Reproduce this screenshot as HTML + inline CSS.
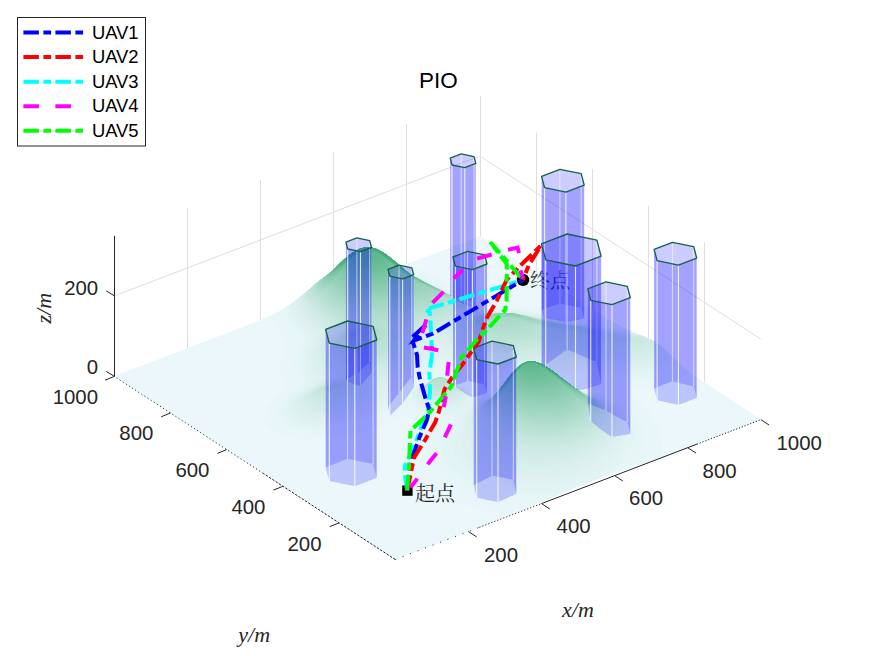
<!DOCTYPE html><html><head><meta charset="utf-8"><title>PIO</title><style>html,body{margin:0;padding:0;background:#fff}svg{display:block}text{font-family:"Liberation Sans",sans-serif}.tk{font-size:20.4px;fill:#262626}.lb{font-family:"Liberation Serif",serif;font-style:italic;font-size:22px;fill:#262626}.lg{font-size:18.4px;fill:#000}.gr{stroke:#dedede;stroke-width:1;fill:none}.ax{stroke:#262626;stroke-width:1;fill:none}.pf{fill:#0000ff;fill-opacity:0.2}.pe{stroke:#fff;stroke-opacity:.85;stroke-width:1.1;fill:none}.pe2{stroke:#fff;stroke-opacity:.6;stroke-width:1;fill:none}.pe3{stroke:#fff;stroke-opacity:.12;stroke-width:1;fill:none}.pt{fill:none;stroke:#176049;stroke-width:1.35;stroke-linejoin:round}.ln{fill:none;stroke-width:4;stroke-linejoin:miter}.cj{font-family:"Liberation Serif","Noto Serif CJK SC",serif;font-size:20px;fill:#262626}</style></head><body>
<svg width="875" height="656" viewBox="0 0 875 656">
<rect width="875" height="656" fill="#fff"/>
<path class="gr" d="M187.5,348.4L187.5,207.8M260.5,320.5L260.5,179.9M333.5,292.5L333.5,151.9M406.5,264.6L406.5,124.0M480.5,236.6L480.5,96.0M704.5,383.1L704.5,242.5M648.5,346.5L648.5,205.9M592.5,309.8L592.5,169.2M536.5,273.2L536.5,132.6M114.3,295.9L480.0,156.1L760.9,339.2"/>
<g id="terrain">
<path d="M396.0,559.6 395.0,559.6 394.0,559.1 388.5,555.4 387.0,554.6 377.0,547.9 375.5,547.1 370.0,543.4 368.5,542.6 357.0,534.9 355.5,534.1 344.0,526.4 342.5,525.6 332.5,518.9 331.0,518.1 324.0,513.4 322.5,512.6 312.5,505.9 311.0,505.1 299.5,497.4 298.0,496.6 286.5,488.9 285.0,488.1 279.5,484.4 278.0,483.6 266.5,475.9 265.0,475.1 253.5,467.4 252.0,466.6 242.0,459.9 240.5,459.1 233.5,454.4 232.0,453.6 222.0,446.9 220.5,446.1 209.0,438.4 207.5,437.6 196.0,429.9 194.5,429.1 189.0,425.4 187.5,424.6 177.5,417.9 176.0,417.1 164.5,409.4 163.0,408.6 151.5,400.9 150.0,400.1 144.5,396.4 143.0,395.6 133.0,388.9 131.5,388.1 120.0,380.4 118.5,379.6 116.0,377.9 115.5,377.6 114.8,377.0 114.5,376.5 114.8,376.0 116.0,375.4 117.0,375.1 118.5,374.4 121.0,373.6 122.5,372.9 125.0,372.1 126.5,371.4 127.5,371.1 129.0,370.4 131.5,369.6 133.0,368.9 134.0,368.6 135.5,367.9 138.0,367.1 139.5,366.4 140.5,366.1 142.0,365.4 144.5,364.6 146.0,363.9 148.5,363.1 150.0,362.4 151.0,362.1 152.5,361.4 155.0,360.6 156.5,359.9 159.0,359.1 160.5,358.4 161.5,358.1 163.0,357.4 165.5,356.6 167.0,355.9 168.0,355.6 169.5,354.9 172.0,354.1 173.5,353.4 174.5,353.1 176.0,352.4 178.5,351.6 180.0,350.9 181.0,350.6 182.5,349.9 185.0,349.1 186.5,348.4 189.0,347.6 190.5,346.9 193.0,346.1 194.5,345.4 195.5,345.1 197.0,344.4 199.5,343.6 201.0,342.9 203.5,342.1 205.0,341.4 206.0,341.1 207.5,340.4 208.5,340.1 210.0,339.4 212.5,338.6 214.0,337.9 215.0,337.6 216.5,336.9 219.0,336.1 220.5,335.4 223.0,334.6 224.5,333.9 227.0,333.1 228.5,332.4 229.5,332.1 231.0,331.4 233.5,330.6 235.0,329.9 236.0,329.6 237.5,328.9 238.5,328.6 240.0,327.9 242.5,327.1 244.0,326.4 246.5,325.6 248.0,324.9 249.0,324.6 250.5,323.9 251.5,323.6 253.0,322.9 254.0,322.6 255.5,321.9 256.5,321.6 258.0,320.9 259.0,320.6 261.5,319.4 262.5,319.1 265.0,317.9 266.0,317.6 270.5,315.4 271.5,315.1 278.5,311.6 279.5,310.9 282.0,309.6 283.0,308.9 285.5,307.6 292.5,302.9 293.0,302.6 294.8,301.0 295.5,300.6 298.8,298.0 299.7,297.5 301.3,296.0 302.5,295.2 304.3,293.5 305.5,292.7 308.0,290.3 309.2,289.5 311.5,287.3 312.7,286.5 315.0,284.3 316.2,283.5 318.3,281.5 319.0,281.1 322.3,278.5 323.2,278.0 324.3,277.0 326.5,275.6 327.8,274.5 329.0,273.7 331.5,271.3 333.0,270.2 340.0,263.3 341.5,262.2 345.5,258.3 346.7,257.5 348.8,255.5 349.5,255.1 350.8,254.0 351.5,253.6 352.8,252.5 353.5,252.1 354.5,251.4 359.5,248.9 360.5,248.6 362.5,247.9 364.0,247.6 364.5,247.4 366.0,247.2 371.0,247.3 372.0,247.6 373.5,247.9 375.5,248.6 376.5,248.9 381.5,251.4 382.5,252.1 384.0,252.9 387.3,255.5 388.2,256.0 389.8,257.5 390.7,258.0 392.3,259.5 393.2,260.0 395.5,262.2 397.0,263.3 399.3,265.5 400.5,265.7 401.5,265.4 403.0,265.1 406.5,263.9 407.5,263.6 408.0,263.4 409.0,263.1 409.5,262.9 410.5,262.6 411.0,262.4 412.0,262.1 413.5,261.4 417.5,260.1 419.0,259.4 423.0,258.1 424.5,257.4 427.0,256.6 428.5,255.9 429.5,255.6 431.0,254.9 433.5,254.1 435.0,253.4 437.5,252.6 439.0,251.9 440.0,251.6 441.5,250.9 444.0,250.1 445.5,249.4 448.0,248.6 449.5,247.9 452.0,247.1 453.5,246.4 454.5,246.1 456.0,245.4 458.5,244.6 460.0,243.9 461.0,243.6 462.5,242.9 465.0,242.1 466.5,241.4 467.5,241.1 469.0,240.4 471.5,239.6 473.0,238.9 474.0,238.6 475.5,237.9 478.0,237.1 479.5,236.4 480.0,236.4 482.0,237.4 493.5,245.1 495.0,245.9 506.5,253.6 508.0,254.4 518.0,261.1 519.5,261.9 525.0,265.6 526.5,266.4 539.5,275.1 541.0,275.9 552.5,283.6 554.0,284.4 561.0,289.1 562.5,289.9 571.0,295.6 572.5,296.4 582.5,303.1 584.0,303.9 589.5,307.6 591.0,308.4 595.0,311.1 596.5,311.9 599.0,313.6 600.5,314.4 601.5,315.1 603.0,315.9 605.5,317.6 607.0,318.4 608.0,319.1 609.5,319.9 610.5,320.6 613.0,321.9 614.0,322.6 615.5,323.4 616.5,324.1 620.0,325.9 621.0,326.6 627.0,329.6 628.0,329.9 631.5,331.6 632.5,331.9 634.0,332.6 635.0,332.9 636.5,333.6 639.0,334.4 640.5,335.1 643.0,335.9 644.5,336.6 645.5,336.9 653.5,340.9 654.5,341.6 656.7,343.0 660.0,345.6 660.7,346.0 663.0,348.2 664.5,349.3 671.0,355.7 672.2,356.5 673.0,357.6 674.0,358.3 679.0,363.2 680.0,363.9 680.5,364.6 681.5,365.3 683.5,367.2 684.7,368.0 686.3,369.5 687.2,370.0 688.8,371.5 689.7,372.0 690.8,373.0 693.2,374.5 694.8,376.0 700.0,379.4 701.0,380.1 701.5,380.4 702.5,381.1 703.0,381.4 704.5,382.6 706.0,383.4 719.0,392.1 720.5,392.9 732.0,400.6 733.5,401.4 742.0,407.1 743.5,407.9 750.5,412.6 752.0,413.4 759.0,418.1 759.5,418.4 760.9,419.5 760.5,420.1 759.5,420.6 758.5,420.9 757.0,421.6 754.5,422.4 753.0,423.1 750.5,423.9 749.0,424.6 748.0,424.9 746.5,425.6 744.0,426.4 742.5,427.1 740.0,427.9 738.5,428.6 736.0,429.4 734.5,430.1 733.5,430.4 732.0,431.1 729.5,431.9 728.0,432.6 727.0,432.9 725.5,433.6 723.0,434.4 721.5,435.1 719.0,435.9 717.5,436.6 716.5,436.9 715.0,437.6 712.5,438.4 711.0,439.1 708.5,439.9 707.0,440.6 704.5,441.4 703.0,442.1 700.5,442.9 699.0,443.6 698.0,443.9 696.5,444.6 692.5,445.9 691.0,446.6 688.5,447.4 687.0,448.1 683.0,449.4 681.5,450.1 677.5,451.4 676.0,452.1 672.0,453.4 670.5,454.1 665.0,455.9 663.5,456.6 662.5,456.9 662.0,457.1 655.0,459.4 653.5,460.1 646.5,462.4 646.0,462.6 645.0,462.9 644.5,463.1 643.5,463.4 643.0,463.6 642.0,463.9 641.5,464.1 640.5,464.4 640.0,464.6 639.0,464.9 638.5,465.1 637.5,465.4 637.0,465.6 636.0,465.9 635.5,466.1 634.5,466.4 634.0,466.6 633.0,466.9 632.5,467.1 631.5,467.4 631.0,467.6 630.0,467.9 629.5,468.1 628.5,468.4 628.0,468.6 627.0,468.9 626.5,469.1 625.5,469.4 625.0,469.6 624.0,469.9 623.5,470.1 622.5,470.4 622.0,470.6 621.0,470.9 620.5,471.1 619.5,471.4 619.0,471.6 618.0,471.9 617.5,472.1 616.5,472.4 616.0,472.6 615.0,472.9 614.5,473.1 613.5,473.4 613.0,473.6 612.0,473.9 610.5,474.6 603.5,476.9 602.0,477.6 595.0,479.9 593.5,480.6 592.5,480.9 591.0,481.6 588.5,482.4 587.0,483.1 584.5,483.9 583.0,484.6 582.0,484.9 580.5,485.6 579.5,485.9 578.0,486.6 575.5,487.4 573.0,488.6 572.0,488.9 570.5,489.6 569.5,489.9 568.0,490.6 567.0,490.9 564.5,492.1 563.5,492.4 562.0,493.1 561.0,493.4 558.5,494.6 557.5,494.9 555.0,496.1 554.0,496.4 551.5,497.6 550.5,497.9 548.0,499.1 547.0,499.4 544.5,500.6 543.5,500.9 541.0,502.1 540.0,502.4 537.5,503.6 536.5,503.9 534.0,505.1 533.0,505.4 530.5,506.6 529.5,506.9 527.0,508.1 526.0,508.4 524.5,509.1 523.5,509.4 521.0,510.6 520.0,510.9 517.5,512.1 516.5,512.4 515.0,513.1 514.0,513.4 511.5,514.6 510.5,514.9 509.0,515.6 508.0,515.9 505.5,517.1 504.5,517.4 503.0,518.1 502.0,518.4 500.5,519.1 499.5,519.4 498.0,520.1 497.0,520.4 495.5,521.1 494.5,521.4 493.0,522.1 492.0,522.4 490.5,523.1 489.5,523.4 488.0,524.1 487.0,524.4 485.5,525.1 484.5,525.4 483.0,526.1 482.0,526.4 480.5,527.1 478.0,527.9 476.5,528.6 475.5,528.9 474.0,529.6 473.0,529.9 471.5,530.6 470.5,530.9 469.0,531.6 466.5,532.4 465.0,533.1 464.0,533.4 462.5,534.1 460.0,534.9 458.5,535.6 457.5,535.9 456.0,536.6 455.0,536.9 453.5,537.6 451.0,538.4 449.5,539.1 447.0,539.9 445.5,540.6 444.5,540.9 443.0,541.6 440.5,542.4 439.0,543.1 438.0,543.4 436.5,544.1 434.0,544.9 432.5,545.6 431.5,545.9 430.0,546.6 427.5,547.4 426.0,548.1 423.5,548.9 422.0,549.6 421.0,549.9 419.5,550.6 417.0,551.4 415.5,552.1 413.0,552.9 411.5,553.6 410.5,553.9 409.0,554.6 406.5,555.4 405.0,556.1 404.0,556.4 402.5,557.1 401.5,557.4 400.0,558.1 397.5,558.9Z" fill="#ebf7fa" fill-rule="evenodd"/>
<path d="M511.5,514.6 510.5,514.6 509.5,514.3 506.0,514.2 504.5,513.8 502.0,513.7 500.5,513.3 497.5,513.2 496.0,512.8 494.5,512.7 493.0,512.3 491.5,512.2 490.0,511.8 488.5,511.7 485.0,510.9 483.0,510.6 465.0,506.1 463.5,505.4 462.0,505.1 456.0,503.1 454.5,502.4 452.0,501.6 449.5,500.4 448.5,500.1 446.0,498.9 445.0,498.6 442.0,496.9 441.0,496.6 439.0,495.4 438.0,495.1 428.0,489.1 419.0,482.2 417.5,480.4 414.8,478.0 414.0,476.8 411.4,474.0 410.1,471.5 408.9,470.5 407.6,467.5 406.9,466.5 404.9,462.5 404.6,461.0 403.9,459.5 404.0,458.5 403.3,456.5 403.2,454.5 402.8,453.0 403.0,452.0 402.8,451.0 402.8,448.0 403.2,446.5 403.3,444.5 403.6,443.5 403.9,441.5 406.4,434.5 407.1,433.5 407.4,432.5 408.6,430.5 408.9,429.5 410.1,428.0 410.4,427.0 412.6,423.5 413.1,422.0 412.6,420.0 411.8,419.5 411.0,418.4 410.0,418.1 409.0,417.4 407.0,416.8 404.5,416.5 401.5,416.9 395.0,419.8 393.0,421.1 388.5,422.9 385.0,424.6 382.5,425.4 380.0,426.6 376.0,427.9 374.5,428.6 373.0,428.9 370.0,430.1 368.5,430.4 365.0,431.6 363.5,431.9 358.0,433.6 344.0,436.7 342.5,436.8 341.0,437.2 339.0,437.3 337.5,437.7 335.5,437.8 334.0,438.2 331.5,438.3 330.0,438.7 326.5,438.8 325.0,439.2 316.0,439.3 313.5,439.7 311.0,439.7 308.5,439.3 301.5,439.2 300.0,438.8 297.5,438.7 296.0,438.3 294.0,438.2 290.5,437.4 288.5,437.1 281.5,435.1 274.0,431.6 270.3,429.0 267.8,426.5 265.9,424.0 264.3,419.0 264.5,414.0 265.1,412.5 265.4,411.0 267.4,407.0 272.9,400.0 276.5,396.7 277.3,395.5 278.6,394.5 281.5,391.2 283.6,387.5 284.2,384.0 283.6,381.5 282.9,380.0 280.9,374.0 279.9,370.0 279.8,364.5 280.1,363.5 280.3,361.5 280.9,359.0 281.6,357.5 282.4,354.5 283.6,352.5 284.4,349.5 285.6,346.5 285.8,345.0 285.6,342.5 285.1,340.5 284.4,339.5 284.1,338.5 281.0,333.8 279.5,332.2 278.1,330.0 277.4,329.5 275.4,326.5 274.6,325.0 273.4,323.5 270.4,317.5 270.0,316.0 270.3,315.5 271.5,315.1 278.5,311.6 279.5,310.9 285.5,307.6 293.2,302.5 294.8,301.0 299.7,297.5 304.3,293.5 305.2,293.0 308.0,290.3 309.2,289.5 318.3,281.5 328.7,274.0 331.5,271.3 333.0,270.2 340.0,263.3 341.5,262.2 345.5,258.3 353.0,252.4 359.5,248.9 362.5,247.9 365.0,247.3 371.0,247.3 376.5,248.9 384.0,252.9 393.2,260.0 399.5,265.6 400.5,265.7 402.0,265.3 403.0,265.3 404.0,265.6 406.0,265.9 411.5,267.6 413.0,267.9 423.5,271.4 428.5,273.6 431.0,274.4 432.0,275.1 433.0,275.4 447.0,282.4 448.0,283.1 449.0,283.4 457.5,287.6 458.5,287.9 459.5,288.6 464.0,290.4 465.0,291.1 468.5,292.4 469.5,293.1 470.5,293.4 473.0,294.6 476.5,295.9 477.5,296.6 487.0,300.1 495.0,302.1 497.5,302.3 499.0,302.7 502.0,302.8 503.5,303.2 507.5,303.3 509.0,303.7 514.0,303.8 515.5,304.2 519.0,304.3 520.5,304.7 523.5,304.8 524.5,305.1 527.0,305.3 528.5,305.7 534.0,306.3 538.0,307.2 540.0,307.4 542.5,308.1 544.5,308.4 547.5,309.1 549.5,309.4 550.0,309.6 552.0,309.9 552.5,310.1 554.5,310.4 560.0,311.7 561.5,311.8 565.5,312.7 567.0,312.8 571.0,313.7 573.0,313.8 574.5,314.2 576.5,314.3 581.0,315.2 586.5,315.8 596.0,317.7 598.5,317.9 599.0,318.1 603.5,318.9 606.0,319.6 610.0,320.4 613.0,321.9 616.5,324.1 620.0,325.9 621.0,326.6 627.0,329.6 628.0,329.9 631.5,331.6 632.5,331.9 636.5,333.6 645.5,336.9 653.5,340.9 660.7,346.0 663.0,348.2 664.5,349.3 679.0,363.2 683.8,367.5 689.6,372.0 689.6,372.5 687.2,374.5 681.5,378.1 680.5,378.4 678.5,379.6 671.0,382.6 669.5,382.9 662.5,385.1 658.5,385.9 656.0,386.6 654.0,386.8 650.0,387.7 648.0,387.8 646.5,388.2 645.0,388.3 643.5,388.7 641.5,388.8 637.5,389.7 635.5,389.9 633.5,390.6 632.0,390.9 630.8,391.5 629.9,392.5 629.9,393.5 631.0,395.2 635.5,399.7 639.2,402.5 643.5,406.3 649.0,411.8 652.4,416.5 653.1,417.0 653.5,418.2 655.1,420.0 657.4,425.0 658.6,427.0 658.9,428.5 660.0,431.0 660.4,433.0 661.6,436.5 661.5,437.5 662.0,439.0 661.8,440.0 662.2,442.5 662.3,447.0 662.6,448.0 661.6,455.0 661.1,457.0 660.7,457.5 655.0,459.4 653.5,460.1 612.0,473.9 610.5,474.6 595.0,479.9 591.0,481.6 584.5,483.9 578.0,486.6 575.5,487.4 573.0,488.6 567.0,490.9 564.5,492.1 561.0,493.4 558.5,494.6 557.5,494.9 555.0,496.1 554.0,496.4 551.5,497.6 550.5,497.9 548.0,499.1 547.0,499.4 544.5,500.6 543.5,500.9 541.0,502.1 540.0,502.4 537.5,503.6 533.0,505.4 530.5,506.6 529.5,506.9 527.0,508.1 523.5,509.4 517.5,512.1 514.0,513.4Z" fill="#e9f6f9" fill-rule="evenodd"/>
<path d="M541.0,502.1 525.0,502.2 523.0,501.8 515.5,501.7 514.0,501.3 510.5,501.2 509.0,500.8 506.5,500.7 505.5,500.4 503.0,500.2 501.5,499.8 499.5,499.7 498.0,499.3 496.0,499.1 493.5,498.4 491.5,498.1 489.0,497.4 487.0,497.1 481.0,495.6 479.0,494.9 477.5,494.6 473.0,493.1 471.5,492.4 470.0,492.1 468.5,491.4 466.0,490.6 453.5,484.6 447.0,480.6 440.0,475.2 437.8,473.0 437.0,471.8 435.9,471.0 432.4,466.5 429.8,462.0 428.4,458.5 427.4,455.5 427.1,453.5 426.8,452.5 426.8,446.0 428.4,438.5 429.4,436.0 430.1,435.0 432.9,430.0 438.1,423.5 439.0,421.5 438.6,420.5 437.5,419.4 435.0,418.4 424.5,414.9 423.0,414.6 422.0,413.9 418.5,412.6 415.5,411.1 414.5,410.4 413.5,410.1 406.5,405.4 403.5,403.9 400.5,403.9 397.0,405.4 396.5,406.1 392.3,409.0 390.7,410.5 387.0,412.9 385.5,414.1 384.0,414.9 382.5,416.1 380.0,417.6 378.0,418.4 377.0,419.1 375.0,419.9 374.0,420.6 364.0,424.6 359.5,426.1 358.0,426.4 354.5,427.6 346.5,429.6 344.5,429.9 341.0,430.7 339.5,430.8 338.0,431.2 336.0,431.3 334.5,431.7 332.0,431.8 330.5,432.2 326.5,432.3 325.0,432.7 308.5,432.7 307.0,432.3 304.0,432.2 302.5,431.8 300.5,431.7 292.0,429.6 288.0,427.9 287.0,427.6 282.3,425.0 279.0,421.7 276.9,418.0 276.3,416.0 276.0,412.5 276.3,410.0 278.4,405.5 281.0,401.8 287.5,395.3 288.5,394.6 289.3,393.5 290.5,392.7 294.7,388.5 297.1,385.0 297.6,381.5 296.6,378.5 295.9,377.5 295.6,376.5 294.4,374.0 293.4,371.0 292.8,368.5 292.7,366.0 292.3,364.0 292.6,363.0 292.4,361.5 293.4,357.0 295.1,353.0 295.9,350.5 297.1,348.0 298.1,345.0 298.2,341.0 297.1,338.5 294.6,334.5 293.9,334.0 292.0,331.3 289.5,328.7 283.9,321.0 282.6,318.0 281.3,316.0 279.9,311.5 280.0,310.8 283.0,308.9 285.5,307.6 293.0,302.6 294.8,301.0 302.2,295.5 318.3,281.5 328.7,274.0 331.5,271.3 333.0,270.2 340.0,263.3 341.5,262.2 345.5,258.3 353.0,252.4 359.5,248.9 362.5,247.9 365.0,247.3 371.0,247.3 376.5,248.9 384.0,252.9 393.2,260.0 395.5,262.2 396.7,263.0 399.0,265.2 400.2,266.0 405.0,270.1 406.0,270.6 409.5,271.4 412.5,272.4 414.0,273.1 418.0,274.4 419.5,275.1 424.5,276.9 429.0,279.1 430.0,279.4 431.0,280.1 433.0,280.9 434.0,281.6 436.0,282.4 438.0,283.6 439.0,283.9 441.0,285.1 442.0,285.4 447.5,288.1 448.5,288.4 452.0,290.1 461.5,293.9 465.0,295.6 469.5,297.4 474.0,299.6 475.0,299.9 476.0,300.6 479.5,301.9 480.5,302.6 483.0,303.6 490.0,305.6 492.0,305.9 493.0,306.2 494.5,306.3 496.0,306.7 499.0,306.8 500.5,307.2 505.5,307.3 507.0,307.7 512.0,307.8 513.5,308.2 517.5,308.3 519.0,308.7 521.5,308.8 523.0,309.2 526.0,309.3 527.5,309.7 532.0,310.3 536.0,311.2 537.5,311.3 541.0,312.1 543.0,312.4 545.5,313.1 550.0,313.9 552.5,314.6 554.5,314.9 558.0,315.7 559.5,315.8 563.0,316.6 565.5,316.8 567.0,317.2 569.0,317.3 573.5,318.2 575.5,318.3 576.5,318.6 579.0,318.8 580.5,319.2 582.5,319.3 589.5,320.7 591.5,320.8 597.5,322.1 599.5,322.4 602.0,323.1 611.5,324.9 612.0,325.1 614.5,325.4 617.0,326.1 620.0,326.4 631.5,331.6 645.5,336.9 653.5,340.9 656.7,343.0 664.5,349.3 671.0,355.7 672.2,356.5 673.0,357.6 674.0,358.3 679.0,363.2 681.5,365.3 682.0,366.0 681.6,367.0 677.0,370.6 672.0,373.6 671.0,373.9 667.5,375.6 664.5,376.4 663.0,377.1 661.5,377.4 659.5,378.1 655.0,379.2 653.5,379.3 649.0,380.2 646.5,380.3 645.0,380.7 641.5,380.8 640.0,381.2 614.0,381.2 612.0,380.8 610.5,381.0 607.0,380.8 605.0,381.2 598.5,381.3 597.0,381.7 595.5,381.8 594.5,382.1 592.5,382.4 591.3,383.0 590.4,384.0 590.5,384.6 594.5,386.7 596.5,387.4 601.0,389.6 602.0,389.9 606.5,392.1 607.5,392.4 615.5,396.4 616.5,397.1 617.5,397.4 622.0,400.4 623.5,401.6 627.2,404.0 629.5,406.2 631.0,407.3 634.1,410.5 635.9,413.0 636.6,413.5 637.4,415.0 638.1,415.5 638.6,416.5 638.9,417.5 640.6,420.5 642.6,426.0 642.5,427.0 643.0,428.5 643.3,432.0 643.6,433.0 643.3,434.5 643.7,436.5 643.3,438.0 643.2,441.5 642.9,442.5 642.7,444.5 642.1,447.0 641.4,449.0 641.1,450.5 639.9,453.0 639.6,454.5 637.9,457.5 637.1,459.5 632.9,466.0 632.6,467.0 612.0,473.9 610.5,474.6 595.0,479.9 591.0,481.6 584.5,483.9 578.0,486.6 575.5,487.4 573.0,488.6 567.0,490.9 564.5,492.1 561.0,493.4ZM482.8,392.5 487.5,391.1 491.5,389.4 494.0,388.6 495.0,387.9 496.0,387.6 499.0,386.1 499.6,385.5 499.6,385.0 498.5,383.9 496.0,382.9 492.0,382.1 487.5,380.9 485.5,380.6 483.0,379.9 478.5,379.1 470.5,377.1 465.0,375.4 463.0,375.1 457.5,373.4 455.5,373.1 452.0,372.3 450.5,372.2 449.0,371.8 445.0,371.8 444.0,372.1 442.0,372.3 439.5,372.9 435.5,374.9 432.5,376.9 430.9,379.0 431.0,379.7 431.5,380.1 432.0,380.1 435.0,378.4 438.0,377.4 442.0,377.4 446.0,378.9 449.2,381.0 451.5,383.1 453.5,383.4 457.5,384.4 464.5,386.9 465.5,387.6 466.5,387.9 471.5,390.4 472.5,391.1 475.0,392.1 477.0,392.7 482.0,392.7Z" fill="#e6f5f6" fill-rule="evenodd"/>
<path d="M538.5,493.5 537.0,493.7 527.0,493.7 525.5,493.3 518.5,493.2 517.0,492.8 512.5,492.7 511.0,492.3 509.0,492.2 507.5,491.8 505.5,491.7 504.0,491.3 502.5,491.2 499.0,490.4 497.0,490.1 492.5,488.9 490.5,488.6 488.5,487.9 487.0,487.6 480.5,485.6 479.0,484.9 474.0,483.1 470.5,481.4 469.5,481.1 463.0,477.6 456.8,473.5 454.0,471.2 448.3,465.5 444.9,460.5 443.4,457.5 442.6,454.5 441.9,452.5 441.7,449.0 441.3,447.5 441.3,444.0 441.8,440.0 442.9,436.5 444.9,432.0 447.9,427.0 454.6,418.0 454.1,416.5 453.5,415.9 451.5,415.3 449.5,415.2 448.0,414.8 443.0,414.7 441.5,414.3 438.5,414.2 437.0,413.8 435.0,413.7 431.5,412.9 429.5,412.6 423.0,410.6 417.0,407.6 414.5,406.1 413.7,405.0 412.8,404.5 411.0,402.7 408.4,398.0 408.2,396.0 407.8,394.5 408.4,392.0 409.5,389.8 411.5,387.9 414.0,386.4 418.0,384.9 422.5,383.8 428.0,383.1 434.0,378.9 438.0,377.4 441.5,377.3 445.0,378.4 449.2,381.0 453.5,384.6 456.5,385.6 458.0,385.9 459.5,386.6 460.5,386.9 466.5,389.9 470.2,392.5 474.5,396.1 476.5,396.7 479.0,396.7 482.5,396.1 487.0,394.6 488.5,393.9 490.0,393.6 491.5,392.9 498.5,390.6 499.5,389.7 503.0,384.8 507.6,379.0 508.4,377.5 508.0,377.3 506.5,377.2 505.0,376.8 498.5,376.7 497.0,376.3 494.5,376.2 493.0,375.8 490.0,375.7 485.5,374.8 484.0,374.7 481.0,373.9 476.5,373.1 470.5,371.6 451.0,365.4 449.0,365.1 448.0,364.8 446.0,364.7 444.5,364.3 439.5,364.9 435.5,366.4 430.5,369.4 426.7,372.5 424.5,373.9 419.2,378.0 414.8,381.0 414.0,382.1 412.5,382.9 406.7,387.5 400.3,392.0 397.5,394.7 396.0,395.8 395.2,397.0 393.4,398.5 389.7,403.0 385.5,407.2 380.5,411.1 373.0,415.6 362.0,420.6 354.5,423.1 349.0,424.4 347.0,425.1 345.0,425.4 339.0,426.7 337.0,426.8 336.0,427.1 333.5,427.3 332.0,427.7 328.5,427.8 326.5,428.2 311.0,428.2 309.5,427.8 307.0,427.7 303.5,426.9 301.5,426.6 296.0,425.1 291.5,423.1 288.3,421.0 285.5,418.2 284.4,416.0 282.8,410.5 283.4,407.0 284.9,404.0 287.3,400.5 293.0,394.9 298.8,390.0 299.7,389.5 302.0,387.2 304.1,384.5 305.6,382.0 305.6,380.0 304.6,377.0 303.9,376.0 303.1,374.0 302.4,373.0 301.6,370.5 300.9,369.0 299.4,361.5 299.7,360.5 299.9,357.5 301.1,354.0 301.4,352.5 302.1,351.5 302.4,350.5 305.1,344.5 305.7,342.0 305.7,340.5 304.6,337.5 303.6,336.0 300.2,331.5 293.0,323.7 289.4,318.0 287.4,314.0 287.1,312.5 285.9,308.5 286.0,307.3 293.0,302.6 294.8,301.0 299.7,297.5 304.3,293.5 305.5,292.7 308.0,290.3 309.2,289.5 318.3,281.5 328.7,274.0 331.5,271.3 333.0,270.2 340.0,263.3 341.5,262.2 345.5,258.3 353.0,252.4 359.5,248.9 362.5,247.9 365.0,247.3 371.0,247.3 376.5,248.9 384.0,252.9 393.2,260.0 402.3,268.0 409.0,273.1 412.0,274.6 416.0,275.9 417.5,276.6 421.0,277.9 437.0,285.6 438.0,285.9 439.0,286.6 443.5,288.4 444.5,289.1 455.5,293.4 459.0,295.1 466.0,297.9 480.5,305.1 483.0,305.9 484.5,306.6 491.0,308.1 493.5,308.3 495.0,308.7 498.5,308.8 500.0,309.2 507.0,309.3 508.5,309.7 513.0,309.8 514.5,310.2 518.5,310.3 520.0,310.7 522.0,310.8 523.0,311.1 525.5,311.3 527.0,311.7 529.0,311.8 533.0,312.7 534.5,312.8 538.0,313.6 540.0,313.9 547.0,315.6 549.0,315.9 557.5,317.7 559.5,317.8 566.5,319.2 568.5,319.3 570.0,319.7 572.5,319.8 574.0,320.2 576.0,320.3 577.5,320.7 579.5,320.8 584.0,321.7 588.5,322.3 597.0,324.1 599.0,324.4 599.5,324.6 601.5,324.9 604.0,325.6 608.5,326.4 614.0,327.7 615.5,327.8 619.0,328.6 621.5,328.8 623.0,329.2 626.5,329.4 636.5,333.6 645.5,336.9 653.5,340.9 660.7,346.0 663.0,348.2 664.5,349.3 671.0,355.7 672.2,356.5 673.0,357.6 674.0,358.3 676.7,361.0 677.1,361.5 677.1,362.0 676.6,363.0 675.5,363.8 674.7,365.0 672.0,367.1 671.0,367.4 669.5,368.6 663.0,371.6 657.0,373.6 652.5,374.7 651.0,374.8 646.5,375.7 644.0,375.8 642.5,376.2 634.0,376.3 632.0,376.5 631.0,376.3 620.0,376.2 618.5,375.8 611.5,375.7 610.0,375.3 593.0,375.3 591.0,375.7 584.5,375.8 583.0,376.2 577.0,376.3 575.5,376.7 565.0,376.8 561.4,377.5 562.5,378.7 565.3,381.0 571.0,385.1 580.5,386.9 584.5,387.9 590.0,389.6 591.5,389.9 594.5,391.1 597.5,391.9 599.0,392.6 601.5,393.4 609.0,396.8 611.0,398.1 614.0,399.4 622.7,405.5 624.4,407.5 625.5,408.3 627.1,410.0 630.1,414.0 632.6,418.5 633.4,421.0 634.1,422.5 634.8,426.5 634.7,431.5 634.3,433.0 634.1,436.5 633.1,441.0 631.3,444.5 630.7,447.0 626.6,454.5 622.5,460.2 620.6,462.5 619.5,463.3 618.7,464.5 617.0,465.9 616.0,467.2 614.8,468.0 614.0,469.1 612.5,469.9 611.7,471.0 604.5,475.9 603.0,477.1 595.0,479.9 587.0,483.1 584.5,483.9 578.0,486.6 575.5,487.4 570.5,489.6 569.0,490.0 568.0,489.8 562.0,491.2 560.5,491.3 559.0,491.7 557.0,491.8 555.5,492.2 553.0,492.3 551.5,492.7 547.5,492.8 546.0,493.2 539.5,493.3Z" fill="#e3f4f4" fill-rule="evenodd"/>
<path d="M538.0,486.6 527.5,486.7 526.5,486.5 525.5,486.6 524.5,486.3 518.5,486.2 517.0,485.8 514.0,485.7 512.5,485.3 510.5,485.2 509.0,484.8 507.5,484.7 506.0,484.3 504.5,484.2 501.0,483.4 499.0,483.1 497.0,482.4 495.0,482.1 491.5,480.9 490.0,480.6 483.0,478.1 474.5,474.2 472.5,472.9 471.5,472.6 468.5,470.6 463.5,466.7 459.3,462.5 455.4,457.0 455.1,456.0 453.9,453.5 452.9,449.5 452.7,447.0 452.3,445.5 452.3,440.0 452.6,439.0 452.8,437.0 453.4,434.5 454.6,432.0 456.4,427.0 458.6,422.5 458.9,421.5 463.6,413.5 465.1,410.5 465.0,409.8 464.0,409.3 460.5,409.3 456.5,410.2 455.0,410.3 453.5,410.7 450.5,410.8 449.0,411.2 439.0,411.2 437.5,410.8 434.0,410.7 427.0,409.1 425.5,408.4 424.0,408.1 423.0,407.4 421.0,406.6 420.0,405.9 419.0,405.6 416.5,403.7 413.9,401.0 413.6,400.0 412.9,399.0 411.4,395.5 411.4,394.0 411.9,392.5 412.9,391.0 415.0,388.8 417.0,387.4 419.0,386.4 423.5,384.9 427.0,384.1 431.0,380.9 435.0,378.4 438.5,377.3 441.5,377.3 446.0,378.9 449.2,381.0 454.0,385.1 460.0,387.4 463.0,388.9 466.7,391.5 468.7,393.5 472.5,399.7 473.5,400.2 476.0,400.1 478.0,399.4 479.5,399.1 485.0,396.9 487.5,396.1 489.0,395.4 496.0,393.1 497.0,392.6 499.5,389.7 503.0,384.8 504.5,383.2 509.5,376.3 511.5,374.2 511.9,373.0 511.5,372.8 501.0,372.7 499.5,372.3 494.5,372.2 493.0,371.8 487.5,371.2 486.0,370.8 484.5,370.7 481.0,369.9 479.0,369.6 475.0,368.6 473.0,367.9 471.5,367.6 464.0,365.1 448.5,358.9 444.0,357.8 438.0,357.9 433.5,359.9 431.7,361.5 429.3,363.0 426.2,366.0 416.0,374.1 414.5,374.9 409.0,378.6 406.5,379.9 405.0,381.1 402.0,382.9 400.5,384.1 399.5,384.4 397.3,386.0 391.5,391.8 387.5,397.7 384.9,400.5 382.6,403.5 381.5,404.3 378.2,407.5 376.0,409.1 374.5,409.9 373.0,411.1 369.5,412.9 367.5,414.2 365.5,414.9 362.0,416.6 353.5,419.6 352.0,419.9 350.0,420.6 344.0,422.1 342.0,422.4 338.5,423.2 337.0,423.3 335.5,423.7 332.5,423.8 331.0,424.2 326.5,424.3 325.0,424.7 317.0,424.7 315.5,424.3 311.5,424.2 310.0,423.8 308.5,423.7 305.0,422.9 303.0,422.6 297.5,420.6 293.3,418.0 290.4,415.0 289.1,411.5 288.4,410.5 287.9,408.0 288.4,405.0 289.4,403.0 291.5,399.8 295.0,396.3 299.2,393.0 301.8,390.5 307.7,386.0 308.9,384.5 310.0,383.7 311.1,382.0 312.1,379.5 311.6,377.5 309.9,374.5 308.4,371.5 308.1,370.5 306.4,367.5 306.1,365.5 305.4,363.5 304.8,360.0 305.4,354.5 306.9,350.5 307.6,349.5 307.9,348.5 310.6,342.5 311.2,339.5 310.6,337.5 308.0,333.3 304.3,329.5 303.6,328.5 301.8,327.0 294.9,318.5 293.6,316.0 292.9,315.0 292.6,314.0 291.4,311.5 291.1,309.5 289.9,305.5 290.0,304.8 302.2,295.5 318.3,281.5 328.7,274.0 331.5,271.3 333.0,270.2 340.0,263.3 341.5,262.2 345.5,258.3 353.0,252.4 359.5,248.9 362.5,247.9 365.0,247.3 371.0,247.3 376.5,248.9 384.0,252.9 393.2,260.0 399.3,265.5 400.2,266.0 407.3,272.0 415.0,277.1 421.0,279.4 422.0,280.1 423.0,280.4 431.5,284.3 433.5,285.6 441.5,288.9 442.5,289.6 445.0,290.4 447.5,291.6 448.5,291.9 452.5,293.6 455.0,294.4 457.5,295.6 462.0,297.4 475.0,303.9 476.0,304.6 477.0,304.9 481.5,307.1 488.5,309.1 490.5,309.3 492.0,309.7 495.5,309.8 497.0,310.2 503.5,310.3 505.0,310.7 511.0,310.8 512.5,311.2 516.5,311.3 518.0,311.7 521.0,311.8 522.5,312.2 527.5,312.9 528.5,313.2 530.5,313.3 556.0,318.7 560.5,319.3 562.0,319.7 564.0,319.8 568.5,320.7 570.5,320.8 572.0,321.2 574.0,321.3 575.5,321.7 577.5,321.8 579.0,322.2 581.0,322.3 585.5,323.2 587.0,323.3 595.5,325.1 597.5,325.4 598.0,325.6 600.0,325.9 604.5,327.1 611.5,328.4 614.5,329.2 616.0,329.3 620.5,330.2 623.0,330.3 624.5,330.7 627.0,330.8 628.5,331.2 631.0,331.4 636.5,333.6 645.5,336.9 653.5,340.9 660.7,346.0 663.0,348.2 664.5,349.3 671.0,355.7 672.5,356.8 673.1,358.0 673.1,358.5 672.0,360.2 668.2,364.0 665.5,365.6 663.5,366.4 661.5,367.6 659.0,368.4 657.5,369.1 646.5,371.7 644.0,371.8 642.5,372.2 636.5,372.3 635.0,372.7 630.0,372.7 627.0,372.3 620.0,372.2 618.5,371.8 612.5,371.7 611.0,371.3 588.0,371.3 586.0,371.7 577.0,371.8 575.5,372.2 556.0,372.3 554.9,372.5 556.0,373.7 558.8,376.0 563.7,379.5 565.3,381.0 573.5,387.1 576.0,388.1 580.5,388.9 590.5,391.4 593.5,392.4 595.0,393.1 599.0,394.4 610.5,399.9 612.0,401.1 615.2,403.0 620.7,407.5 625.0,412.8 626.6,415.5 628.1,419.0 628.6,421.0 629.2,427.0 628.4,430.0 628.2,432.0 627.1,437.0 625.9,439.5 625.1,442.0 623.9,443.5 623.6,444.5 622.4,446.0 622.1,447.0 620.9,448.5 618.6,452.0 617.4,453.0 615.0,456.2 614.0,456.9 610.5,460.6 604.2,466.0 600.5,468.4 599.0,469.6 596.5,470.9 594.0,472.6 591.0,473.9 588.0,475.6 584.5,476.9 582.0,478.1 576.5,479.9 575.0,480.6 563.0,483.6 561.0,483.9 557.5,484.7 556.0,484.8 554.5,485.2 551.5,485.3 550.0,485.7 547.0,485.8 545.5,486.2 539.0,486.3Z" fill="#e1f2f2" fill-rule="evenodd"/>
<path d="M543.5,480.1 522.0,480.2 520.0,479.8 517.0,479.7 515.5,479.3 513.0,479.2 511.5,478.8 506.5,478.1 498.5,476.1 495.0,474.9 492.0,474.1 490.5,473.4 487.0,472.1 480.0,468.6 474.5,465.1 471.7,462.5 470.8,462.0 470.0,460.9 468.5,459.7 465.4,455.5 464.1,452.5 463.4,451.5 463.1,450.0 462.4,448.5 462.2,446.0 461.3,442.5 461.3,434.5 461.7,433.0 461.8,431.0 464.1,421.5 464.4,419.5 466.1,416.0 466.8,414.0 468.9,410.5 471.8,406.5 474.5,403.8 476.5,402.4 479.0,401.1 480.0,400.4 481.0,400.1 486.5,397.4 487.5,397.1 491.5,395.4 495.5,394.1 496.0,393.7 499.5,389.7 509.5,376.3 511.5,374.2 512.3,373.0 515.2,370.0 515.4,369.5 515.0,369.3 499.0,369.2 497.5,368.8 493.5,368.7 489.0,367.8 486.5,367.7 483.5,366.9 479.0,366.1 464.0,361.1 459.5,358.9 457.5,358.1 454.5,356.4 452.5,355.6 451.5,354.9 445.5,351.9 440.5,350.3 437.5,350.4 435.5,350.9 433.5,352.1 432.3,352.5 431.5,353.6 430.5,354.3 427.8,357.0 426.7,358.5 423.8,361.5 423.1,362.5 421.8,363.5 421.0,364.6 413.2,371.0 407.0,374.9 405.5,376.1 404.5,376.4 399.5,379.6 398.5,379.9 397.0,381.1 394.0,382.9 390.0,385.9 386.5,389.8 385.6,391.5 383.9,394.0 382.6,396.5 378.0,402.2 372.5,407.1 369.5,409.1 366.0,410.9 364.0,412.1 363.0,412.4 359.5,414.1 357.0,414.9 355.5,415.6 349.0,417.6 340.0,419.7 338.5,419.8 337.0,420.2 335.0,420.3 333.5,420.7 330.5,420.8 329.0,421.2 317.0,421.2 315.5,420.8 312.0,420.7 308.5,419.9 306.5,419.6 303.5,418.6 298.5,416.1 295.4,413.0 292.4,407.5 292.4,403.5 293.9,400.5 296.0,397.8 300.3,394.0 301.2,393.5 305.3,390.0 312.0,385.2 316.0,381.2 317.6,379.0 317.7,378.0 316.9,376.5 316.6,375.5 315.9,374.5 314.6,372.0 313.4,370.5 312.1,367.5 311.4,366.5 309.3,360.0 309.4,353.5 311.4,348.5 312.7,346.5 313.4,344.5 315.6,340.0 315.6,337.5 314.0,334.3 312.0,332.2 311.2,331.0 302.4,322.0 300.0,319.2 297.9,316.0 296.4,313.5 294.6,308.5 293.9,307.0 293.3,304.5 293.5,302.3 294.8,301.0 299.7,297.5 304.3,293.5 305.2,293.0 308.0,290.3 309.2,289.5 318.3,281.5 328.7,274.0 331.5,271.3 333.0,270.2 340.0,263.3 341.5,262.2 345.5,258.3 353.0,252.4 359.5,248.9 362.5,247.9 365.0,247.3 371.0,247.3 376.5,248.9 384.0,252.9 393.2,260.0 399.3,265.5 400.2,266.0 407.3,272.0 412.5,275.6 417.5,278.6 437.0,288.1 459.0,296.9 470.0,302.4 474.5,305.1 481.0,308.1 485.5,309.6 487.5,309.9 488.5,310.2 490.5,310.3 492.0,310.7 496.5,310.8 498.0,311.2 506.5,311.3 508.0,311.7 513.0,311.8 514.5,312.2 518.0,312.3 519.5,312.7 522.0,312.8 523.5,313.2 525.5,313.3 529.5,314.2 531.0,314.3 534.5,315.1 536.5,315.4 543.5,317.1 545.5,317.4 546.0,317.6 548.0,317.9 556.5,319.7 558.0,319.8 562.5,320.7 564.5,320.8 569.0,321.7 571.5,321.8 573.0,322.2 575.5,322.3 580.0,323.2 582.0,323.3 583.5,323.7 588.0,324.3 591.0,325.1 595.5,325.9 598.0,326.6 600.0,326.9 604.5,328.1 606.5,328.4 609.0,329.1 611.0,329.4 614.5,330.2 616.0,330.3 620.5,331.2 623.0,331.3 624.5,331.7 627.0,331.8 628.5,332.2 632.0,332.3 633.0,332.6 635.0,332.9 636.5,333.6 645.5,336.9 653.5,340.9 660.7,346.0 663.0,348.2 664.5,349.3 668.7,353.5 669.2,354.5 668.6,356.5 666.7,359.0 665.0,360.7 664.0,361.6 661.5,363.1 657.5,365.1 653.0,366.6 645.5,368.2 643.5,368.3 642.0,368.7 636.0,368.8 633.5,369.2 631.5,369.2 630.5,369.0 629.5,369.1 628.5,368.8 620.5,368.7 619.0,368.3 614.0,368.2 612.5,367.8 606.0,367.7 605.0,367.4 603.0,367.5 602.0,367.3 599.5,367.3 595.5,367.7 586.5,367.8 585.0,368.2 575.0,368.4 574.0,368.7 559.5,368.7 556.5,368.3 550.5,368.3 549.4,368.5 550.3,369.5 557.2,374.5 565.3,381.0 576.5,389.1 586.0,391.4 597.0,394.9 607.5,399.9 610.0,401.6 611.7,402.5 618.0,407.9 621.6,412.5 624.1,418.0 624.4,420.0 624.7,421.0 624.7,425.5 624.4,426.5 624.1,428.5 621.6,436.5 618.6,442.0 617.4,443.5 616.0,445.7 612.0,450.2 611.0,450.9 607.5,454.6 602.5,458.4 602.0,459.1 600.0,460.6 598.5,461.4 594.0,464.6 591.5,465.9 590.5,466.6 579.0,472.1 575.0,473.4 573.5,474.1 563.0,477.1 561.0,477.4 555.5,478.6 553.5,478.8 552.0,479.2 549.5,479.3 548.0,479.7 544.5,479.8ZM446.5,408.6 437.0,408.7 435.5,408.3 433.5,408.2 427.0,406.6 421.5,404.1 418.0,401.6 416.9,400.5 415.1,397.5 413.9,396.0 413.5,394.5 413.9,392.0 415.5,389.8 419.0,387.4 421.0,386.4 424.0,385.4 425.5,385.1 426.5,384.6 430.8,381.0 435.0,378.4 438.5,377.3 441.5,377.3 446.0,378.9 449.2,381.0 451.3,383.0 455.5,386.1 460.0,387.8 464.2,390.5 466.6,393.0 467.7,395.5 467.6,397.5 467.0,398.7 465.9,399.5 465.1,401.5 463.5,403.2 461.5,404.6 458.5,406.1 457.0,406.4 455.0,407.1 450.0,408.2 447.5,408.3Z" fill="#def1f0" fill-rule="evenodd"/>
<path d="M541.0,474.5 539.0,474.7 525.5,474.7 523.5,474.3 519.5,474.2 515.0,473.3 512.5,473.1 510.0,472.4 505.5,471.6 501.5,470.6 492.0,467.1 487.0,464.6 481.5,461.1 479.2,459.0 478.0,458.2 477.0,456.8 475.9,456.0 471.9,450.0 470.4,446.0 469.4,442.0 469.2,440.0 468.5,436.5 468.6,435.5 468.3,434.5 468.2,431.0 467.9,430.0 468.1,428.5 467.8,427.5 467.8,420.5 468.2,419.0 468.4,417.0 469.1,415.5 469.9,413.0 471.4,410.5 474.0,406.8 475.2,405.5 476.8,404.0 480.5,401.4 485.0,398.9 486.0,398.6 488.5,397.4 489.5,397.1 492.0,395.9 494.5,395.1 495.0,394.7 499.5,389.7 509.5,376.3 511.5,374.2 512.3,373.0 518.2,367.0 518.4,366.5 517.5,366.3 500.0,366.2 498.5,365.8 495.0,365.7 493.5,365.3 490.5,365.2 478.0,362.6 469.0,359.6 461.5,356.1 460.5,355.4 458.0,354.1 452.0,350.1 447.0,346.4 441.5,343.9 439.0,343.3 437.5,343.3 433.0,344.4 430.8,345.5 428.5,347.4 427.0,349.3 425.4,351.5 423.1,355.5 419.5,360.2 415.0,364.7 408.0,370.1 406.5,370.9 402.5,373.6 401.5,373.9 394.5,378.1 393.5,378.4 391.0,380.1 389.5,380.9 386.8,383.0 382.9,387.0 379.9,392.0 378.6,395.0 375.1,400.0 374.3,400.5 373.5,401.6 370.2,404.5 368.0,405.9 366.5,407.1 358.5,411.1 357.5,411.4 356.5,412.1 345.5,415.6 343.5,415.9 340.0,416.7 338.5,416.8 337.0,417.2 335.5,417.3 334.0,417.7 330.0,417.8 328.5,418.2 319.0,418.2 317.5,417.8 314.5,417.7 309.5,416.6 306.5,415.6 304.0,414.4 303.0,414.1 301.5,413.1 299.5,411.2 297.9,408.5 297.6,407.5 295.9,405.5 295.8,402.5 296.9,400.0 298.3,398.0 303.0,393.4 315.5,384.6 318.5,382.2 322.0,378.7 322.6,377.0 320.6,373.0 319.4,371.5 316.4,367.0 314.9,363.5 314.1,361.0 313.4,360.0 312.8,357.5 312.9,352.5 313.9,349.5 315.1,347.5 315.9,345.5 316.6,344.5 319.1,339.5 319.7,337.5 319.1,335.5 318.0,333.3 315.8,331.0 314.7,329.5 313.0,328.2 308.3,323.5 307.5,322.4 305.8,321.0 300.4,314.0 299.4,312.0 298.1,308.5 296.9,306.0 295.9,303.0 295.8,301.0 296.0,300.3 305.2,293.0 308.0,290.3 309.2,289.5 318.3,281.5 328.7,274.0 331.5,271.3 333.0,270.2 340.0,263.3 341.5,262.2 345.5,258.3 353.0,252.4 359.5,248.9 362.5,247.9 365.0,247.3 371.0,247.3 376.5,248.9 384.0,252.9 393.2,260.0 399.3,265.5 400.2,266.0 407.3,272.0 412.5,275.6 417.5,278.6 442.5,291.1 449.0,293.4 450.5,294.1 454.0,295.4 456.5,296.6 457.5,296.9 461.0,298.6 462.0,298.9 463.0,299.6 467.5,301.9 472.0,304.6 474.5,305.9 475.5,306.6 479.5,308.6 484.0,310.1 486.5,310.7 488.5,310.9 489.5,311.2 494.0,311.3 495.5,311.7 504.5,311.8 506.0,312.2 512.5,312.3 514.0,312.7 517.0,312.8 518.5,313.2 521.5,313.3 523.0,313.7 527.5,314.3 536.0,316.1 538.0,316.4 540.5,317.1 547.0,318.4 549.5,319.1 551.5,319.4 552.5,319.7 554.0,319.8 558.0,320.7 560.0,320.8 561.5,321.2 563.5,321.3 565.0,321.7 567.0,321.8 568.5,322.2 570.5,322.3 572.0,322.7 574.0,322.8 575.5,323.2 577.5,323.3 579.0,323.7 581.0,323.8 582.5,324.2 587.0,324.8 590.0,325.6 594.5,326.4 599.0,327.6 601.0,327.9 607.5,329.6 609.5,329.9 615.5,331.2 617.0,331.3 618.5,331.7 620.5,331.8 622.0,332.2 624.5,332.3 626.0,332.7 629.5,332.8 631.0,333.2 634.0,333.3 635.5,333.7 637.5,333.9 645.5,336.9 653.5,340.9 660.7,346.0 663.0,348.2 664.7,349.5 666.1,351.0 666.1,351.5 665.4,352.5 664.6,354.5 663.5,356.2 660.5,359.1 655.0,362.1 646.5,364.6 644.0,364.8 642.5,365.2 639.5,365.3 638.0,365.7 625.5,365.7 624.0,365.3 619.0,365.2 617.5,364.8 613.0,364.7 611.5,364.3 592.5,364.3 590.5,364.7 584.0,364.8 582.5,365.2 570.5,365.3 568.5,365.5 566.0,365.3 546.5,365.3 544.9,365.5 545.8,366.5 551.2,370.0 557.2,374.5 558.8,376.0 563.7,379.5 565.3,381.0 577.0,389.6 579.5,390.6 587.0,392.4 597.0,395.9 601.5,398.1 603.5,398.9 610.7,403.5 615.7,408.0 618.6,412.0 620.1,415.0 621.1,418.0 621.2,423.5 620.6,426.0 619.4,429.0 619.1,430.5 617.6,434.5 615.1,439.0 611.5,443.7 608.9,446.0 608.0,447.2 603.7,451.0 599.0,454.6 597.5,455.4 593.0,458.6 591.0,459.4 588.5,461.1 581.5,464.6 580.5,464.9 575.5,467.1 570.0,468.9 568.5,469.6 556.0,472.7 554.5,472.8 550.0,473.7 547.5,473.8 546.0,474.2 542.0,474.3ZM448.5,406.1 441.0,406.3 440.0,406.5 439.0,406.3 435.5,406.2 428.0,404.6 423.0,402.6 420.0,400.2 417.9,398.0 417.1,396.5 415.9,395.5 415.3,394.0 415.4,392.0 416.3,390.5 418.5,388.4 422.0,386.4 424.5,385.6 426.5,384.6 430.8,381.0 435.0,378.4 438.0,377.4 439.5,377.2 442.0,377.4 445.0,378.4 449.2,381.0 451.3,383.0 455.5,386.1 462.2,389.5 465.0,392.3 465.7,394.0 465.6,396.0 463.4,398.0 462.5,399.7 460.0,402.1 454.5,404.6Z" fill="#dbf0ee" fill-rule="evenodd"/>
<path d="M543.0,469.1 525.5,469.2 524.0,468.8 520.5,468.7 519.0,468.3 517.0,468.2 515.5,467.8 514.0,467.7 509.0,466.6 502.5,464.6 501.0,463.9 498.5,463.1 495.0,461.4 494.0,461.1 491.5,459.6 486.3,456.0 482.3,452.0 479.9,449.0 478.6,446.5 477.9,445.5 476.4,441.5 476.1,440.0 475.4,438.0 473.9,432.0 473.6,430.0 472.4,427.0 471.3,422.5 471.2,420.0 470.8,418.5 471.2,417.0 471.4,415.0 472.4,412.0 473.4,410.0 476.3,406.0 480.3,402.5 484.5,399.9 488.5,397.9 493.0,396.1 494.5,395.2 499.5,389.7 503.0,384.8 504.5,383.2 509.5,376.3 511.5,374.2 512.3,373.0 519.5,365.8 522.2,364.0 522.5,363.5 521.0,363.3 512.0,363.3 509.0,363.5 505.5,363.3 498.0,363.2 496.5,362.8 493.5,362.7 492.0,362.3 490.0,362.2 488.5,361.8 487.0,361.7 476.5,359.1 467.5,355.6 466.5,354.9 464.5,354.1 463.0,352.9 462.0,352.6 456.3,348.5 454.0,346.3 452.5,345.2 448.7,341.5 447.0,340.4 443.5,338.9 441.5,338.6 440.5,338.3 436.5,338.3 431.5,339.4 427.3,341.5 423.4,345.5 419.1,354.0 415.6,359.0 412.2,362.5 408.7,365.5 403.5,369.1 401.0,370.4 397.5,372.6 394.5,374.1 393.5,374.4 391.0,376.1 388.0,377.4 385.5,379.1 384.5,379.4 381.5,381.8 379.8,383.5 377.9,386.0 375.1,393.0 374.4,394.0 373.1,396.5 371.5,398.7 369.5,400.4 368.7,401.5 366.2,403.5 364.5,404.4 362.0,406.1 356.0,409.1 347.5,412.1 341.0,413.7 339.5,413.8 335.0,414.7 332.0,414.8 330.5,415.2 320.5,415.2 319.0,414.8 316.0,414.7 315.0,414.4 313.0,414.1 308.5,412.6 305.5,411.1 302.5,408.2 301.6,406.0 299.4,404.0 298.8,402.0 299.4,399.5 300.8,397.5 304.8,393.5 307.5,391.4 309.0,390.6 310.5,389.4 320.2,383.0 325.0,379.2 327.5,376.5 325.6,372.5 324.0,370.7 319.9,365.0 319.6,364.0 318.4,362.0 318.1,360.0 316.4,357.5 315.8,355.5 315.8,352.5 316.9,348.5 323.1,337.0 323.1,336.0 322.6,334.5 321.0,331.8 319.0,329.7 318.2,328.5 316.8,327.5 316.0,326.4 313.7,324.5 312.5,323.7 310.0,321.2 303.9,314.0 303.6,313.0 301.4,309.5 300.6,307.0 298.9,304.0 298.6,302.5 297.9,300.5 297.9,299.0 298.8,298.0 305.5,292.7 308.0,290.3 309.2,289.5 318.3,281.5 328.7,274.0 331.5,271.3 333.0,270.2 340.0,263.3 341.5,262.2 345.5,258.3 353.0,252.4 359.5,248.9 362.5,247.9 365.0,247.3 371.0,247.3 376.5,248.9 384.0,252.9 393.2,260.0 399.3,265.5 400.2,266.0 407.3,272.0 412.5,275.6 417.5,278.6 440.0,289.9 441.0,290.6 444.0,292.1 446.5,292.9 458.5,297.8 465.5,301.4 474.5,307.1 479.5,309.6 485.0,311.1 487.0,311.3 488.5,311.7 493.0,311.8 494.5,312.2 506.0,312.3 507.5,312.7 512.5,312.8 514.0,313.2 518.0,313.3 519.5,313.7 521.5,313.8 523.0,314.2 527.5,314.8 533.5,316.1 535.5,316.4 538.0,317.1 544.5,318.4 549.0,319.6 551.0,319.8 555.0,320.7 556.5,320.8 561.0,321.7 563.0,321.8 564.5,322.2 567.0,322.3 568.5,322.7 570.5,322.8 572.0,323.2 574.0,323.3 575.5,323.7 577.5,323.8 579.0,324.2 581.0,324.3 585.0,325.2 586.5,325.3 590.0,326.1 592.0,326.4 596.5,327.6 598.5,327.9 600.5,328.6 602.5,328.9 606.5,330.1 608.5,330.4 617.0,332.2 619.0,332.3 620.5,332.7 623.5,332.8 625.0,333.2 628.0,333.3 629.5,333.7 632.5,333.8 634.0,334.2 637.0,334.3 638.0,334.6 640.0,334.9 645.5,336.9 653.5,340.9 661.0,346.3 663.0,348.3 663.1,349.0 662.6,350.0 661.4,351.0 659.1,355.0 656.7,357.0 654.0,358.4 653.0,359.1 650.0,360.1 648.5,360.4 647.0,361.1 642.0,361.8 640.5,362.2 635.5,362.3 634.0,362.7 631.0,362.7 630.0,362.5 629.0,362.6 628.0,362.3 622.0,362.2 620.5,361.8 615.5,361.7 614.0,361.3 608.5,361.2 607.5,360.9 606.5,361.0 605.0,360.8 604.0,361.0 601.0,360.8 598.0,361.2 591.5,361.3 589.0,361.7 584.0,361.8 582.5,362.2 574.5,362.3 568.5,362.7 561.0,362.3 541.0,362.3 538.9,362.5 539.5,363.1 540.5,363.3 545.0,365.9 551.0,369.9 557.2,374.5 558.8,376.0 563.7,379.5 565.3,381.0 578.5,390.6 581.0,391.6 586.5,392.9 597.5,396.9 602.5,399.4 608.0,402.9 610.5,404.8 612.5,406.8 615.6,410.5 618.1,416.0 618.5,419.5 618.2,422.5 617.6,424.5 615.9,428.0 615.6,429.5 611.5,437.2 609.7,439.5 604.5,444.7 599.2,449.0 596.0,450.9 594.5,452.1 592.0,453.4 588.5,455.6 587.5,455.9 585.5,457.1 584.5,457.4 582.5,458.6 581.5,458.9 575.5,461.6 571.5,462.9 568.5,464.1 567.0,464.4 565.0,465.1 559.0,466.6 557.0,466.9 554.0,467.6 549.0,468.3 547.5,468.7 544.0,468.8ZM447.0,404.1 435.5,404.2 430.5,403.1 426.0,401.6 422.0,399.1 420.8,398.0 419.2,396.0 416.5,393.7 416.3,393.0 416.4,392.0 417.4,390.0 418.3,389.0 421.0,387.3 425.0,385.6 430.8,381.0 435.0,378.4 438.0,377.4 439.5,377.2 442.0,377.4 445.0,378.4 449.2,381.0 451.3,383.0 456.0,386.6 459.0,387.9 462.2,390.0 463.1,391.0 464.2,393.0 464.1,394.5 463.6,395.5 461.5,396.4 460.2,398.5 457.0,401.1 452.0,403.1 450.0,403.4Z" fill="#d8efec" fill-rule="evenodd"/>
<path d="M333.0,412.1 320.0,412.2 316.5,411.4 314.5,411.1 311.5,410.1 309.5,409.1 307.3,407.5 305.4,405.0 305.1,404.0 303.0,403.1 301.9,401.5 301.9,399.5 302.9,397.5 304.0,395.8 305.8,394.0 310.5,390.4 312.0,389.6 315.0,387.4 327.0,380.1 332.4,376.0 332.1,374.5 331.5,373.3 326.6,367.5 325.9,367.0 322.9,363.0 321.5,359.5 321.5,359.0 319.4,356.5 318.8,354.5 318.5,352.5 319.4,348.0 320.1,347.0 320.9,345.0 322.6,342.5 326.1,336.0 326.1,334.0 325.1,332.0 323.5,329.8 322.4,329.0 321.0,327.3 319.5,326.2 316.7,323.5 315.5,322.7 309.5,316.7 306.0,312.2 300.9,302.5 299.8,298.0 300.0,297.3 301.0,296.3 305.2,293.0 308.0,290.3 309.2,289.5 318.3,281.5 329.0,273.7 331.5,271.3 333.0,270.2 340.0,263.3 341.5,262.2 345.5,258.3 346.7,257.5 348.8,255.5 354.5,251.4 359.5,248.9 364.5,247.4 371.5,247.4 376.5,248.9 381.5,251.4 384.0,252.9 388.2,256.0 392.3,259.5 393.2,260.0 402.3,268.0 403.2,268.5 407.3,272.0 412.5,275.6 417.5,278.6 440.0,289.9 444.5,292.6 454.5,296.4 464.5,301.4 475.5,308.6 480.0,310.6 484.0,311.6 486.5,311.8 488.0,312.2 495.5,312.3 497.0,312.7 508.5,312.8 510.0,313.2 514.5,313.3 516.0,313.7 519.0,313.8 520.5,314.2 522.5,314.3 524.0,314.7 525.5,314.8 531.5,316.1 533.5,316.4 536.0,317.1 538.0,317.4 545.0,319.1 549.5,319.9 552.5,320.7 557.0,321.3 561.5,322.2 564.0,322.3 565.5,322.7 567.5,322.8 569.0,323.2 571.0,323.3 572.5,323.7 575.0,323.8 576.5,324.2 578.5,324.3 580.0,324.7 582.0,324.9 582.5,325.1 592.0,326.9 613.5,332.2 615.0,332.3 616.5,332.7 618.5,332.8 620.0,333.2 622.5,333.3 624.0,333.7 627.5,333.8 629.0,334.2 632.0,334.3 633.5,334.7 636.5,334.8 638.0,335.2 640.5,335.4 641.0,335.6 643.0,335.9 644.5,336.6 645.5,336.9 653.5,340.9 660.6,346.0 660.6,346.5 659.7,348.0 659.0,348.6 657.0,349.4 656.1,351.5 655.0,353.2 652.5,355.1 649.5,356.6 646.5,357.6 641.5,358.7 639.5,358.9 638.5,359.2 624.0,359.2 622.5,358.8 618.5,358.7 617.0,358.3 612.0,358.2 610.5,357.8 599.0,357.8 597.0,358.2 592.0,358.3 590.5,358.7 586.5,358.8 584.0,359.2 578.0,359.3 576.5,359.7 556.0,359.7 554.0,359.3 537.0,359.3 535.0,359.7 528.0,359.8 526.5,360.2 520.0,360.3 518.5,360.7 499.0,360.7 497.5,360.3 494.0,360.2 492.5,359.8 490.5,359.7 487.0,358.9 485.0,358.6 481.0,357.6 479.5,356.9 478.0,356.6 473.5,355.1 466.5,351.6 460.3,347.5 459.6,346.5 458.5,345.7 455.4,342.5 452.0,338.3 449.5,336.4 447.0,335.4 443.0,334.3 437.5,334.3 436.0,334.7 433.5,334.9 429.5,336.1 428.0,336.4 427.0,336.8 425.0,338.1 423.8,338.5 421.3,341.0 419.4,343.5 417.6,348.0 416.4,350.5 416.1,351.5 415.6,352.5 414.4,354.0 414.1,355.0 412.2,357.5 406.7,363.0 403.0,365.6 395.5,370.1 382.5,376.4 381.5,377.1 379.0,378.4 376.5,380.3 374.5,382.3 374.1,383.5 373.4,384.5 372.4,387.5 372.1,389.5 370.1,394.5 368.2,397.0 363.7,401.5 358.5,404.7 354.5,406.6 353.5,406.9 349.5,408.6 348.0,408.9 346.0,409.6 340.0,411.1 337.5,411.3 336.0,411.7 333.5,411.9ZM543.0,464.1 528.5,464.2 527.0,463.8 522.5,463.7 521.0,463.3 518.5,463.1 516.0,462.4 514.0,462.1 510.0,461.1 504.0,459.1 494.5,454.1 489.3,450.0 486.0,446.2 483.9,443.0 481.4,438.5 481.1,437.5 480.4,436.5 479.6,434.0 477.4,429.0 476.6,426.0 473.8,420.0 473.4,415.5 473.9,412.5 474.4,411.0 475.1,410.0 475.4,409.0 477.3,406.5 480.5,403.3 483.0,401.4 485.5,399.9 494.0,395.7 496.7,393.0 497.5,391.8 499.5,389.7 503.0,384.8 504.5,383.2 509.5,376.3 511.5,374.2 512.0,373.3 519.5,365.8 523.0,363.4 525.0,362.4 529.0,361.3 534.5,361.4 538.0,362.4 542.5,364.4 551.0,369.9 557.2,374.5 558.8,376.0 563.7,379.5 565.3,381.0 580.0,391.6 583.0,392.4 585.0,393.1 586.5,393.4 591.0,394.9 592.5,395.6 596.0,396.9 602.0,399.9 606.7,403.0 610.7,406.5 614.1,411.0 615.7,415.0 616.0,417.5 615.6,421.0 610.6,432.0 608.5,435.2 604.5,439.6 598.7,444.5 596.5,445.9 595.0,447.1 592.5,448.4 589.0,450.6 587.0,451.4 586.0,452.1 582.0,454.1 568.5,459.1 567.0,459.4 563.5,460.6 554.5,462.6 552.5,462.8 551.0,463.2 548.5,463.3 547.0,463.7 544.0,463.8ZM446.0,402.1 436.0,402.2 430.5,401.1 426.5,399.6 425.5,398.9 424.3,398.5 420.2,394.5 419.0,394.1 418.3,393.5 417.8,392.5 417.9,390.5 420.5,387.9 425.0,385.6 430.8,381.0 435.0,378.4 438.0,377.4 439.5,377.2 442.0,377.4 445.0,378.4 449.2,381.0 451.3,383.0 456.0,386.6 459.5,388.4 461.7,390.0 463.2,393.0 463.0,393.7 462.0,394.6 460.0,394.9 458.6,397.0 456.5,398.6 451.0,401.1 448.5,401.7 446.5,401.9Z" fill="#d5edea" fill-rule="evenodd"/>
<path d="M329.0,409.6 327.5,409.7 325.0,409.3 320.5,409.2 319.5,408.9 317.5,408.6 312.5,406.6 311.0,405.6 310.4,405.0 308.5,401.9 305.5,401.1 304.9,400.0 304.8,398.0 305.4,396.5 306.9,394.5 309.8,392.0 313.5,389.4 317.5,387.1 320.0,385.4 330.5,379.6 331.5,378.9 336.0,376.6 337.0,375.9 338.0,375.6 338.1,375.0 337.1,373.0 336.4,372.5 335.7,371.5 330.0,366.2 327.0,362.7 325.3,360.0 324.1,357.0 322.0,354.7 321.4,353.5 321.3,349.5 321.9,347.5 325.4,341.0 329.1,335.5 329.5,334.0 329.1,332.5 328.4,331.5 328.1,330.5 325.9,328.5 325.0,327.3 320.5,323.6 319.7,322.5 315.5,319.2 313.5,317.2 313.0,316.3 311.3,315.0 309.0,312.2 306.9,309.0 305.6,306.0 303.4,303.0 302.4,301.0 301.8,299.0 301.9,296.0 304.0,293.8 305.5,292.7 308.0,290.3 309.2,289.5 318.3,281.5 329.0,273.7 331.5,271.3 333.0,270.2 340.0,263.3 341.5,262.2 345.5,258.3 346.7,257.5 348.8,255.5 354.5,251.4 359.5,248.9 364.5,247.4 371.5,247.4 376.5,248.9 381.5,251.4 384.0,252.9 388.2,256.0 392.3,259.5 393.2,260.0 402.3,268.0 403.2,268.5 407.3,272.0 412.5,275.6 417.5,278.6 440.0,289.9 445.5,293.2 455.0,296.9 462.0,300.4 466.0,302.9 474.0,308.6 479.5,311.1 484.5,312.2 487.5,312.3 489.0,312.7 505.5,312.8 507.0,313.2 511.5,313.3 513.0,313.7 516.5,313.8 518.0,314.2 520.5,314.3 522.0,314.7 526.5,315.3 532.5,316.6 534.5,316.9 541.0,318.6 543.0,318.9 545.5,319.6 547.5,319.9 553.5,321.2 555.0,321.3 556.0,321.6 561.0,322.3 562.5,322.7 565.0,322.8 566.5,323.2 569.0,323.3 570.5,323.7 576.0,324.3 577.5,324.7 579.0,324.8 580.5,325.2 585.5,325.9 592.5,327.6 594.5,327.9 596.5,328.6 613.5,332.7 618.0,333.3 619.5,333.7 622.0,333.8 623.5,334.2 627.0,334.3 628.5,334.7 632.0,334.8 633.5,335.2 636.5,335.3 638.0,335.7 642.5,336.3 646.5,337.4 653.5,340.9 656.7,343.0 657.2,344.0 657.1,345.5 656.5,346.2 654.0,347.6 652.8,348.0 651.2,350.5 649.7,352.0 648.0,353.1 642.0,355.1 640.0,355.4 639.0,355.7 636.5,355.8 634.0,356.2 628.0,356.2 626.5,355.8 621.0,355.7 619.5,355.3 615.5,355.2 614.0,354.8 598.5,354.8 596.5,355.2 593.0,355.3 591.5,355.7 588.0,355.8 586.5,356.2 582.5,356.3 581.0,356.7 573.0,356.8 571.5,357.2 563.0,357.2 560.0,356.8 534.5,356.8 532.5,357.2 527.5,357.3 526.5,357.5 525.5,357.4 524.5,357.7 519.5,357.8 518.0,358.2 500.0,358.2 498.5,357.8 495.0,357.7 493.5,357.3 491.5,357.2 490.0,356.8 488.5,356.7 482.0,355.1 476.0,353.1 470.5,350.6 465.5,347.6 463.2,345.5 462.3,345.0 461.2,343.5 459.9,342.5 455.2,336.0 453.0,333.8 451.0,332.4 448.0,331.4 445.5,331.2 444.5,330.9 443.0,330.8 440.0,330.8 438.5,331.2 435.5,331.3 431.5,332.2 429.5,332.4 428.0,333.1 426.5,333.4 425.0,334.1 424.0,334.4 422.0,335.4 420.5,336.6 418.9,337.5 416.9,340.0 415.9,342.0 413.6,348.5 411.6,352.5 408.7,356.5 405.5,359.7 404.5,360.4 403.7,361.5 397.5,365.6 396.5,365.9 395.5,366.6 390.5,369.1 389.5,369.4 387.5,370.6 384.0,371.9 380.5,373.6 378.5,374.3 373.5,376.9 371.0,378.8 369.9,380.0 368.4,383.0 368.7,384.5 368.7,387.5 367.9,389.5 367.6,391.0 365.0,395.7 361.2,399.5 356.5,402.6 355.5,402.9 354.5,403.6 347.0,406.6 337.5,408.7 336.0,408.8 334.5,409.2 330.0,409.3ZM539.0,459.6 534.0,459.7 531.5,459.3 526.5,459.2 525.0,458.8 523.5,458.7 522.0,458.3 520.0,458.2 519.0,457.9 517.0,457.6 506.5,454.1 503.0,452.4 502.0,452.1 500.5,450.9 499.5,450.6 498.0,449.6 495.0,447.2 490.3,442.5 489.6,441.5 488.9,441.0 486.6,437.5 485.4,436.0 483.6,432.5 480.9,428.0 480.6,427.0 479.4,424.5 479.1,423.0 476.4,419.5 475.3,416.0 475.3,413.0 476.4,409.5 478.8,406.0 482.0,402.8 484.5,400.9 490.0,397.8 493.0,396.6 493.7,396.0 496.7,393.0 497.5,391.8 499.5,389.7 503.0,384.8 504.5,383.2 509.5,376.3 511.5,374.2 512.0,373.3 519.5,365.8 523.0,363.4 525.0,362.4 529.0,361.3 534.5,361.4 538.0,362.4 542.5,364.4 551.0,369.9 557.2,374.5 558.8,376.0 563.7,379.5 565.3,381.0 580.0,391.6 582.0,392.6 583.5,392.9 595.0,396.9 596.0,397.6 597.0,397.9 599.0,399.1 602.5,400.9 607.5,404.8 610.0,407.3 611.6,409.5 613.1,412.5 613.7,415.0 613.7,418.5 613.1,420.5 611.6,423.5 610.4,425.0 608.1,430.0 606.0,433.2 599.7,439.5 590.5,445.6 582.5,449.6 581.5,449.9 580.5,450.6 576.5,451.9 572.5,453.6 571.0,453.9 567.5,455.1 559.5,457.1 557.5,457.4 556.5,457.7 555.0,457.8 553.5,458.2 552.0,458.3 550.5,458.7 547.5,458.8 546.0,459.2 540.0,459.3ZM447.0,400.1 442.0,400.5 441.0,400.3 440.0,400.5 439.0,400.3 436.0,400.2 432.0,399.6 430.5,399.1 425.0,396.6 422.0,393.4 419.8,393.0 418.9,392.0 418.9,390.0 421.0,387.9 423.5,386.4 424.5,386.1 430.8,381.0 435.0,378.4 438.0,377.4 439.5,377.2 442.0,377.4 445.0,378.4 449.2,381.0 451.3,383.0 456.0,386.6 458.5,387.9 460.7,389.5 461.7,391.5 461.5,393.1 460.5,393.6 458.5,393.9 456.5,396.1 453.5,398.1Z" fill="#d3ece7" fill-rule="evenodd"/>
<path d="M332.5,406.6 325.5,406.7 324.0,406.3 322.0,406.2 319.5,405.6 315.0,403.6 313.3,402.0 312.0,400.4 309.0,399.6 307.4,398.5 307.4,396.5 308.0,395.3 311.5,391.8 315.5,388.9 321.5,385.6 322.5,384.9 334.5,378.9 341.0,376.4 345.0,375.6 345.2,375.0 344.5,373.4 338.7,368.5 336.3,367.0 330.5,361.7 328.4,358.5 327.1,355.5 325.3,354.0 323.9,352.0 323.8,348.0 324.4,346.0 325.1,345.0 325.4,344.0 326.9,341.5 328.1,340.0 332.2,333.5 332.5,333.0 332.1,331.5 329.0,327.3 327.5,326.2 324.7,323.5 321.8,321.5 321.0,320.4 318.7,318.5 317.5,317.7 312.8,313.0 310.5,310.2 307.1,304.0 306.4,303.5 304.9,301.5 303.9,299.5 303.3,297.0 303.3,295.0 304.0,293.8 305.5,292.7 308.0,290.3 309.2,289.5 318.3,281.5 329.0,273.7 331.5,271.3 333.0,270.2 340.0,263.3 341.5,262.2 345.5,258.3 346.7,257.5 348.8,255.5 354.5,251.4 359.5,248.9 364.5,247.4 371.5,247.4 376.5,248.9 381.5,251.4 384.0,252.9 388.2,256.0 392.3,259.5 393.2,260.0 402.3,268.0 403.2,268.5 407.3,272.0 412.5,275.6 417.5,278.6 440.0,289.9 445.5,293.2 448.5,294.6 451.0,295.4 454.5,297.1 455.5,297.4 460.5,299.9 466.0,303.4 473.5,309.1 479.0,311.6 481.5,312.2 483.5,312.4 484.5,312.7 490.5,312.8 493.5,313.2 503.0,313.2 504.5,312.8 505.5,312.8 507.0,313.2 511.5,313.3 512.5,313.6 515.0,313.8 516.5,314.2 519.0,314.3 520.5,314.7 525.0,315.3 531.0,316.6 533.0,316.9 542.0,319.1 544.0,319.4 546.5,320.1 548.5,320.4 554.5,321.7 556.0,321.8 557.5,322.2 559.5,322.3 561.0,322.7 563.0,322.8 564.5,323.2 566.5,323.3 568.0,323.7 570.5,323.8 572.0,324.2 574.0,324.3 575.5,324.7 578.0,324.9 579.0,325.2 580.5,325.3 586.5,326.6 588.5,326.9 593.0,328.1 595.0,328.4 597.0,329.1 604.0,330.9 606.0,331.6 608.0,331.9 610.5,332.6 612.5,332.9 616.0,333.7 617.5,333.8 619.0,334.2 622.0,334.3 623.5,334.7 627.0,334.8 628.5,335.2 632.0,335.3 633.5,335.7 636.0,335.8 637.5,336.2 639.0,336.3 642.5,337.1 644.5,337.4 649.0,338.9 651.0,339.9 653.5,341.8 654.0,343.5 653.6,344.5 652.0,345.6 650.0,346.2 647.5,346.4 645.5,349.2 645.0,349.6 644.0,349.9 642.0,351.1 637.5,352.2 634.5,352.3 633.0,352.7 628.5,352.7 627.0,352.3 622.0,352.2 620.5,351.8 617.0,351.7 615.5,351.3 601.5,351.3 600.0,351.7 597.0,351.8 596.0,352.1 593.5,352.3 592.0,352.7 589.5,352.8 588.0,353.2 585.0,353.3 583.5,353.7 579.5,353.8 578.0,354.2 551.0,354.2 544.0,353.8 541.5,354.2 533.0,354.3 531.5,354.7 526.0,354.8 524.5,355.2 520.0,355.3 518.5,355.7 498.5,355.7 497.0,355.3 494.5,355.2 493.0,354.8 488.0,354.1 484.0,352.9 480.5,352.1 478.0,350.9 476.5,350.6 475.5,349.9 470.0,347.1 466.3,344.5 462.8,341.0 460.9,338.5 460.6,337.5 459.9,336.5 458.1,333.0 455.5,330.3 453.5,328.9 449.5,327.8 441.5,327.8 440.5,328.0 439.5,327.9 438.5,328.2 436.0,328.3 432.0,329.2 430.0,329.4 426.0,330.6 424.5,330.9 423.0,331.6 422.0,331.9 417.0,334.4 416.2,335.5 415.4,336.0 413.9,338.0 412.4,341.0 410.1,348.0 409.4,349.0 408.1,352.0 404.6,356.5 400.5,360.1 395.0,363.6 388.0,367.1 387.0,367.4 386.0,368.1 382.0,369.4 376.5,371.6 371.0,373.4 369.5,374.1 368.5,374.4 364.0,376.8 362.5,378.3 362.3,379.0 362.5,379.7 364.5,381.8 365.1,383.0 365.6,386.5 365.1,388.0 363.4,390.5 362.1,393.5 361.0,395.2 359.2,397.0 354.0,400.6 351.0,402.1 348.5,402.9 347.0,403.6 342.0,404.9 340.0,405.6 337.5,405.8 336.0,406.2 333.5,406.3ZM545.0,455.0 543.5,455.2 533.0,455.2 531.5,454.8 527.5,454.7 526.0,454.3 524.0,454.2 523.0,453.9 521.0,453.6 512.0,451.1 511.0,450.4 509.5,450.1 507.5,448.9 505.5,448.1 502.0,446.1 494.8,440.5 492.7,438.0 491.4,437.0 485.5,429.7 483.3,426.0 481.1,421.0 479.4,419.5 478.4,418.0 477.4,416.0 476.8,413.5 477.4,410.0 478.9,407.0 481.0,404.3 486.0,400.4 489.5,398.3 492.7,397.0 496.5,393.2 499.5,389.7 503.0,384.8 504.5,383.2 509.5,376.3 513.0,372.3 520.0,365.4 525.0,362.4 529.0,361.3 534.5,361.4 538.0,362.4 542.5,364.4 551.0,369.9 573.3,387.0 581.5,392.6 586.0,394.1 587.5,394.4 589.0,395.1 594.0,396.9 600.5,400.4 606.0,404.4 609.5,408.3 611.1,411.5 611.7,414.0 611.7,417.0 611.1,419.0 610.0,421.2 607.9,423.5 607.6,424.5 605.6,428.5 601.7,433.5 593.5,440.1 588.5,443.1 585.5,444.4 584.5,445.1 574.5,449.1 570.0,450.6 568.0,450.9 566.0,451.6 564.0,451.9 556.5,453.7 555.0,453.8 553.5,454.2 551.0,454.3 549.5,454.7 546.0,454.8ZM444.0,398.5 439.5,398.7 438.0,398.3 435.5,398.2 432.5,397.6 428.0,396.1 424.8,394.0 423.5,392.4 421.0,392.1 420.0,391.6 419.5,390.5 419.7,390.0 420.0,389.3 421.8,387.5 424.5,386.1 430.8,381.0 435.0,378.4 438.0,377.4 439.5,377.2 442.0,377.4 445.0,378.4 449.2,381.0 451.3,383.0 456.0,386.6 459.2,388.5 460.6,390.0 461.0,391.0 460.6,392.0 459.5,392.6 458.0,392.7 457.0,392.5 455.0,394.6 450.5,397.1 449.0,397.6Z" fill="#d0ebe5" fill-rule="evenodd"/>
<path d="M362.0,371.6 354.5,371.6 352.5,370.9 349.5,370.1 344.0,367.6 338.5,364.1 336.0,362.2 332.0,358.2 330.0,354.3 327.0,351.7 326.4,350.5 325.9,348.5 326.9,344.5 329.9,339.5 335.2,332.5 335.5,332.0 335.1,330.5 334.6,329.5 330.0,324.8 318.3,315.5 314.4,311.5 312.4,309.0 309.6,304.0 307.0,301.2 305.9,299.5 304.9,296.5 304.8,294.0 305.3,293.0 308.0,290.3 309.5,289.2 315.3,284.0 324.3,277.0 329.0,273.7 331.5,271.3 333.0,270.2 340.0,263.3 341.5,262.2 345.5,258.3 346.7,257.5 348.8,255.5 354.5,251.4 359.5,248.9 365.0,247.3 371.5,247.4 376.5,248.9 381.5,251.4 384.0,252.9 388.2,256.0 392.3,259.5 393.2,260.0 402.3,268.0 403.2,268.5 407.3,272.0 412.5,275.6 417.5,278.6 440.0,289.9 444.5,292.6 449.5,295.1 454.0,296.9 460.0,299.9 466.7,304.5 472.5,309.6 478.0,312.1 480.0,312.4 481.0,312.7 484.0,312.8 485.5,313.2 503.0,313.2 504.5,312.8 505.5,312.8 507.0,313.2 511.5,313.3 513.0,313.7 515.5,313.9 519.0,314.7 521.0,314.8 522.5,315.2 524.0,315.3 530.0,316.6 532.0,316.9 534.5,317.6 536.5,317.9 543.0,319.6 545.0,319.9 547.5,320.6 549.5,320.9 553.0,321.7 554.5,321.8 559.0,322.7 561.0,322.8 562.5,323.2 565.0,323.3 566.5,323.7 568.5,323.8 570.0,324.2 572.5,324.3 574.0,324.7 576.0,324.8 577.5,325.2 579.0,325.3 580.5,325.7 582.0,325.8 583.0,326.1 585.0,326.4 587.5,327.1 591.5,327.9 593.5,328.6 595.5,328.9 608.0,332.6 615.5,334.2 617.0,334.3 618.5,334.7 621.5,334.8 623.0,335.2 627.0,335.3 628.5,335.7 632.0,335.8 633.5,336.2 636.0,336.3 637.5,336.7 639.5,336.9 646.5,338.9 649.2,340.5 650.1,341.5 650.2,342.0 650.0,343.2 648.5,344.1 645.0,344.7 640.5,344.8 640.0,344.9 639.2,346.0 637.5,347.1 633.5,348.2 625.5,348.2 624.0,347.8 621.0,347.7 619.5,347.3 615.5,347.2 614.0,346.8 609.0,346.8 607.5,347.2 605.0,347.3 603.5,347.7 601.5,347.8 600.0,348.2 595.5,348.8 588.5,350.2 586.5,350.3 585.0,350.7 582.5,350.8 581.0,351.2 577.0,351.3 575.5,351.7 555.5,351.7 554.0,351.5 553.0,351.6 552.0,351.3 540.5,351.3 539.0,351.7 532.5,351.8 531.0,352.2 526.5,352.3 525.0,352.7 521.0,352.8 519.5,353.2 512.0,353.3 511.0,353.5 509.0,353.3 507.0,353.5 505.0,353.3 497.5,353.2 496.0,352.8 494.5,352.7 493.0,352.3 491.0,352.2 488.5,351.5 486.0,351.1 478.5,348.6 472.5,345.6 471.0,344.6 466.5,340.7 463.9,337.5 461.9,333.5 460.6,329.5 458.6,326.5 457.0,325.4 455.0,324.8 452.0,324.7 451.0,324.5 443.5,324.8 442.0,325.2 439.0,325.3 437.5,325.7 435.0,325.8 432.0,326.6 427.0,327.4 423.0,328.4 417.0,330.9 413.0,333.4 411.4,335.5 408.9,340.0 408.6,342.0 407.1,347.0 405.1,351.0 403.5,353.2 400.0,356.7 397.7,358.5 391.0,362.7 381.5,366.6 370.0,370.1 368.0,370.4 365.0,371.2 363.0,371.3ZM547.5,451.1 534.5,451.2 533.0,450.8 529.0,450.7 527.5,450.3 526.0,450.2 519.0,448.6 513.0,446.6 509.5,445.1 507.5,443.9 506.5,443.6 499.0,438.6 498.5,437.9 495.5,435.7 492.8,433.0 492.1,432.0 490.8,431.0 490.0,429.8 485.9,425.0 485.6,424.0 483.4,420.5 483.0,419.3 481.8,418.5 481.1,417.5 479.9,416.5 478.4,413.0 478.4,410.5 480.5,405.8 484.0,402.3 486.5,400.4 492.7,397.0 496.7,393.0 512.3,373.0 520.0,365.4 525.0,362.4 528.5,361.4 534.0,361.3 536.5,361.9 540.5,363.4 545.0,365.9 551.2,370.0 573.3,387.0 581.5,392.6 592.0,396.4 598.0,399.4 602.0,401.9 605.0,404.4 607.5,407.3 609.6,411.5 609.6,417.0 608.5,419.2 605.4,422.5 605.1,423.5 603.6,426.5 601.7,429.0 596.5,434.2 591.0,438.1 590.0,438.4 586.5,440.6 583.5,441.9 582.5,442.6 575.0,445.6 573.5,445.9 570.0,447.1 562.0,449.1 560.0,449.3 556.0,450.2 554.0,450.3 552.5,450.7 548.5,450.8ZM333.5,403.6 327.0,403.7 325.5,403.3 323.0,403.1 320.0,402.1 318.5,401.2 316.0,398.4 312.5,398.2 310.5,397.6 309.9,396.5 309.9,395.5 310.8,394.0 313.8,391.0 316.0,389.4 321.0,386.4 333.5,380.4 339.5,378.4 344.5,377.3 352.5,377.3 358.0,379.4 359.7,380.5 361.5,382.3 362.7,385.0 362.1,387.5 360.7,389.0 359.5,389.8 358.1,393.0 355.2,396.0 353.0,397.6 347.0,400.6 340.5,402.6 338.5,402.8 337.0,403.2 334.5,403.3ZM444.0,396.6 438.0,396.7 437.0,396.4 436.0,396.5 432.0,395.6 427.5,393.6 424.5,391.0 423.5,391.2 421.5,391.1 420.4,390.0 420.4,389.5 421.3,388.0 424.5,386.1 428.8,382.5 434.0,378.9 438.5,377.3 442.0,377.4 446.0,378.9 449.2,381.0 453.8,385.0 458.5,388.3 459.6,389.5 460.0,390.5 459.0,391.6 458.0,391.6 457.0,391.3 455.5,391.4 454.0,393.1 450.5,395.1Z" fill="#cdeae3" fill-rule="evenodd"/>
<path d="M363.5,367.6 357.5,367.7 356.0,367.3 353.5,367.1 347.0,365.1 345.0,363.8 342.0,362.6 338.3,360.0 335.3,357.0 332.5,352.4 330.0,351.1 329.0,350.2 328.3,348.5 328.3,346.0 328.9,344.0 329.9,342.0 333.5,336.8 337.6,332.0 338.1,331.0 338.1,330.0 336.0,326.8 334.0,325.2 333.0,323.9 327.0,319.6 326.5,318.9 323.0,316.6 322.2,315.5 321.0,314.7 317.5,311.3 316.4,310.5 315.1,308.5 314.4,308.0 312.9,306.0 311.1,302.5 307.9,299.5 307.6,298.5 306.9,297.5 306.4,296.0 306.3,293.0 306.4,292.0 308.0,290.3 309.2,289.5 318.3,281.5 328.7,274.0 331.5,271.3 333.0,270.2 340.0,263.3 341.5,262.2 345.5,258.3 346.7,257.5 348.8,255.5 354.5,251.4 359.5,248.9 365.0,247.3 371.5,247.4 376.5,248.9 381.5,251.4 384.0,252.9 388.2,256.0 392.3,259.5 393.2,260.0 402.3,268.0 403.2,268.5 407.3,272.0 412.5,275.6 417.5,278.6 440.0,289.9 448.0,294.6 451.5,295.9 459.5,299.9 464.7,303.5 471.0,309.7 474.0,311.6 477.5,312.6 479.5,312.8 481.0,313.2 503.0,313.2 505.0,312.8 507.0,313.2 511.5,313.3 513.0,313.7 515.0,313.8 521.5,315.2 523.0,315.3 524.5,315.7 526.0,315.8 527.0,316.1 529.0,316.4 531.5,317.1 533.5,317.4 538.0,318.6 540.0,318.9 544.5,320.1 546.5,320.4 549.0,321.1 551.0,321.4 554.5,322.2 556.5,322.3 561.0,323.2 563.5,323.3 564.5,323.6 567.0,323.8 568.5,324.2 571.0,324.3 572.5,324.7 574.5,324.8 576.0,325.2 577.5,325.3 579.0,325.7 580.5,325.8 584.0,326.6 586.0,326.9 597.5,329.9 607.5,333.1 609.5,333.4 615.0,334.7 616.5,334.8 618.0,335.2 620.5,335.3 622.0,335.7 626.0,335.8 627.5,336.2 631.0,336.3 632.5,336.7 635.0,336.8 636.5,337.2 638.5,337.4 643.5,338.9 645.5,339.9 646.1,341.0 646.1,341.5 645.7,342.0 644.0,342.7 642.0,342.8 640.5,343.2 634.0,343.2 632.5,342.8 625.5,342.7 624.0,342.3 620.5,342.2 619.0,341.8 616.0,341.7 614.5,341.3 612.5,341.2 611.0,340.8 607.5,340.7 606.0,340.3 605.4,340.5 603.7,342.5 602.5,343.1 595.0,345.6 582.5,348.2 579.5,348.3 578.0,348.7 573.5,348.8 572.0,349.2 559.0,349.2 554.5,348.8 539.5,348.8 538.0,349.2 533.0,349.3 531.5,349.7 528.0,349.8 526.5,350.2 521.5,350.3 520.0,350.7 514.5,350.8 513.0,351.2 502.5,351.2 501.0,350.8 497.5,350.7 496.0,350.3 494.0,350.2 490.5,349.6 481.5,347.1 476.0,344.6 470.8,341.0 468.0,338.2 465.9,335.0 465.1,332.5 463.4,328.5 463.1,322.5 461.5,320.9 459.5,320.3 458.0,320.3 456.5,320.7 453.0,320.8 452.0,321.1 449.5,321.3 448.0,321.7 445.5,321.8 441.0,322.7 435.5,323.3 431.5,324.2 426.5,324.9 421.0,326.6 419.5,326.9 418.0,327.6 414.5,328.8 412.0,330.4 409.5,332.4 407.9,334.5 406.4,337.5 405.6,342.5 404.9,343.5 404.6,345.0 402.6,349.0 400.6,352.0 398.2,354.5 394.0,357.6 391.5,359.1 384.0,362.6 381.5,363.4 378.5,364.6 370.5,366.6 368.5,366.8 367.0,367.2 364.5,367.3ZM548.0,447.6 536.0,447.7 534.5,447.3 531.0,447.2 529.5,446.8 528.0,446.7 524.5,445.9 522.5,445.6 519.0,444.4 517.5,444.1 509.0,440.6 501.0,435.6 499.2,434.0 496.8,432.5 494.0,429.8 493.0,429.1 487.5,422.7 485.0,418.3 483.0,416.7 480.8,414.5 479.9,413.0 479.9,408.5 481.8,405.0 485.5,401.4 488.5,399.4 492.2,397.5 496.7,393.0 512.0,373.3 519.5,365.8 523.0,363.4 525.0,362.4 528.5,361.4 534.0,361.3 536.5,361.9 540.5,363.4 545.0,365.9 551.2,370.0 573.3,387.0 581.5,392.6 583.5,393.6 587.5,394.9 589.0,395.6 592.5,396.9 596.5,398.9 601.0,401.9 606.0,406.8 607.1,408.5 608.1,411.0 608.2,414.5 607.6,416.5 606.2,418.5 603.4,421.0 602.6,423.0 601.0,425.7 598.7,428.5 596.7,430.5 592.0,434.1 590.5,434.9 588.0,436.6 584.0,438.6 583.0,438.9 581.0,440.1 578.5,440.9 573.0,443.1 562.5,445.7 561.0,445.8 559.5,446.2 554.5,446.9 553.5,447.2 549.0,447.3ZM445.0,394.6 436.5,394.7 435.0,394.3 433.0,394.1 428.5,392.1 426.9,391.0 426.5,389.9 425.0,389.8 423.5,390.2 422.0,390.1 421.4,389.5 421.4,388.5 422.8,387.0 424.5,386.1 428.8,382.5 434.0,378.9 438.5,377.3 442.0,377.4 446.0,378.9 449.0,380.9 453.8,385.0 458.0,387.9 459.1,389.5 459.0,390.2 458.0,390.7 454.5,390.0 452.0,392.1 450.0,392.9 449.0,393.6ZM332.5,400.6 331.0,400.7 329.5,400.3 326.0,400.1 323.0,399.1 321.3,398.0 320.0,396.4 317.5,396.3 316.5,396.6 315.5,396.6 313.5,396.1 312.4,395.0 312.4,394.5 313.0,393.3 315.5,390.8 320.5,387.4 328.5,383.4 338.0,379.9 342.5,378.8 351.5,378.8 353.5,379.4 356.5,380.9 358.6,382.5 359.6,385.0 359.6,386.0 357.2,388.5 355.0,389.8 353.2,393.0 350.0,395.6 345.0,398.1 342.0,399.1 339.5,399.7 337.5,399.9 336.5,400.2 333.5,400.3Z" fill="#cae8e1" fill-rule="evenodd"/>
<path d="M366.0,364.1 358.0,364.2 356.5,363.8 355.0,363.7 354.0,363.4 352.0,363.1 347.5,361.6 341.0,358.1 337.5,354.7 335.9,352.0 335.5,350.9 332.5,349.6 331.0,348.2 330.3,346.5 330.5,345.0 330.9,343.5 332.4,340.5 336.0,335.8 341.0,330.2 341.1,329.5 339.5,326.8 336.5,323.8 329.5,318.4 327.8,317.5 322.5,313.2 319.0,309.8 317.5,308.7 314.4,304.5 313.0,301.8 311.5,300.7 308.9,298.0 307.9,296.0 307.3,293.0 307.9,290.5 308.3,290.0 309.2,289.5 318.3,281.5 328.7,274.0 331.5,271.3 333.0,270.2 340.0,263.3 341.5,262.2 345.5,258.3 346.7,257.5 348.8,255.5 354.5,251.4 359.5,248.9 365.0,247.3 371.0,247.3 373.5,247.9 376.5,248.9 384.0,252.9 393.2,260.0 402.3,268.0 411.0,274.6 417.5,278.6 440.0,289.9 448.0,294.6 452.5,296.6 453.5,296.9 459.0,299.9 462.5,302.3 466.7,306.5 469.3,310.0 472.0,312.1 476.5,313.2 480.5,313.3 482.0,313.7 496.5,313.7 498.0,313.3 503.0,313.2 505.0,312.8 507.0,313.2 511.5,313.3 513.0,313.7 515.0,313.8 521.0,315.2 522.5,315.3 526.5,316.2 528.5,316.4 543.5,320.1 545.5,320.4 548.0,321.1 550.0,321.4 553.5,322.2 555.0,322.3 556.5,322.7 558.5,322.8 560.0,323.2 562.0,323.3 563.5,323.7 566.0,323.8 567.5,324.2 569.5,324.3 571.0,324.7 573.5,324.9 574.5,325.2 576.5,325.3 578.0,325.7 579.5,325.8 583.0,326.6 585.0,326.9 591.0,328.4 593.0,329.1 594.5,329.4 607.0,333.6 608.5,333.9 612.5,335.1 617.5,335.8 619.0,336.2 623.0,336.3 624.5,336.7 628.5,336.8 630.0,337.2 633.0,337.3 634.5,337.7 636.0,337.8 639.5,338.9 640.5,339.4 640.7,340.0 640.5,340.6 639.0,341.2 626.5,341.2 625.0,340.8 621.5,340.7 620.0,340.3 617.5,340.2 616.0,339.8 613.5,339.7 612.0,339.3 607.5,339.2 606.0,338.8 600.5,338.7 599.0,338.3 598.0,338.3 597.4,338.5 595.2,341.0 594.0,341.4 592.0,342.6 587.5,344.1 585.5,344.4 583.0,345.1 581.0,345.3 579.5,345.7 576.5,345.8 575.0,346.2 568.5,346.3 567.5,346.5 565.5,346.3 563.5,346.5 562.0,346.3 539.0,346.3 537.5,346.7 533.0,346.8 531.5,347.2 528.5,347.3 527.0,347.7 524.0,347.8 522.5,348.2 518.0,348.3 515.5,348.7 500.5,348.7 499.0,348.3 496.0,348.2 494.5,347.8 492.5,347.7 490.0,346.9 488.0,346.6 482.0,344.6 475.0,341.1 474.5,340.4 472.0,338.6 471.5,337.8 470.4,337.0 469.4,335.5 467.6,332.0 466.4,330.5 465.4,328.5 465.3,323.0 466.2,318.5 466.1,315.5 465.5,314.3 464.2,313.0 461.5,311.8 460.9,312.0 460.0,313.7 458.7,315.0 455.0,317.1 443.5,319.7 442.0,319.8 438.0,320.7 436.5,320.8 432.0,321.7 430.0,321.8 427.0,322.6 424.5,322.9 422.5,323.6 417.5,324.9 416.0,325.6 413.5,326.4 412.5,327.1 410.5,327.9 406.5,330.9 404.9,333.0 403.4,336.5 403.6,338.5 403.4,339.0 403.1,341.0 401.9,343.0 401.6,344.5 400.1,347.5 397.1,351.5 393.7,354.5 388.5,357.7 380.5,361.1 379.0,361.4 375.0,362.6 373.0,362.9 369.5,363.7 367.0,363.8ZM543.0,444.5 541.0,444.3 535.0,444.2 533.5,443.8 530.5,443.7 527.5,442.9 523.0,442.1 515.5,439.6 508.0,436.1 500.0,431.1 498.2,429.5 495.5,427.7 494.5,426.4 490.0,422.2 488.6,420.0 487.4,418.5 486.2,416.5 483.8,415.0 481.8,413.0 481.4,412.5 480.8,410.5 480.8,409.0 481.4,407.0 483.0,404.3 486.3,401.0 489.5,398.9 492.2,397.5 496.7,393.0 512.3,373.0 520.0,365.4 525.0,362.4 529.0,361.3 534.0,361.3 536.5,361.9 540.5,363.4 545.0,365.9 551.2,370.0 573.3,387.0 583.0,393.6 587.0,394.9 593.0,397.6 594.0,397.9 599.2,401.0 602.0,403.3 604.0,405.3 606.1,409.0 606.7,411.0 606.6,413.5 605.6,416.0 603.2,418.5 601.4,419.5 599.6,423.0 598.2,425.0 593.2,430.0 589.5,432.6 586.0,434.4 585.0,435.1 577.5,438.6 576.0,438.9 574.5,439.6 573.0,439.9 569.5,441.1 565.5,442.1 563.5,442.3 556.5,443.7 554.0,443.8 552.5,444.2 547.0,444.3 546.0,444.5 544.0,444.3ZM441.5,393.0 439.0,393.1 438.0,392.8 436.0,392.7 435.0,392.4 433.0,392.1 430.5,391.1 427.0,388.4 424.5,389.2 422.5,389.1 422.0,388.5 423.8,386.5 426.7,384.5 430.8,381.0 434.0,378.9 438.0,377.4 439.5,377.2 442.0,377.4 446.0,378.9 449.2,381.0 451.3,383.0 456.7,387.0 458.1,388.5 458.0,389.6 456.5,389.7 453.5,388.4 453.0,388.4 451.7,390.0 449.0,391.6 444.5,392.7ZM337.5,396.6 329.5,396.6 326.5,395.6 325.5,394.3 324.5,393.8 320.5,394.7 317.0,394.7 315.5,394.1 315.3,393.0 315.5,392.3 317.5,390.3 320.0,388.4 324.5,386.1 325.5,385.4 326.5,385.1 330.0,383.4 337.5,380.9 339.5,380.6 343.0,379.8 349.0,379.8 353.0,380.9 356.1,383.0 356.7,384.5 355.7,386.5 355.0,387.1 352.0,388.6 350.3,389.0 349.0,391.2 347.7,392.5 344.0,394.6 343.0,394.9 341.5,395.6Z" fill="#c7e7df" fill-rule="evenodd"/>
<path d="M366.0,361.1 359.5,361.2 358.0,360.8 356.0,360.7 355.0,360.4 353.0,360.1 348.5,358.6 344.5,356.6 342.0,354.7 339.4,351.5 338.4,349.5 337.5,349.0 335.5,348.6 334.5,348.1 333.0,346.7 332.3,345.0 332.9,342.5 333.4,341.5 335.5,338.3 337.5,336.2 338.3,335.0 343.7,329.5 344.0,329.0 343.7,328.0 342.1,325.5 341.0,324.7 339.5,322.9 325.5,313.1 325.0,312.4 321.8,310.0 320.3,308.5 316.5,304.2 316.1,303.0 314.7,301.0 311.0,298.1 309.9,296.5 308.8,293.5 308.8,290.5 309.3,289.5 311.5,287.3 312.7,286.5 318.3,281.5 328.7,274.0 331.5,271.3 333.0,270.2 340.0,263.3 341.5,262.2 345.5,258.3 353.0,252.4 359.5,248.9 362.5,247.9 365.0,247.3 371.0,247.3 376.5,248.9 384.0,252.9 393.2,260.0 399.3,265.5 400.2,266.0 407.3,272.0 412.5,275.6 417.5,278.6 440.0,289.9 448.0,294.6 450.0,295.6 451.0,295.9 458.0,299.4 462.2,302.5 464.0,304.3 466.1,308.0 466.2,309.0 466.0,309.6 465.0,310.1 464.0,310.2 460.0,309.6 458.5,309.1 457.2,311.0 455.0,313.1 453.5,314.1 448.5,316.1 444.5,316.9 441.5,317.7 439.0,317.9 433.5,319.2 432.0,319.3 430.5,319.7 428.5,319.8 425.5,320.6 423.0,320.9 421.0,321.6 419.0,321.9 415.5,323.1 414.0,323.4 407.5,326.4 405.0,328.3 401.9,331.5 400.8,334.0 400.6,340.0 398.9,342.5 398.1,345.0 396.1,348.0 392.2,352.0 390.0,353.6 384.0,356.6 383.0,356.9 382.0,357.6 380.5,357.9 379.0,358.6 375.5,359.4 373.5,360.1 371.0,360.3 369.5,360.7 367.0,360.8ZM510.5,346.6 505.5,346.7 504.5,346.4 498.5,346.2 497.0,345.8 495.0,345.7 493.5,345.3 491.5,345.1 489.5,344.4 487.5,344.1 486.0,343.4 484.5,343.1 482.0,342.1 481.0,341.4 479.0,340.6 475.8,338.5 473.3,336.0 471.5,333.7 470.5,331.3 469.0,330.2 467.5,328.7 466.9,327.0 466.8,323.0 467.1,322.0 467.4,320.0 469.4,315.0 472.0,313.8 496.5,313.7 498.0,313.3 503.0,313.2 504.5,312.8 505.5,312.8 507.0,313.2 511.5,313.3 513.0,313.7 515.0,313.8 520.5,315.1 534.5,317.9 550.0,321.7 551.5,321.8 555.0,322.6 557.5,322.8 559.0,323.2 561.0,323.3 562.5,323.7 564.5,323.8 566.0,324.2 568.5,324.3 569.5,324.6 572.0,324.8 573.5,325.2 575.5,325.3 577.0,325.7 578.5,325.8 582.0,326.6 584.0,326.9 590.0,328.4 593.5,329.6 595.0,329.9 596.5,330.6 600.5,331.9 606.5,334.3 609.5,335.9 609.9,336.5 608.5,337.1 607.5,337.2 597.5,337.2 596.0,336.8 592.0,336.8 591.3,337.0 590.0,338.6 588.5,339.6 586.5,340.6 583.5,341.6 578.5,342.7 577.0,342.8 575.5,343.2 572.5,343.3 571.0,343.7 555.0,343.7 551.0,343.3 547.0,343.3 544.5,343.7 537.5,343.8 536.0,344.2 532.5,344.3 531.5,344.6 529.0,344.8 527.5,345.2 525.0,345.3 523.5,345.7 520.5,345.8 519.5,346.1 518.5,346.0 517.5,346.2 511.5,346.3ZM545.0,441.5 536.0,441.2 534.5,440.8 532.0,440.7 530.5,440.3 528.5,440.1 524.5,439.1 522.5,438.4 521.0,438.1 516.5,436.6 512.0,434.7 508.0,432.6 507.0,431.9 506.0,431.6 501.0,428.6 499.2,427.0 496.3,425.0 490.8,419.5 488.0,415.3 483.5,412.7 481.9,410.0 481.9,408.0 483.5,404.3 487.3,400.5 492.2,397.5 496.7,393.0 512.3,373.0 520.0,365.4 525.0,362.4 528.5,361.4 534.0,361.3 536.5,361.9 540.5,363.4 545.0,365.9 551.2,370.0 573.3,387.0 583.0,393.6 588.0,395.4 591.5,397.1 592.5,397.4 599.0,401.4 603.5,405.8 605.1,409.5 605.2,412.0 604.5,414.2 601.7,417.0 599.5,418.3 598.1,421.0 596.5,423.2 592.7,427.0 588.0,430.6 581.5,433.9 580.5,434.6 568.5,438.6 564.0,439.4 561.0,440.2 559.0,440.3 557.5,440.7 555.0,440.8 553.5,441.2 546.0,441.3ZM442.5,391.1 438.5,391.2 435.0,390.6 432.0,389.6 430.0,388.6 428.5,386.9 428.0,386.9 424.0,388.6 423.5,388.6 423.0,388.2 422.9,387.5 423.8,386.5 426.7,384.5 428.8,382.5 434.0,378.9 438.0,377.4 441.0,377.3 442.0,377.4 446.0,378.9 449.2,381.0 451.3,383.0 456.7,387.0 457.5,388.0 457.0,388.6 456.0,388.7 454.0,388.1 452.0,387.0 449.5,389.1 447.5,390.1 445.0,390.7 443.0,390.9ZM322.5,393.1 319.0,393.1 318.0,392.0 318.4,391.0 319.8,389.5 324.0,386.8 330.5,383.9 336.5,381.9 338.5,381.6 342.0,380.8 347.0,380.8 349.5,381.4 352.0,382.4 353.5,384.0 353.1,385.5 351.0,387.1 348.0,388.1 340.5,389.4 340.0,390.1 338.0,391.1 336.0,391.2 334.5,390.8 333.0,390.8 330.0,391.6 328.0,391.9Z" fill="#c5e6dd" fill-rule="evenodd"/>
<path d="M367.0,358.1 359.5,358.2 358.5,357.9 356.5,357.7 354.0,357.1 349.5,355.6 347.5,354.6 343.5,351.7 342.9,351.0 341.0,347.4 337.5,347.1 336.3,346.5 335.0,345.2 334.8,344.5 334.9,342.0 336.4,339.0 337.1,338.5 338.8,336.0 345.5,329.3 346.7,328.5 347.0,328.0 346.6,326.5 342.2,322.0 338.5,319.4 335.5,317.6 334.0,316.6 333.5,315.9 330.5,314.1 329.0,312.9 327.5,312.1 327.0,311.4 324.3,309.5 320.8,306.0 320.1,305.0 319.0,304.2 316.2,300.0 313.3,298.0 311.5,296.2 310.4,294.5 309.9,293.0 309.8,290.0 310.4,288.5 311.5,287.3 312.7,286.5 318.3,281.5 328.7,274.0 331.5,271.3 333.0,270.2 340.0,263.3 341.5,262.2 345.5,258.3 353.0,252.4 359.5,248.9 362.5,247.9 365.0,247.3 371.0,247.3 376.5,248.9 384.0,252.9 393.2,260.0 399.3,265.5 400.2,266.0 407.3,272.0 412.5,275.6 417.5,278.6 440.0,289.9 448.0,294.6 452.0,296.3 457.5,299.4 461.6,302.5 463.1,304.5 463.6,305.5 463.7,306.5 463.2,307.5 462.0,308.2 460.5,308.2 456.0,307.1 455.6,308.0 454.1,310.0 452.0,311.6 450.0,312.4 449.0,313.1 447.5,313.4 444.5,314.6 440.5,315.4 437.5,316.2 436.0,316.3 429.0,317.7 427.5,317.8 424.0,318.6 422.0,318.9 419.5,319.6 417.5,319.9 409.0,322.9 403.0,325.9 399.5,328.9 398.8,330.0 397.8,332.5 397.8,334.0 398.2,335.5 398.1,338.5 397.6,339.5 396.4,341.0 395.1,344.0 394.1,345.5 393.0,347.2 391.0,349.2 386.0,352.6 380.5,355.1 374.0,357.1 372.0,357.3 370.5,357.7 368.0,357.8ZM515.0,344.1 501.0,344.2 499.5,343.8 497.0,343.7 487.5,341.6 481.5,339.1 478.8,337.5 474.9,334.0 473.9,332.5 473.1,330.5 472.7,330.0 471.5,329.6 468.9,327.5 468.3,325.5 468.3,322.0 469.9,318.0 472.5,315.4 475.0,314.8 477.0,314.6 478.0,314.3 487.5,314.2 489.0,313.8 496.5,313.7 498.0,313.3 503.0,313.2 504.5,312.8 505.5,312.8 507.0,313.2 511.5,313.3 513.0,313.7 515.0,313.8 516.0,314.1 518.0,314.4 523.0,315.7 524.5,315.8 525.5,316.1 527.5,316.4 546.5,321.1 548.5,321.4 554.5,322.7 556.0,322.8 557.5,323.2 560.0,323.3 561.5,323.7 563.5,323.8 565.0,324.2 567.5,324.3 568.5,324.6 571.0,324.8 572.5,325.2 574.5,325.3 576.0,325.7 577.5,325.8 581.0,326.6 583.0,326.9 589.0,328.4 595.0,330.4 600.5,332.9 602.0,333.9 602.2,334.5 602.0,335.1 600.0,335.7 593.0,335.7 591.5,335.3 587.0,335.2 585.5,334.9 583.5,337.2 582.0,338.1 577.0,339.6 575.0,339.9 574.0,340.2 571.5,340.3 570.0,340.7 542.0,340.8 540.5,341.2 537.0,341.3 535.5,341.7 533.0,341.8 532.0,342.1 529.5,342.3 528.0,342.7 525.5,342.8 524.0,343.2 521.0,343.3 519.5,343.7 516.0,343.8ZM551.0,438.6 540.0,438.7 538.5,438.3 535.0,438.2 530.5,437.3 529.0,437.2 522.5,435.6 513.0,432.1 507.0,429.1 498.8,424.0 496.0,421.7 492.3,418.0 489.0,413.4 486.5,412.6 484.0,411.1 482.9,409.0 482.9,406.5 485.0,402.8 488.3,400.0 492.2,397.5 496.7,393.0 512.3,373.0 519.8,365.5 523.0,363.4 526.5,361.9 529.0,361.3 534.5,361.4 540.5,363.4 545.0,365.9 551.2,370.0 573.3,387.0 583.0,393.6 587.5,395.4 590.0,396.6 591.0,396.9 597.0,400.4 599.5,402.3 601.0,403.8 602.6,406.0 603.6,408.5 603.7,411.5 602.7,413.5 601.0,415.1 598.5,416.4 597.8,417.0 596.9,418.0 595.5,420.7 591.0,425.2 588.5,427.1 583.0,430.6 582.0,430.9 581.0,431.6 579.5,431.9 578.5,432.6 576.0,433.6 569.5,435.6 560.0,437.7 557.5,437.8 556.0,438.2 552.0,438.3ZM443.5,389.1 437.5,389.2 433.0,388.1 429.5,385.5 426.5,387.1 425.0,387.6 423.5,387.6 423.4,387.0 426.7,384.5 428.8,382.5 434.0,378.9 438.0,377.4 441.0,377.3 442.0,377.4 446.0,378.9 449.2,381.0 451.3,383.0 456.5,386.9 456.7,387.5 456.5,388.1 455.5,388.1 450.5,385.6 448.5,387.6 446.0,388.6 444.0,388.9ZM327.0,391.1 322.0,391.2 321.4,391.0 321.3,390.5 321.4,390.0 322.5,388.8 325.5,386.8 329.5,384.9 332.0,384.1 333.5,383.4 337.5,382.4 339.5,382.2 341.0,381.8 345.5,381.8 348.0,382.4 349.2,383.0 350.1,384.0 350.0,384.7 348.7,386.0 346.0,387.1 342.0,388.1 340.0,388.4 339.0,388.7 337.5,388.8 334.5,389.6 327.5,390.9Z" fill="#c2e5da" fill-rule="evenodd"/>
<path d="M368.0,355.1 360.5,355.2 359.0,354.8 356.5,354.6 353.0,353.6 350.5,352.6 347.5,350.7 344.9,348.0 344.0,345.9 340.0,345.6 337.4,344.5 336.8,343.0 336.9,341.0 339.4,337.0 345.0,331.3 349.5,327.7 350.1,327.0 350.1,326.5 348.7,324.5 345.0,320.9 329.5,311.1 329.0,310.4 327.0,309.1 323.0,305.3 321.8,304.5 318.4,300.0 317.6,298.5 316.5,298.1 312.9,295.5 311.9,294.0 310.8,291.5 310.9,289.0 311.4,287.5 311.8,287.0 312.7,286.5 318.3,281.5 328.7,274.0 331.5,271.3 333.0,270.2 340.0,263.3 341.5,262.2 345.5,258.3 346.7,257.5 348.8,255.5 354.5,251.4 359.5,248.9 365.0,247.3 371.5,247.4 376.5,248.9 381.5,251.4 384.0,252.9 388.2,256.0 392.3,259.5 393.2,260.0 402.3,268.0 403.2,268.5 407.3,272.0 412.5,275.6 417.5,278.6 440.0,289.9 448.0,294.6 451.0,296.1 452.0,296.4 453.0,297.1 454.0,297.4 458.5,300.3 461.5,303.3 462.2,305.0 461.7,306.0 460.0,306.7 456.5,306.1 454.0,305.4 452.0,308.1 449.0,310.1 445.5,311.6 436.5,314.1 434.5,314.4 433.5,314.7 432.0,314.8 428.0,315.7 426.5,315.8 423.5,316.6 421.5,316.8 418.5,317.6 414.5,318.4 411.5,319.4 410.0,320.1 408.5,320.4 403.5,322.6 402.5,322.9 401.0,324.1 399.0,325.3 395.4,329.0 394.3,331.5 395.6,334.5 395.6,337.5 394.6,339.0 393.4,340.0 392.0,343.2 390.2,345.5 388.5,347.2 385.5,349.6 378.0,353.1 374.0,354.1 372.0,354.4 371.0,354.7 369.0,354.8ZM508.5,342.0 499.0,341.7 497.5,341.3 496.0,341.2 489.0,339.6 484.0,337.6 479.5,334.7 476.5,331.7 475.0,328.9 473.5,328.6 471.5,327.6 470.5,326.7 469.8,325.0 469.8,322.0 470.4,320.0 471.8,318.0 473.5,316.4 475.5,315.4 477.5,315.1 478.5,314.8 481.5,314.7 483.0,314.3 490.0,314.2 491.5,313.8 496.5,313.7 498.0,313.3 503.0,313.2 504.5,312.8 505.5,312.8 507.0,313.2 511.5,313.3 513.0,313.7 515.0,313.8 516.0,314.1 518.0,314.4 522.5,315.6 531.5,317.4 551.0,322.2 552.5,322.3 553.5,322.6 558.5,323.3 560.0,323.7 562.5,323.8 564.0,324.2 566.5,324.3 568.0,324.7 570.5,324.9 571.5,325.2 573.5,325.3 575.0,325.7 576.5,325.8 580.0,326.6 582.0,326.9 588.0,328.4 591.0,329.6 593.5,330.4 596.5,331.9 597.6,333.0 597.5,333.6 596.5,334.1 595.5,334.2 587.5,334.2 586.0,333.8 582.5,333.7 581.0,333.3 579.0,333.3 578.3,333.5 577.5,334.6 574.5,336.1 569.5,337.2 562.0,337.3 560.0,337.5 557.0,337.3 551.0,337.3 549.5,337.7 543.0,337.8 541.5,338.2 539.0,338.3 537.5,338.7 535.5,338.8 534.0,339.2 532.5,339.3 531.0,339.7 529.0,339.8 526.0,340.6 523.5,340.8 522.0,341.2 517.5,341.3 516.0,341.7 509.5,341.8ZM548.5,436.1 542.5,436.1 541.5,435.8 537.0,435.7 535.5,435.3 533.0,435.2 520.5,432.1 517.5,430.9 513.5,429.6 512.5,428.9 509.5,427.6 508.5,426.9 505.5,425.6 503.0,423.9 501.3,423.0 496.3,419.0 493.0,415.7 490.5,412.3 490.0,411.9 488.0,411.6 486.5,411.1 484.5,409.2 483.9,408.0 483.9,406.0 484.4,404.5 485.5,402.8 487.8,400.5 492.0,397.7 496.7,393.0 512.3,373.0 519.8,365.5 523.0,363.4 526.5,361.9 529.0,361.3 534.0,361.3 538.0,362.4 542.5,364.4 551.0,369.9 573.3,387.0 581.5,392.6 585.0,394.6 588.5,395.9 593.5,398.4 596.5,400.4 599.1,402.5 601.1,405.0 602.1,407.0 602.6,410.0 601.2,412.5 598.5,414.6 596.0,415.4 594.5,418.2 591.0,422.2 588.0,424.6 582.5,428.1 574.0,431.6 565.0,434.1 563.0,434.4 562.0,434.7 560.5,434.8 559.0,435.2 557.0,435.3 555.5,435.7 549.5,435.8ZM455.5,387.2 454.5,387.1 449.5,384.4 449.0,384.4 446.0,386.6 444.0,386.9 443.0,387.2 437.5,387.2 436.0,387.0 432.5,385.6 432.0,384.9 431.0,384.4 430.5,384.4 428.5,385.4 426.5,386.6 425.0,387.1 424.4,387.0 424.4,386.5 428.8,382.5 434.0,378.9 438.0,377.4 441.5,377.3 445.0,378.4 449.0,380.9 451.3,383.0 455.0,385.8 455.7,386.5 455.9,387.0ZM328.5,389.6 325.5,389.7 324.9,389.5 324.9,389.0 325.5,387.9 328.0,386.4 334.5,383.9 337.0,383.3 339.0,383.1 340.0,382.8 343.0,382.8 345.6,383.5 345.7,384.5 345.5,385.1 342.5,386.6 338.5,387.6 336.5,387.9 334.0,388.6 329.0,389.4Z" fill="#bfe3d8" fill-rule="evenodd"/>
<path d="M368.5,352.1 362.0,352.2 360.5,351.8 358.5,351.7 356.0,351.1 351.0,349.1 348.0,346.2 347.0,343.9 345.5,344.2 343.0,344.2 340.5,343.6 339.3,342.5 338.9,342.0 338.9,341.0 339.9,338.5 341.0,336.8 346.3,331.5 349.0,329.4 353.4,326.5 353.1,325.0 351.7,323.0 349.0,320.9 343.0,316.9 342.0,316.6 340.5,315.4 339.5,315.1 333.0,310.9 331.5,310.1 329.7,308.5 326.8,306.5 321.3,301.0 319.0,297.4 316.0,296.1 313.4,294.0 312.4,292.0 311.8,290.0 311.9,288.0 312.4,287.0 315.0,284.3 324.3,277.0 328.7,274.0 331.5,271.3 333.0,270.2 340.0,263.3 341.5,262.2 345.5,258.3 346.7,257.5 348.8,255.5 354.5,251.4 359.5,248.9 365.0,247.3 371.5,247.4 376.5,248.9 381.5,251.4 384.0,252.9 388.2,256.0 392.3,259.5 393.2,260.0 402.3,268.0 403.2,268.5 407.3,272.0 412.5,275.6 417.5,278.6 440.0,289.9 448.0,294.6 455.5,298.4 457.2,299.5 459.5,301.8 460.6,303.5 460.6,304.0 460.2,304.5 459.0,305.2 457.0,305.1 452.0,303.9 449.0,307.1 446.5,308.7 443.0,310.1 438.0,311.4 436.0,312.1 430.5,312.8 422.0,314.6 420.0,314.9 417.5,315.6 415.5,315.9 413.5,316.6 408.5,317.9 399.0,321.9 398.0,322.6 395.3,324.0 392.4,327.0 391.4,329.0 391.3,330.5 393.1,334.0 393.1,336.0 392.5,337.2 391.0,338.3 389.9,339.5 389.6,340.5 388.5,342.7 385.2,346.0 382.0,348.1 377.5,350.1 374.0,351.1 372.0,351.4 371.0,351.7 369.5,351.8ZM513.5,339.6 502.5,339.7 501.0,339.3 498.5,339.2 497.0,338.8 495.0,338.6 488.0,336.6 483.0,334.1 481.5,333.1 479.5,331.2 477.9,329.0 477.5,327.9 474.0,327.1 472.8,326.5 471.8,325.5 471.3,324.5 471.3,322.0 471.9,320.0 472.5,318.8 474.8,316.5 478.5,315.3 480.0,315.2 481.5,314.8 484.0,314.7 485.5,314.3 491.5,314.2 493.0,313.8 496.5,313.7 498.0,313.3 503.0,313.2 504.5,312.8 505.5,312.8 507.0,313.2 511.5,313.3 513.0,313.7 515.0,313.8 516.0,314.1 518.0,314.4 524.5,316.1 529.0,316.9 547.5,321.6 549.5,321.9 552.5,322.6 554.5,322.8 556.0,323.2 558.0,323.3 559.5,323.7 561.5,323.8 563.0,324.2 565.5,324.3 567.0,324.7 569.0,324.8 570.5,325.2 572.5,325.3 574.0,325.7 575.5,325.8 579.0,326.6 581.0,326.9 585.0,327.9 592.0,330.4 593.6,332.0 593.5,332.6 591.5,333.2 587.0,333.2 585.5,332.8 581.5,332.7 580.0,332.3 576.5,332.2 575.0,331.8 572.0,331.7 570.5,331.3 568.0,331.3 564.5,332.7 562.5,332.8 561.0,333.2 554.5,333.3 553.0,333.7 549.0,333.8 547.5,334.2 545.0,334.3 535.5,336.2 533.5,336.4 527.5,337.7 526.0,337.8 522.0,338.7 519.5,338.8 518.0,339.2 514.5,339.3ZM549.0,433.5 547.0,433.4 545.0,433.6 543.0,433.3 538.5,433.2 537.0,432.8 534.0,432.7 532.5,432.3 531.0,432.2 524.0,430.6 521.0,429.4 519.5,429.1 518.0,428.4 516.5,428.1 514.0,427.1 513.0,426.4 510.5,425.6 508.5,424.6 499.5,419.1 495.8,416.0 495.0,414.8 493.9,414.0 491.7,411.0 489.5,410.4 487.5,410.1 486.0,409.1 484.9,407.5 484.9,405.0 486.0,402.8 489.3,399.5 492.0,397.7 496.7,393.0 512.3,373.0 519.8,365.5 523.0,363.4 526.5,361.9 529.0,361.3 534.0,361.3 538.0,362.4 542.5,364.4 551.2,370.0 557.2,374.5 558.8,376.0 563.7,379.5 565.3,381.0 577.0,389.6 583.0,393.6 594.0,398.9 596.5,400.8 599.2,403.5 601.1,406.5 601.1,409.5 600.2,411.0 598.5,412.6 596.5,413.6 594.3,414.0 591.5,418.2 588.5,421.2 583.0,425.1 581.0,425.9 578.0,427.6 575.5,428.4 574.0,429.1 569.5,430.6 563.5,432.1 559.0,432.7 556.5,432.8 555.0,433.2 550.0,433.3ZM455.0,386.6 453.0,386.1 448.0,382.9 447.5,382.9 446.0,384.1 443.5,385.1 438.0,385.2 434.0,384.1 432.5,382.9 432.0,382.8 431.5,382.9 428.5,385.1 426.5,386.1 425.1,386.0 425.5,385.3 426.7,384.5 428.8,382.5 434.0,378.9 438.0,377.4 441.5,377.3 445.0,378.4 449.0,380.9 451.3,383.0 454.7,385.5 455.1,386.0ZM334.5,387.1 331.5,387.2 330.7,387.0 331.0,386.4 333.0,385.4 337.0,384.4 339.5,384.4 340.0,385.0 339.7,385.5 338.5,386.1Z" fill="#bce2d6" fill-rule="evenodd"/>
<path d="M367.5,349.1 363.5,349.2 362.0,348.8 360.0,348.7 357.5,348.1 353.8,346.5 351.0,343.7 350.5,342.4 348.0,342.3 346.0,342.7 342.5,342.1 341.8,341.5 341.4,341.0 341.3,339.5 342.5,336.8 347.5,331.8 349.8,330.0 355.0,326.9 357.0,326.1 357.2,325.0 356.6,323.5 354.5,321.4 353.0,320.6 351.5,319.4 349.0,317.9 348.0,317.6 346.5,316.4 344.5,315.6 343.0,314.4 341.0,313.6 339.5,312.4 338.5,312.1 337.0,310.9 335.0,310.1 332.0,308.1 331.5,307.4 328.5,305.6 323.4,300.5 321.4,298.0 321.1,297.0 320.5,296.3 320.0,295.9 318.5,295.6 316.5,294.6 314.5,293.2 313.4,291.5 312.8,289.5 312.9,288.0 313.4,286.5 314.0,285.3 315.0,284.3 324.3,277.0 328.7,274.0 331.5,271.3 333.0,270.2 340.0,263.3 341.5,262.2 345.5,258.3 346.7,257.5 348.8,255.5 354.5,251.4 359.5,248.9 365.0,247.3 371.0,247.3 376.5,248.9 384.2,253.0 393.2,260.0 402.3,268.0 403.2,268.5 407.3,272.0 412.5,275.6 417.5,278.6 440.0,289.9 448.0,294.6 453.5,297.4 456.2,299.0 458.6,301.5 459.1,303.0 458.5,303.6 455.0,303.7 452.5,303.1 451.0,302.4 450.0,302.3 449.4,302.5 448.5,304.1 445.0,306.6 441.5,307.9 440.0,308.6 432.0,310.6 430.0,310.9 426.5,311.7 424.5,311.9 421.5,312.7 420.0,312.8 419.0,313.1 417.0,313.4 414.5,314.1 412.5,314.4 411.0,315.1 409.0,315.4 406.0,316.6 404.5,316.9 403.0,317.6 400.5,318.4 399.5,319.1 398.5,319.4 393.5,321.9 392.5,322.6 391.5,322.9 387.5,326.8 386.9,328.5 386.9,329.0 388.2,330.0 390.1,332.5 390.1,335.0 389.2,336.5 386.9,337.5 385.6,340.5 384.6,342.0 381.5,344.6 378.0,346.6 377.0,346.9 375.5,347.6 373.5,347.9 371.5,348.6 368.5,348.8ZM515.0,337.1 501.5,337.2 500.0,336.8 497.0,336.7 496.0,336.4 494.0,336.1 487.0,333.6 484.5,332.1 484.0,331.4 483.0,330.7 481.0,328.7 480.1,327.0 479.5,326.4 478.5,326.5 475.5,326.1 474.0,325.2 472.9,324.0 472.5,323.0 472.4,321.5 472.9,320.0 474.0,318.3 476.0,316.9 478.0,315.9 483.0,314.8 485.5,314.7 487.0,314.3 493.0,314.2 494.0,313.9 496.5,313.7 498.0,313.3 503.0,313.2 504.5,312.8 505.5,312.8 507.0,313.2 511.5,313.3 513.0,313.7 515.0,313.8 516.0,314.1 518.0,314.4 524.5,316.1 526.5,316.4 529.0,317.1 533.0,317.9 535.0,318.6 547.0,321.6 549.0,321.9 554.5,323.1 557.0,323.3 558.5,323.7 560.5,323.8 562.0,324.2 564.5,324.3 565.5,324.6 568.0,324.8 569.5,325.2 571.5,325.3 573.0,325.7 574.5,325.8 578.0,326.6 580.0,326.9 584.0,327.9 588.0,329.4 589.2,330.0 590.0,331.0 589.7,331.5 589.0,331.7 579.5,331.7 578.0,331.3 574.5,331.2 573.0,330.8 569.0,330.7 567.5,330.3 563.0,330.2 561.5,329.8 557.5,329.7 556.0,329.3 553.5,329.2 552.0,328.8 549.0,328.7 547.5,328.3 546.5,328.3 546.0,328.4 544.5,329.6 541.5,331.1 533.5,333.6 525.0,335.7 523.5,335.8 522.5,336.1 518.5,336.7 516.0,336.8ZM550.5,431.1 543.0,431.1 542.0,430.8 537.5,430.7 536.0,430.3 534.0,430.2 530.5,429.4 528.5,429.2 526.0,428.6 524.0,427.9 522.5,427.6 521.0,426.9 518.0,425.9 516.5,425.6 514.0,424.6 513.0,423.9 508.5,422.2 501.5,418.1 501.0,417.4 499.3,416.5 498.5,415.4 497.0,414.6 492.5,409.4 489.0,409.1 487.0,408.1 485.9,407.0 485.5,405.5 485.8,404.0 486.8,402.0 489.3,399.5 492.0,397.7 496.7,393.0 512.3,373.0 519.8,365.5 523.0,363.4 525.0,362.4 529.0,361.3 534.0,361.3 538.0,362.4 542.5,364.4 551.2,370.0 557.2,374.5 558.8,376.0 563.7,379.5 565.3,381.0 577.0,389.6 584.5,394.6 589.0,396.3 595.0,399.9 598.2,403.0 599.6,405.0 600.2,407.5 598.7,410.5 597.0,411.6 595.5,412.1 592.5,412.4 592.1,413.5 591.0,415.2 587.5,419.2 585.0,421.1 581.0,423.6 580.0,423.9 578.0,425.1 573.0,427.1 571.5,427.4 569.5,428.1 563.5,429.6 561.5,429.9 560.5,430.2 558.5,430.3 557.0,430.7 551.5,430.8ZM454.0,385.7 453.0,385.6 446.5,381.4 446.0,381.4 443.0,383.1 438.0,383.2 435.0,382.1 434.0,381.1 432.5,381.9 431.0,383.1 428.5,384.6 426.5,385.6 425.7,385.5 425.8,385.0 426.7,384.5 428.8,382.5 434.0,378.9 438.0,377.4 441.0,377.3 442.0,377.4 446.0,378.9 449.2,381.0 454.5,385.5Z" fill="#b9e1d4" fill-rule="evenodd"/>
<path d="M368.5,345.6 364.5,345.7 363.0,345.3 361.0,345.1 358.0,344.1 356.8,343.5 355.3,342.0 354.6,340.5 354.0,340.0 350.5,340.7 346.0,340.7 345.0,340.6 343.9,340.0 343.9,337.5 345.3,335.5 348.8,332.0 351.0,330.4 356.5,327.4 360.5,325.9 362.0,325.6 362.6,325.0 362.6,324.5 360.7,322.0 359.0,321.1 356.5,319.4 353.0,317.3 351.0,316.6 346.5,313.9 342.5,312.1 332.5,306.1 328.5,303.1 327.7,302.0 326.8,301.5 326.0,300.4 325.0,299.7 323.9,298.5 321.7,295.0 318.5,294.1 316.0,292.7 314.9,291.5 313.8,289.0 313.9,286.5 315.3,284.0 324.3,277.0 328.7,274.0 331.5,271.3 333.0,270.2 340.0,263.3 341.5,262.2 345.5,258.3 352.8,252.5 355.5,250.8 359.5,248.9 365.0,247.3 371.0,247.3 376.5,248.9 384.2,253.0 393.2,260.0 402.3,268.0 403.2,268.5 407.3,272.0 412.5,275.6 417.5,278.6 440.0,289.9 448.0,294.6 453.5,297.4 455.5,298.8 457.6,301.0 457.6,302.0 457.0,302.6 454.5,302.7 452.0,302.1 448.0,300.6 445.0,303.6 442.5,305.2 439.0,306.6 436.0,307.6 434.0,307.9 433.5,308.1 431.5,308.4 423.0,310.2 421.0,310.4 418.0,311.2 416.0,311.4 414.0,312.1 410.0,312.9 405.0,314.6 403.5,314.9 400.5,316.1 399.0,316.4 388.0,321.3 383.8,324.0 382.0,325.8 381.8,326.5 382.0,327.6 383.5,328.4 385.5,329.9 387.1,332.0 387.2,333.5 387.0,334.2 386.0,335.1 383.0,336.4 380.5,340.7 378.0,342.6 375.0,344.1 373.5,344.4 371.5,345.1 369.5,345.3ZM509.5,335.1 506.0,335.2 504.5,334.8 500.0,334.7 498.5,334.3 496.5,334.1 494.5,333.4 492.5,333.1 489.0,331.4 488.0,331.1 485.8,329.5 483.0,326.7 482.5,325.4 477.0,325.2 475.3,324.5 474.4,323.5 474.0,322.5 473.9,321.0 474.4,319.5 476.5,317.4 479.5,315.9 484.5,314.8 487.0,314.7 488.5,314.3 493.0,314.2 494.0,313.9 496.5,313.7 498.0,313.3 503.0,313.2 504.5,312.8 505.5,312.8 507.0,313.2 511.5,313.3 513.0,313.7 515.0,313.8 516.0,314.1 518.0,314.4 524.5,316.1 526.5,316.4 548.5,322.1 550.5,322.4 551.5,322.7 553.0,322.8 554.5,323.2 556.0,323.3 557.5,323.7 563.0,324.3 564.5,324.7 567.0,324.8 568.5,325.2 570.5,325.3 572.0,325.7 573.5,325.8 577.0,326.6 579.0,326.9 584.0,328.4 586.0,329.4 586.5,330.0 586.2,330.5 585.5,330.7 578.0,330.7 576.5,330.3 572.0,330.2 570.5,329.8 566.0,329.7 564.5,329.3 560.5,329.2 559.0,328.8 555.5,328.7 554.0,328.3 551.5,328.2 550.0,327.8 547.0,327.7 545.5,327.3 544.0,327.2 542.5,326.8 540.5,326.7 539.0,326.3 538.5,326.4 537.5,327.7 535.5,329.1 531.0,331.1 528.0,332.1 519.5,334.2 517.0,334.3 515.5,334.7 510.5,334.8ZM553.5,428.6 542.0,428.7 540.5,428.3 536.5,428.2 535.0,427.8 530.0,427.1 517.5,423.6 516.0,422.9 512.5,421.6 508.0,419.4 507.0,419.1 503.0,416.4 501.5,415.6 499.0,413.7 495.8,410.5 494.0,408.3 493.5,408.0 492.0,408.2 488.5,407.6 487.0,406.6 486.4,405.5 486.4,403.5 488.5,400.3 492.0,397.7 496.7,393.0 512.3,373.0 519.8,365.5 523.0,363.4 525.0,362.4 529.0,361.3 534.0,361.3 538.0,362.4 542.5,364.4 551.2,370.0 557.2,374.5 558.8,376.0 563.7,379.5 565.3,381.0 577.0,389.6 584.5,394.6 589.0,396.4 594.5,399.9 597.5,402.8 598.6,405.0 598.6,408.0 597.0,409.7 595.0,410.6 591.0,411.4 588.7,414.5 585.0,418.2 581.0,421.1 580.0,421.4 577.0,423.1 574.5,424.1 568.0,426.1 566.5,426.4 564.5,427.1 562.5,427.3 558.5,428.2 554.5,428.3ZM453.0,385.1 451.0,384.1 449.5,382.8 448.0,382.1 446.5,380.8 444.0,379.4 443.5,379.4 442.7,380.5 442.0,380.7 438.5,380.7 436.5,379.9 435.5,379.9 428.0,384.6 427.0,384.5 428.8,382.5 434.0,378.9 438.0,377.4 441.5,377.3 445.0,378.4 449.0,380.9 452.7,384.0 453.2,384.5Z" fill="#b6e0d2" fill-rule="evenodd"/>
<path d="M376.0,322.1 370.5,322.2 368.5,321.6 364.5,319.9 363.5,319.6 360.0,317.9 359.0,317.6 353.5,314.9 349.0,313.1 337.5,307.1 334.5,304.9 332.0,303.6 331.5,302.9 329.0,301.2 326.0,298.2 323.0,293.9 321.0,293.5 317.3,292.0 315.4,290.0 314.8,288.5 314.8,286.5 315.4,284.5 318.0,281.8 328.7,274.0 331.5,271.3 333.0,270.2 340.0,263.3 341.5,262.2 345.8,258.0 354.5,251.4 359.5,248.9 362.5,247.9 365.0,247.3 371.0,247.3 376.5,248.9 381.5,251.4 384.0,252.9 388.2,256.0 392.3,259.5 393.2,260.0 402.3,268.0 403.2,268.5 407.3,272.0 412.5,275.6 417.5,278.6 440.0,289.9 448.0,294.6 452.5,296.9 454.5,298.3 456.1,300.0 456.2,301.0 456.0,301.6 454.0,301.7 450.0,300.6 446.0,299.0 443.0,302.1 441.5,303.1 440.5,303.4 438.0,304.6 433.0,305.9 431.0,306.6 428.5,306.8 425.5,307.6 423.5,307.8 413.0,310.1 411.0,310.4 402.5,313.1 401.0,313.4 399.5,314.1 398.0,314.4 396.5,315.2 392.5,316.4 388.5,318.1ZM510.5,332.6 503.0,332.7 501.5,332.3 500.0,332.2 499.0,331.9 497.0,331.6 492.0,330.1 490.0,329.1 486.5,326.6 484.5,323.9 483.0,324.2 478.5,324.2 476.5,323.6 475.4,322.0 475.4,320.0 476.0,318.8 477.5,317.4 480.5,315.9 485.5,314.8 487.5,314.7 489.0,314.3 493.0,314.2 494.0,313.9 496.5,313.7 498.0,313.3 503.0,313.2 504.5,312.8 505.5,312.8 507.0,313.2 511.5,313.3 513.0,313.7 515.0,313.8 516.0,314.1 518.0,314.4 524.5,316.1 526.5,316.4 548.0,322.1 550.0,322.4 553.5,323.2 555.0,323.3 556.5,323.7 558.0,323.8 559.5,324.2 562.0,324.3 563.5,324.7 566.0,324.8 567.5,325.2 569.5,325.3 571.0,325.7 572.5,325.8 573.5,326.1 575.5,326.4 581.0,327.9 582.2,328.5 582.5,329.0 582.2,329.5 581.5,329.7 575.5,329.7 573.5,329.3 568.5,329.2 567.0,328.8 562.5,328.7 561.0,328.3 557.5,328.2 556.0,327.8 552.5,327.7 551.5,327.4 549.0,327.2 547.5,326.8 545.0,326.7 543.5,326.3 542.0,326.2 540.5,325.8 538.5,325.7 535.0,324.9 533.5,324.8 533.0,324.9 532.2,326.0 530.5,327.6 529.5,327.9 528.5,328.6 525.0,330.1 523.0,330.4 518.5,331.7 516.5,331.8 515.0,332.2 511.5,332.3ZM370.5,341.1 363.0,341.1 360.5,339.6 359.6,338.0 359.0,337.8 352.0,339.2 348.0,339.2 346.4,338.5 346.3,337.0 347.8,334.5 352.0,330.9 356.5,328.4 360.5,326.9 363.0,326.3 364.5,326.2 366.0,325.8 371.0,325.8 373.0,326.2 375.0,326.4 379.5,327.8 383.0,330.3 383.7,332.0 383.6,333.0 383.0,333.7 381.5,334.6 377.5,335.4 376.6,337.5 375.0,339.1 373.5,340.1ZM548.5,426.5 546.5,426.3 545.0,426.5 544.0,426.3 539.0,426.2 537.5,425.8 535.0,425.7 533.5,425.3 532.0,425.2 523.0,423.1 517.0,421.1 513.0,419.4 509.5,418.1 501.0,413.1 496.8,409.0 496.0,407.8 495.0,406.9 489.0,406.6 487.4,405.0 487.0,403.5 488.0,401.3 490.5,398.8 492.0,397.7 496.7,393.0 512.3,373.0 519.8,365.5 523.0,363.4 525.0,362.4 529.0,361.3 534.0,361.3 538.0,362.4 542.5,364.4 551.2,370.0 557.2,374.5 558.8,376.0 563.7,379.5 565.3,381.0 577.0,389.6 584.5,394.6 585.5,394.9 590.5,397.4 593.5,399.4 596.5,402.3 597.6,404.5 597.6,406.5 597.0,407.7 595.7,409.0 593.5,409.7 589.5,409.9 587.5,412.7 584.5,415.7 582.0,417.4 581.5,418.1 577.0,420.6 576.0,420.9 571.0,423.1 563.0,425.1 561.0,425.3 559.5,425.7 555.5,426.2 549.5,426.3ZM452.0,384.1 450.0,383.1 446.0,380.3 443.0,378.8 440.5,378.2 439.0,378.3 435.5,379.3 433.0,381.1 431.5,381.8 430.0,383.1 427.7,384.0 427.8,383.5 428.8,382.5 434.0,378.9 438.0,377.4 441.0,377.3 442.0,377.4 446.0,378.9 449.2,381.0 451.5,383.3 452.1,383.5 452.3,384.0Z" fill="#b4ded0" fill-rule="evenodd"/>
<path d="M375.5,318.1 373.0,318.2 371.5,317.8 369.0,317.7 361.0,315.6 358.5,314.4 357.0,314.1 352.0,312.1 351.0,311.4 347.5,310.1 341.5,307.1 340.5,306.4 339.5,306.1 334.0,302.6 329.5,299.2 326.4,296.0 324.2,293.0 322.5,292.4 320.5,292.1 317.5,290.6 316.4,289.5 315.8,288.0 315.9,285.0 316.9,283.0 317.8,282.0 329.0,273.7 331.5,271.3 333.0,270.2 340.0,263.3 341.5,262.2 345.8,258.0 354.5,251.4 359.5,248.9 364.5,247.4 371.5,247.4 376.5,248.9 381.5,251.4 384.0,252.9 388.2,256.0 392.3,259.5 393.2,260.0 402.3,268.0 403.2,268.5 407.3,272.0 412.5,275.6 417.5,278.6 440.0,289.9 448.0,294.6 451.5,296.4 453.5,297.8 455.1,299.5 455.0,300.6 452.5,300.7 446.5,298.6 445.5,297.9 444.0,297.6 442.5,299.2 440.0,301.1 437.0,302.6 434.0,303.6 430.0,304.4 427.0,305.2 425.5,305.3 419.5,306.6 417.5,306.9 415.5,307.6 410.5,308.4 405.5,310.1 403.5,310.4 400.0,311.6 398.5,311.9 395.5,313.1 392.5,313.9 391.0,314.6 386.0,315.9 384.0,316.6 382.0,316.9 378.5,317.7 376.5,317.8ZM510.0,330.1 504.0,330.2 502.5,329.8 500.0,329.7 497.5,329.1 494.5,328.1 490.0,325.6 488.4,324.0 487.5,322.4 484.5,322.9 483.5,323.2 479.0,323.1 476.9,322.0 476.5,321.0 476.9,319.5 477.4,318.5 478.3,317.5 481.5,315.9 486.5,314.8 488.0,314.7 489.5,314.3 493.0,314.2 494.0,313.9 496.5,313.7 498.0,313.3 503.0,313.2 504.5,312.8 505.5,312.8 507.0,313.2 511.5,313.3 513.0,313.7 515.0,313.8 516.0,314.1 518.0,314.4 524.5,316.1 526.5,316.4 530.5,317.4 532.5,318.1 536.0,318.9 538.0,319.6 539.5,319.9 541.5,320.6 549.5,322.6 551.5,322.9 552.5,323.2 554.0,323.3 555.5,323.7 557.0,323.8 558.5,324.2 560.5,324.3 562.0,324.7 564.5,324.8 566.0,325.2 568.0,325.3 569.5,325.7 571.0,325.8 574.0,326.6 576.0,326.9 577.9,328.0 577.7,328.5 577.0,328.7 573.0,328.7 571.0,328.3 565.5,328.2 564.0,327.8 560.0,327.7 558.5,327.3 555.0,327.2 553.5,326.8 550.5,326.7 549.5,326.4 547.0,326.2 545.5,325.8 543.0,325.7 541.5,325.3 540.0,325.2 538.5,324.8 536.5,324.7 535.0,324.3 533.0,324.1 530.5,323.4 529.0,323.3 528.5,323.4 527.7,324.5 526.0,326.1 525.0,326.4 522.5,327.6 519.5,328.6 515.0,329.6 511.0,329.8ZM354.0,337.6 351.0,337.7 349.5,337.1 349.0,336.5 349.4,335.0 352.0,332.3 354.0,330.9 358.0,328.9 363.0,327.4 367.0,326.8 370.5,326.8 371.5,327.1 373.5,327.4 375.5,327.9 377.5,328.9 379.5,330.3 380.0,331.5 379.5,332.6 377.5,333.6 375.5,333.9 374.5,334.2 372.5,334.3 371.0,334.7 369.0,334.8 367.5,335.2 366.0,335.3 362.5,336.1 360.5,336.3 356.5,337.2 354.5,337.4ZM554.0,424.0 552.5,424.2 541.5,424.2 540.0,423.8 536.5,423.7 535.0,423.3 533.0,423.2 529.5,422.4 527.5,422.1 525.5,421.4 523.5,421.1 517.5,419.1 513.5,417.4 512.0,417.1 509.0,415.3 507.0,414.6 505.5,413.4 504.5,413.1 500.8,410.5 497.3,407.0 496.0,405.4 495.0,405.4 494.0,405.7 489.5,405.6 487.9,404.0 487.9,402.0 489.0,400.3 490.8,398.5 492.0,397.7 496.7,393.0 512.0,373.3 519.8,365.5 523.0,363.4 525.0,362.4 528.5,361.4 534.0,361.3 536.5,361.9 540.5,363.4 545.0,365.9 551.2,370.0 557.2,374.5 558.8,376.0 563.7,379.5 565.3,381.0 577.0,389.6 584.5,394.6 588.5,396.4 592.5,398.9 595.5,401.8 596.6,404.0 596.6,406.0 595.0,407.6 594.0,408.1 592.0,408.4 591.0,408.7 588.0,408.4 585.7,411.5 582.2,415.0 579.0,417.1 577.0,417.9 575.0,419.1 574.0,419.4 572.5,420.1 571.0,420.4 568.0,421.6 562.0,423.1 559.0,423.3 557.5,423.7 555.0,423.8ZM428.5,383.5 428.4,383.0 428.9,382.5 429.5,382.3 430.8,381.0 434.0,378.9 438.5,377.3 441.5,377.3 445.0,378.4 449.2,381.0 450.7,382.5 450.8,383.0 450.5,383.1 448.0,381.6 445.5,379.8 443.5,378.8 441.5,378.2 438.5,378.2 436.5,378.8 433.5,380.3 431.0,382.1 429.5,382.7Z" fill="#b1ddce" fill-rule="evenodd"/>
<path d="M375.0,315.1 374.0,315.2 372.5,314.8 368.5,314.7 361.5,313.1 357.0,311.6 355.5,310.9 354.0,310.6 349.0,308.4 348.0,308.1 343.5,305.9 342.5,305.6 336.5,302.1 330.8,298.0 328.5,295.7 326.4,293.0 325.5,291.4 322.0,291.1 320.0,290.6 318.8,290.0 316.9,288.0 316.3,286.0 316.9,284.0 318.3,281.5 328.7,274.0 331.5,271.3 333.0,270.2 340.0,263.3 341.5,262.2 345.5,258.3 346.7,257.5 348.8,255.5 354.5,251.4 359.5,248.9 364.5,247.4 371.5,247.4 376.5,248.9 381.5,251.4 384.0,252.9 388.2,256.0 392.3,259.5 393.2,260.0 402.3,268.0 403.2,268.5 407.3,272.0 412.5,275.6 417.5,278.6 440.0,289.9 448.0,294.6 451.5,296.4 454.1,299.0 454.1,299.5 453.5,299.7 451.0,299.6 448.0,298.6 442.0,296.0 439.0,299.1 438.0,299.4 434.5,301.1 431.0,301.9 429.5,302.6 427.0,302.9 425.0,303.6 420.0,304.3 419.0,304.6 417.0,304.9 415.0,305.6 413.0,305.8 410.5,306.4 403.0,308.6 401.0,308.9 396.0,310.6 394.5,310.9 391.0,312.1 389.5,312.4 385.5,313.6 383.5,313.9 382.5,314.2 381.0,314.3 379.5,314.7 376.0,314.8ZM571.5,327.1 563.0,327.2 561.5,326.8 557.5,326.7 556.0,326.3 552.5,326.2 551.0,325.8 548.5,325.7 547.0,325.3 544.0,325.2 539.5,324.3 534.0,323.7 531.0,322.9 529.0,322.7 525.0,321.8 523.8,322.0 522.5,323.6 521.0,324.6 515.5,326.6 513.5,326.9 512.5,327.2 501.5,327.2 497.0,326.1 494.0,324.6 492.0,323.2 491.1,321.5 490.5,321.0 485.0,322.2 480.0,322.2 479.5,322.1 478.5,321.2 477.8,320.0 478.4,318.5 479.0,317.8 482.5,315.9 490.0,314.3 493.0,314.2 494.0,313.9 496.5,313.7 498.0,313.3 503.0,313.2 504.5,312.8 505.5,312.8 507.0,313.2 511.5,313.3 513.0,313.7 515.0,313.8 516.0,314.1 518.0,314.4 524.5,316.1 528.5,316.9 530.5,317.6 532.0,317.9 534.0,318.6 535.5,318.9 537.5,319.6 539.0,319.9 541.0,320.6 542.5,320.9 544.5,321.6 548.5,322.6 550.5,322.9 553.0,323.6 555.0,323.8 556.5,324.2 558.5,324.3 560.0,324.7 562.0,324.8 563.5,325.2 565.5,325.3 567.0,325.7 568.5,325.8 571.0,326.4 571.9,327.0ZM358.0,335.6 353.5,335.6 352.9,335.0 352.9,334.0 354.8,332.0 357.5,330.4 361.5,328.9 364.0,328.3 370.5,328.3 374.0,329.4 375.1,330.5 375.0,331.6 373.0,332.6 369.0,333.6 367.0,333.9 366.0,334.2 364.5,334.3 360.5,335.2 358.5,335.4ZM550.0,422.1 545.0,422.2 543.5,421.8 542.5,422.0 541.5,421.8 537.5,421.7 536.0,421.3 531.5,420.7 526.0,419.4 524.0,419.1 519.0,417.4 517.5,417.1 516.0,416.6 515.0,415.9 513.5,415.6 512.5,414.9 511.5,414.6 508.5,413.1 507.5,412.4 506.5,412.1 505.5,411.4 504.5,411.1 502.0,409.2 498.3,405.5 497.0,403.9 496.0,403.9 493.5,404.7 490.0,404.6 488.4,403.0 488.4,402.0 489.8,399.5 492.0,397.7 496.5,393.2 499.5,389.7 503.0,384.8 504.5,383.2 509.5,376.3 511.5,374.2 512.3,373.0 519.8,365.5 523.0,363.4 525.0,362.4 528.5,361.4 534.0,361.3 536.5,361.9 540.5,363.4 545.0,365.9 551.2,370.0 557.2,374.5 558.8,376.0 563.7,379.5 565.3,381.0 577.0,389.6 584.5,394.6 588.5,396.4 591.5,398.4 595.0,401.8 595.6,403.5 595.6,405.0 594.0,406.6 592.0,407.2 588.0,407.2 586.5,406.9 585.4,408.0 584.5,409.7 581.5,412.7 574.5,417.1 573.0,417.4 569.0,419.1 561.0,421.1 558.0,421.3 556.5,421.7 551.0,421.8ZM450.0,382.6 445.0,379.6 444.0,378.7 443.0,378.6 442.5,378.2 437.5,378.2 434.0,379.8 431.5,381.6 430.2,382.0 430.8,381.0 435.0,378.4 436.0,378.3 436.5,377.9 437.5,377.8 438.5,377.3 441.5,377.3 446.0,378.9 449.2,381.0 450.2,382.0 450.3,382.5Z" fill="#aedccb" fill-rule="evenodd"/>
<path d="M380.0,312.1 369.0,312.2 367.5,311.8 366.0,311.7 365.0,311.4 363.0,311.1 359.0,309.9 357.5,309.6 356.0,308.9 352.0,307.6 347.0,305.4 346.0,305.1 336.3,300.0 334.7,298.5 331.5,296.2 328.4,293.0 327.6,291.5 326.5,290.4 323.5,290.2 322.5,289.9 320.5,289.6 318.8,288.5 317.9,287.5 317.4,286.5 317.4,284.0 318.4,282.0 320.0,280.3 328.7,274.0 331.5,271.3 333.0,270.2 340.0,263.3 341.5,262.2 345.5,258.3 353.0,252.4 359.5,248.9 362.5,247.9 365.0,247.3 371.0,247.3 376.5,248.9 384.0,252.9 393.2,260.0 399.3,265.5 400.2,266.0 407.3,272.0 412.5,275.6 417.5,278.6 440.0,289.9 441.0,290.6 450.5,295.9 452.5,297.4 452.8,298.0 452.9,298.5 452.0,298.7 450.5,298.7 448.0,298.1 444.5,296.4 443.5,296.1 440.0,294.5 439.3,295.0 438.5,296.1 437.0,297.1 433.0,299.1 430.0,300.1 424.0,301.4 421.5,302.1 416.5,302.9 414.5,303.6 412.0,303.9 404.5,306.1 403.0,306.4 401.0,307.1 399.0,307.4 397.0,308.1 395.5,308.4 392.0,309.6 382.5,311.7 380.5,311.9ZM556.0,325.0 552.0,325.2 550.5,324.8 547.0,324.7 545.5,324.3 542.0,324.2 540.5,323.8 538.0,323.7 536.5,323.3 535.0,323.2 531.0,322.3 529.5,322.2 528.5,321.9 526.5,321.6 519.5,319.9 519.0,319.9 518.1,321.5 516.5,322.6 512.0,324.1 502.5,324.2 500.0,323.6 497.5,322.6 495.8,321.5 494.5,319.9 492.5,319.8 486.5,321.2 481.0,321.2 480.5,321.1 479.5,320.2 479.3,319.0 480.0,317.8 482.0,316.4 487.0,314.9 489.0,314.7 490.5,314.3 493.0,314.2 494.5,313.8 496.5,313.7 498.0,313.3 503.0,313.2 504.5,312.8 505.5,312.8 507.0,313.2 511.5,313.3 513.0,313.7 515.0,313.8 524.5,316.1 526.5,316.4 530.5,317.6 532.0,317.9 535.5,319.1 537.0,319.4 547.0,322.6 553.0,324.2 555.0,324.4ZM362.0,333.1 359.0,333.1 358.8,332.5 358.9,332.0 361.0,330.9 363.0,330.3 367.0,330.3 367.6,330.5 367.6,331.0 367.2,331.5 366.0,332.1ZM555.5,419.6 549.0,419.8 548.0,420.0 547.0,419.8 539.5,419.7 538.0,419.3 535.0,419.2 533.5,418.8 532.0,418.7 528.5,417.9 526.5,417.6 521.0,415.9 519.5,415.6 516.5,414.6 514.0,413.4 511.0,412.6 506.5,409.9 505.5,409.6 503.7,408.0 500.8,406.0 500.0,404.8 499.0,404.1 498.0,402.9 496.5,402.9 493.5,403.7 490.5,403.6 489.4,402.5 489.4,400.5 496.7,393.0 497.5,391.8 499.5,389.7 503.0,384.8 504.5,383.2 509.5,376.3 511.5,374.2 512.3,373.0 519.8,365.5 523.0,363.4 525.0,362.4 528.5,361.4 534.0,361.3 536.5,361.9 540.5,363.4 545.0,365.9 551.2,370.0 557.2,374.5 558.8,376.0 563.7,379.5 565.3,381.0 577.0,389.6 584.5,394.6 590.0,397.4 594.0,401.3 594.6,403.0 594.6,404.0 594.2,404.5 593.2,405.5 592.0,406.1 588.0,406.2 586.5,405.8 584.5,405.9 582.5,408.7 580.7,410.5 575.5,414.1 573.5,415.1 564.5,418.1 560.0,418.9 559.0,419.2 556.5,419.3ZM449.0,381.6 447.0,380.2 444.0,378.7 443.0,378.6 442.5,378.2 441.0,378.1 440.0,377.5 438.5,378.2 437.0,378.1 435.5,379.1 433.0,380.2 432.0,381.1 430.7,381.5 430.9,381.0 435.0,378.4 437.5,377.9 438.5,377.3 440.0,377.5 441.5,377.3 446.0,378.9 447.0,379.8 449.1,381.0 449.3,381.5Z" fill="#abdbc9" fill-rule="evenodd"/>
<path d="M374.5,310.0 373.0,310.1 372.5,309.9 368.0,309.7 366.5,309.3 365.0,309.2 364.0,308.9 362.0,308.6 360.0,308.1 358.5,307.4 355.0,306.6 353.5,305.9 347.0,303.6 346.0,302.9 344.0,302.1 343.0,301.5 342.5,301.5 341.0,300.6 339.5,299.4 338.5,299.1 333.3,295.5 332.0,293.8 330.3,292.5 327.5,288.9 325.5,288.8 324.0,289.1 323.5,288.9 321.5,288.6 320.5,288.1 318.9,287.0 318.4,286.0 318.0,284.5 318.4,283.0 320.0,280.3 329.0,273.7 331.5,271.3 333.0,270.2 340.0,263.3 341.5,262.2 345.5,258.3 346.7,257.5 348.8,255.5 354.5,251.4 359.5,248.9 365.0,247.3 371.5,247.4 376.5,248.9 381.5,251.4 384.0,252.9 388.2,256.0 392.3,259.5 393.2,260.0 402.3,268.0 403.2,268.5 407.3,272.0 412.5,275.6 417.5,278.6 440.0,289.9 441.0,290.6 450.5,295.9 451.5,296.8 451.7,297.5 451.6,298.0 451.0,298.2 448.5,297.6 444.5,296.1 442.0,294.9 441.0,294.6 438.0,292.9 437.5,292.9 435.0,295.6 432.0,297.1 430.5,297.4 429.0,298.1 425.0,299.1 423.0,299.4 420.5,300.1 416.0,300.9 414.0,301.6 409.5,302.4 407.5,303.1 404.0,303.9 402.0,304.6 398.5,305.4 393.0,307.1 391.0,307.4 389.5,308.0 385.0,309.1 382.5,309.3 381.0,309.7 375.5,309.8ZM545.0,323.1 540.0,323.2 538.5,322.8 536.0,322.7 534.5,322.3 529.5,321.6 529.0,321.4 527.0,321.1 526.5,320.9 524.5,320.6 524.0,320.4 522.0,320.1 513.5,318.3 512.5,318.4 512.0,319.1 510.0,320.1 507.5,320.7 505.5,320.7 503.0,320.1 501.0,319.1 500.5,318.4 500.0,318.3 497.5,318.3 494.0,319.1 492.0,319.4 489.5,320.1 486.5,320.3 485.0,320.7 483.5,320.7 481.5,320.1 480.5,319.0 480.9,318.0 482.0,316.9 484.0,315.9 487.5,314.9 489.5,314.6 490.5,314.3 493.0,314.2 494.5,313.8 496.5,313.7 498.0,313.3 503.0,313.2 504.5,312.8 505.5,312.8 507.0,313.2 511.5,313.3 513.0,313.7 515.0,313.8 530.0,317.4 542.5,321.4 544.7,322.5ZM554.5,417.6 540.5,417.7 539.0,417.3 535.0,417.2 522.5,414.6 521.0,413.9 519.5,413.6 518.0,412.9 515.0,412.1 514.0,411.4 512.5,411.1 508.5,409.1 507.5,408.4 506.5,408.1 502.5,405.2 499.0,401.4 497.5,401.4 496.0,402.1 494.0,402.7 491.5,402.7 489.9,402.0 489.9,400.5 490.8,399.0 496.7,393.0 497.5,391.8 499.5,389.7 503.0,384.8 504.5,383.2 509.5,376.3 511.5,374.2 512.3,373.0 519.8,365.5 523.0,363.4 525.0,362.4 528.5,361.4 534.0,361.3 536.5,361.9 542.5,364.4 551.0,369.9 557.2,374.5 558.8,376.0 563.7,379.5 565.3,381.0 577.0,389.6 584.5,394.6 589.2,397.0 592.0,399.3 593.6,402.0 593.6,403.0 593.1,404.0 591.0,405.1 588.0,405.2 584.5,404.3 583.0,404.4 581.2,407.0 576.7,411.0 575.5,411.4 572.5,413.1 571.5,413.4 570.5,414.1 569.0,414.4 567.5,415.1 561.5,416.6 559.5,416.8 558.0,417.2 555.5,417.3ZM434.0,379.6 433.7,379.5 433.9,379.0 435.0,378.4 436.0,378.4 436.5,377.9 437.5,377.9 438.0,377.4 439.4,377.5 438.5,377.6 438.0,378.1 437.0,378.1 436.5,378.6 435.5,378.6ZM446.0,379.6 444.5,378.6 443.5,378.6 443.0,378.1 442.0,378.1 441.5,377.6 440.6,377.5 442.0,377.4 442.5,377.9 443.5,377.9 444.0,378.4 445.0,378.4 446.1,379.0 446.3,379.5Z" fill="#a8d9c7" fill-rule="evenodd"/>
<path d="M379.5,307.5 378.0,307.7 369.0,307.7 367.5,307.3 365.5,307.2 357.0,305.1 351.0,303.1 348.5,301.9 346.0,301.1 342.0,299.1 341.0,298.4 340.0,298.1 336.5,295.4 335.0,294.6 334.2,293.5 333.3,293.0 331.3,291.0 329.0,287.9 326.5,287.8 325.5,288.0 322.5,287.7 321.0,287.1 318.9,285.0 318.9,283.0 320.0,280.8 322.0,278.8 328.7,274.0 331.5,271.3 333.0,270.2 340.0,263.3 341.5,262.2 345.5,258.3 353.0,252.4 359.5,248.9 362.5,247.9 365.0,247.3 371.0,247.3 376.5,248.9 384.0,252.9 393.2,260.0 399.3,265.5 400.2,266.0 407.3,272.0 412.5,275.6 417.5,278.6 440.0,289.9 441.0,290.6 449.5,295.4 450.6,296.5 450.6,297.0 450.0,297.2 448.5,297.1 442.0,294.6 435.5,291.4 435.0,291.4 433.5,293.2 431.5,294.6 429.0,295.4 426.0,296.6 422.0,297.6 420.0,297.9 417.5,298.6 415.5,298.9 413.5,299.6 409.0,300.4 407.0,301.1 405.5,301.4 404.0,302.1 394.5,304.4 392.5,305.1 388.5,306.1ZM540.5,322.2 537.5,322.2 536.0,321.8 533.0,321.7 532.0,321.4 530.0,321.1 529.0,320.8 527.5,320.7 518.5,318.8 517.0,318.7 513.0,317.8 510.0,317.7 508.5,317.3 502.0,317.3 500.5,317.7 498.0,317.8 496.5,318.2 494.5,318.3 491.5,319.1 489.5,319.3 488.0,319.7 483.0,319.6 481.9,318.5 481.9,318.0 483.5,316.4 488.0,314.9 490.0,314.6 491.0,314.3 493.0,314.2 494.5,313.8 496.5,313.7 498.0,313.3 503.0,313.2 504.5,312.8 505.5,312.8 507.0,313.2 511.5,313.3 513.0,313.7 515.0,313.8 530.0,317.4 538.5,320.4 540.7,321.5 540.8,322.0ZM553.0,415.6 541.0,415.7 539.5,415.3 536.0,415.2 534.5,414.8 532.0,414.7 526.5,413.4 524.5,413.1 516.0,410.4 514.5,410.1 513.5,409.4 512.5,409.1 508.5,407.1 504.5,404.6 500.8,401.0 500.0,399.9 498.0,400.4 495.0,401.6 492.5,402.0 490.8,401.5 490.4,401.0 490.4,400.0 491.3,398.5 496.7,393.0 497.5,391.8 499.5,389.7 503.0,384.8 504.5,383.2 509.5,376.3 511.5,374.2 512.0,373.3 519.5,365.8 523.0,363.4 526.5,361.9 529.0,361.3 534.5,361.4 538.0,362.4 542.5,364.4 551.0,369.9 573.3,387.0 584.5,394.6 589.5,397.4 592.1,400.0 592.7,402.0 592.5,402.7 591.5,403.6 589.5,404.2 588.0,404.2 587.0,403.9 585.0,403.6 583.0,402.9 581.5,402.9 580.0,405.2 577.5,407.7 574.0,410.1 572.0,411.1 563.5,414.1 561.5,414.3 557.5,415.2 554.0,415.3ZM442.5,378.1 440.6,377.5 442.0,377.4 443.0,378.0ZM435.0,379.1 434.3,379.0 435.0,378.4 435.7,378.5ZM446.0,379.6 444.3,378.5 445.0,378.4 446.0,378.9 446.3,379.5Z" fill="#a6d8c5" fill-rule="evenodd"/>
<path d="M377.5,305.6 372.5,305.7 371.5,305.4 366.5,305.2 362.5,304.3 360.5,304.1 357.0,302.9 355.0,302.6 353.5,301.9 352.0,301.6 350.5,300.9 349.0,300.6 348.5,299.9 346.0,299.1 343.0,297.6 342.0,296.9 341.0,296.6 339.5,295.4 336.0,293.1 331.8,289.0 330.0,286.8 329.5,286.5 328.5,286.7 323.0,286.7 321.5,286.1 319.9,284.5 319.9,281.5 322.0,278.8 328.7,274.0 331.5,271.3 333.0,270.2 340.0,263.3 341.5,262.2 345.5,258.3 353.0,252.4 359.5,248.9 362.5,247.9 365.0,247.3 371.0,247.3 376.5,248.9 384.0,252.9 393.2,260.0 399.3,265.5 400.2,266.0 407.3,272.0 412.5,275.6 417.5,278.6 440.0,289.9 441.0,290.6 447.0,293.9 449.0,295.3 449.4,296.0 447.5,296.2 445.5,295.6 439.5,292.9 438.5,292.6 433.0,289.9 432.5,289.9 431.2,291.5 429.5,292.6 427.5,293.6 423.0,295.1 419.0,295.9 415.0,297.1 413.0,297.4 405.0,299.4 396.0,302.1 388.0,304.1 386.0,304.4 385.0,304.7 383.0,304.8 381.5,305.2 378.5,305.3ZM537.0,321.1 534.5,321.2 533.0,320.8 530.5,320.7 526.5,319.8 525.0,319.7 521.0,318.8 519.0,318.6 515.5,317.8 514.0,317.7 512.5,317.3 509.0,317.2 507.5,316.8 503.0,316.8 501.5,317.2 498.0,317.3 497.0,317.6 492.0,318.3 490.5,318.7 488.5,318.8 487.0,319.2 485.5,319.1 484.0,318.6 483.4,318.0 483.4,317.5 484.5,316.4 486.5,315.4 490.5,314.4 493.0,314.2 494.5,313.8 496.5,313.7 498.0,313.3 503.0,313.2 504.5,312.8 505.5,312.8 507.0,313.2 511.5,313.3 513.0,313.7 515.0,313.8 528.0,316.9 534.0,318.9 537.0,320.4ZM554.0,413.5 552.0,413.7 539.5,413.7 538.0,413.3 535.5,413.2 534.0,412.8 532.0,412.7 528.5,411.9 526.5,411.6 522.5,410.4 520.5,410.1 518.5,409.4 517.0,409.1 516.0,408.4 511.0,406.6 510.0,405.9 507.5,404.6 503.8,402.0 502.5,400.7 501.7,399.5 500.5,398.5 497.0,400.1 493.0,401.2 491.5,400.6 491.0,399.5 491.8,398.0 496.7,393.0 497.5,391.8 499.5,389.7 503.0,384.8 504.5,383.2 509.5,376.3 511.5,374.2 512.0,373.3 519.5,365.8 523.0,363.4 526.5,361.9 529.0,361.3 534.5,361.4 538.0,362.4 542.5,364.4 551.0,369.9 573.5,387.1 584.5,394.6 588.7,397.0 591.0,399.3 591.6,400.5 591.6,401.5 591.2,402.0 590.5,402.6 589.0,403.2 588.0,403.2 586.5,402.8 584.0,402.6 582.5,401.9 580.5,401.4 576.2,406.0 573.0,408.1 570.0,409.6 562.5,412.1 560.5,412.4 557.0,413.2Z" fill="#a3d7c3" fill-rule="evenodd"/>
<path d="M381.5,303.1 374.0,303.3 373.0,303.5 367.0,303.2 365.5,302.8 364.0,302.7 363.0,302.4 361.0,302.1 357.0,301.1 353.5,299.9 352.0,299.6 351.0,298.9 349.5,298.6 348.5,297.9 346.0,297.1 344.0,296.1 341.5,294.6 340.0,293.4 337.5,292.1 332.3,287.0 331.0,285.4 330.0,285.3 328.5,285.7 323.5,285.7 322.0,285.1 320.4,283.5 320.4,281.5 321.3,280.0 324.0,277.3 329.0,273.7 331.5,271.3 333.0,270.2 340.0,263.3 341.5,262.2 345.5,258.3 353.0,252.4 359.5,248.9 362.5,247.9 365.0,247.3 371.0,247.3 376.5,248.9 384.0,252.9 393.2,260.0 399.3,265.5 400.2,266.0 407.3,272.0 412.5,275.6 417.5,278.6 440.0,289.9 441.0,290.6 447.0,293.9 448.2,295.0 448.4,295.5 447.0,295.6 444.0,294.6 436.0,290.9 432.5,289.6 430.0,288.4 429.5,288.4 427.5,290.6 424.5,292.1 423.0,292.4 420.0,293.6 408.5,296.4 396.0,300.1 392.0,301.1 390.0,301.4 388.0,302.1 386.0,302.3 384.5,302.7 382.5,302.8ZM534.0,320.1 531.0,320.2 529.5,319.8 524.5,319.1 521.0,318.3 516.5,317.7 515.0,317.3 513.0,317.2 511.5,316.8 506.5,316.7 505.5,316.5 504.5,316.7 498.5,316.8 497.0,317.2 495.0,317.3 494.0,317.6 492.0,317.8 490.0,318.2 485.5,318.1 484.9,317.5 484.9,317.0 486.0,315.9 488.5,314.9 490.5,314.6 491.5,314.3 493.0,314.2 494.5,313.8 496.5,313.7 498.0,313.3 503.0,313.2 504.5,312.8 505.5,312.8 507.0,313.2 511.5,313.3 513.0,313.7 515.0,313.8 528.0,316.9 533.0,318.8 534.1,319.5ZM554.0,411.6 540.5,411.7 539.0,411.3 535.0,411.2 533.5,410.8 532.0,410.7 530.5,410.3 529.0,410.2 528.0,409.9 526.0,409.6 524.0,408.9 521.5,408.6 520.0,407.9 516.0,406.6 514.5,405.9 513.0,405.6 510.0,404.1 505.3,401.0 501.5,397.1 500.5,397.4 499.5,398.1 496.5,399.6 494.0,400.2 492.5,400.1 492.0,399.7 491.8,399.0 491.9,398.0 496.7,393.0 497.5,391.8 499.5,389.7 503.0,384.8 504.5,383.2 509.5,376.3 511.5,374.2 512.3,373.0 519.5,365.8 523.0,363.4 526.5,361.9 529.0,361.3 534.5,361.4 538.0,362.4 542.5,364.4 551.0,369.9 573.5,387.1 584.5,394.6 587.2,396.0 589.7,398.0 590.6,399.5 590.7,400.5 590.5,401.2 588.5,402.2 586.0,402.1 581.0,400.6 579.5,399.9 578.5,399.9 577.0,402.2 574.7,404.5 573.0,405.4 572.5,406.1 569.5,407.4 568.5,408.1 565.5,408.9 562.0,410.1 560.0,410.4 556.5,411.2 555.0,411.3Z" fill="#a0d6c1" fill-rule="evenodd"/>
<path d="M381.5,301.1 376.0,301.3 375.0,301.5 374.0,301.3 373.0,301.5 372.0,301.3 368.0,301.2 367.0,300.9 366.0,301.0 360.5,300.0 357.0,299.1 353.5,297.9 352.0,297.6 348.0,295.9 347.0,295.6 344.0,293.9 342.0,293.1 340.5,291.9 339.0,291.1 338.5,290.4 335.3,288.0 332.0,283.9 331.0,283.9 329.0,284.7 324.0,284.7 322.5,284.1 321.4,283.0 321.4,280.5 322.0,279.3 324.0,277.3 329.0,273.7 331.5,271.3 333.0,270.2 340.0,263.3 341.5,262.2 345.5,258.3 353.0,252.4 359.5,248.9 362.5,247.9 365.0,247.3 371.0,247.3 376.5,248.9 384.0,252.9 393.2,260.0 399.3,265.5 400.2,266.0 407.3,272.0 412.5,275.6 417.5,278.6 440.0,289.9 441.0,290.6 446.0,293.4 447.3,294.5 447.0,294.9 442.5,293.6 440.0,292.4 439.0,292.1 438.0,291.4 437.0,291.1 434.5,289.9 427.0,286.9 426.5,286.9 424.5,289.1 417.0,292.1 415.0,292.4 408.0,294.6 406.5,294.9 403.0,296.1 397.5,297.4 394.5,298.6 392.5,298.9 390.0,299.6 385.5,300.3 384.0,300.7 382.5,300.8ZM531.0,319.2 528.0,319.2 526.5,318.8 525.0,318.7 523.5,318.3 522.0,318.2 520.5,317.8 516.0,317.2 514.5,316.8 512.5,316.7 511.0,316.3 499.5,316.3 498.0,316.7 495.0,316.8 493.5,317.2 491.0,317.3 489.0,317.7 487.5,317.6 486.5,317.1 486.4,316.5 487.0,315.9 489.0,314.9 491.0,314.4 493.0,314.2 494.5,313.8 496.5,313.7 498.0,313.3 503.0,313.2 504.5,312.8 505.5,312.8 507.0,313.2 511.5,313.3 513.0,313.7 515.0,313.8 526.0,316.4 529.0,317.4 531.0,318.4 531.3,319.0ZM552.0,409.6 539.5,409.7 538.0,409.3 534.5,409.2 533.0,408.8 528.5,408.2 525.5,407.4 523.5,407.1 522.0,406.4 521.0,406.5 519.5,406.1 518.0,405.4 516.5,405.1 515.5,404.4 514.0,404.1 513.0,403.4 507.5,400.6 507.0,399.9 504.5,398.2 502.5,395.9 501.5,395.9 499.0,397.6 495.5,399.1 492.5,399.1 492.3,398.0 492.8,397.0 496.7,393.0 497.5,391.8 499.5,389.7 503.0,384.8 504.5,383.2 509.5,376.3 511.5,374.2 512.0,373.3 519.5,365.8 523.0,363.4 526.5,361.9 529.0,361.3 534.0,361.3 538.0,362.4 542.5,364.4 551.0,369.9 573.5,387.1 584.5,394.6 587.7,396.5 589.0,397.8 589.6,399.0 589.6,400.0 588.5,401.1 586.0,401.2 585.0,400.9 583.0,400.6 577.5,398.5 576.8,399.0 575.7,400.5 573.7,402.5 571.5,404.1 567.5,406.1 566.5,406.4 565.0,407.1 563.5,407.4 560.0,408.5 557.5,408.8 556.0,409.2 553.0,409.3Z" fill="#9dd4bf" fill-rule="evenodd"/>
<path d="M381.5,299.1 373.5,299.3 372.5,299.5 371.5,299.3 366.5,299.2 357.0,297.1 352.0,295.4 350.5,295.1 349.5,294.4 347.0,293.6 345.0,292.6 338.0,288.1 337.0,286.8 335.3,285.5 333.0,282.6 331.5,282.9 329.5,283.6 327.0,283.8 325.5,284.1 324.0,283.6 322.5,282.7 321.9,282.0 321.9,280.5 322.9,278.5 324.0,277.3 329.0,273.7 331.5,271.3 333.0,270.2 340.0,263.3 341.5,262.2 345.5,258.3 353.0,252.4 359.5,248.9 362.5,247.9 365.0,247.3 371.0,247.3 376.5,248.9 384.0,252.9 393.2,260.0 399.3,265.5 400.2,266.0 407.3,272.0 412.5,275.6 417.5,278.6 440.0,289.9 441.0,290.6 446.0,293.4 446.3,294.0 445.5,294.2 443.5,293.6 434.0,289.4 424.0,285.4 423.5,285.4 422.0,287.1 419.5,288.6 417.0,289.4 415.5,290.1 414.0,290.4 412.5,291.1 409.5,292.1 408.0,292.4 403.0,294.1 401.0,294.4 397.5,295.6 394.0,296.4 392.0,297.1 390.0,297.4 385.0,298.7 382.5,298.8ZM528.5,318.1 524.5,318.2 523.0,317.8 521.5,317.7 520.0,317.3 515.5,316.7 514.0,316.3 511.0,316.2 509.5,315.8 500.5,315.8 499.0,316.2 495.5,316.3 493.5,316.7 488.5,316.7 487.9,316.5 487.9,316.0 489.5,314.9 494.5,313.8 496.5,313.7 498.0,313.3 503.0,313.2 504.5,312.8 505.5,312.8 507.0,313.2 511.5,313.3 513.0,313.7 515.0,313.8 516.0,314.1 518.0,314.4 527.0,316.9 528.2,317.5ZM552.5,407.6 537.5,407.7 536.0,407.3 533.5,407.2 532.0,406.8 530.5,406.7 519.0,404.1 517.5,403.6 515.5,402.4 513.0,401.6 510.0,399.9 509.0,399.6 506.8,398.0 503.0,394.5 498.0,397.6 495.0,398.6 493.5,398.6 492.9,398.0 492.8,397.5 493.3,396.5 496.7,393.0 497.5,391.8 499.5,389.7 503.0,384.8 504.5,383.2 509.5,376.3 511.5,374.2 512.0,373.3 519.5,365.8 523.0,363.4 526.5,361.9 529.0,361.3 534.0,361.3 538.0,362.4 542.5,364.4 551.0,369.9 573.5,387.1 584.5,394.6 586.2,395.5 588.6,398.0 588.6,399.5 588.0,400.1 584.5,400.2 579.5,398.6 576.0,397.0 571.7,401.5 567.0,404.1 566.0,404.4 564.5,405.1 563.0,405.4 559.5,406.5 556.0,407.2 553.5,407.3Z" fill="#9ad3bc" fill-rule="evenodd"/>
<path d="M374.5,297.5 372.0,297.6 371.0,297.3 366.5,297.2 365.0,296.8 360.0,296.1 358.0,295.4 355.5,295.0 353.0,294.1 349.0,292.4 348.0,292.1 345.0,290.6 343.5,289.5 342.5,289.2 340.5,287.4 339.5,287.1 339.0,286.4 338.0,285.7 334.0,281.4 330.0,282.6 326.0,283.1 324.0,282.6 322.9,282.0 322.4,281.0 322.9,279.0 325.5,276.3 328.7,274.0 331.5,271.3 333.0,270.2 340.0,263.3 341.5,262.2 345.5,258.3 346.7,257.5 348.8,255.5 354.5,251.4 359.5,248.9 364.5,247.4 371.0,247.3 376.5,248.9 384.0,252.9 393.2,260.0 399.3,265.5 400.2,266.0 407.3,272.0 412.5,275.6 417.5,278.6 440.0,289.9 441.0,290.7 443.5,291.9 445.1,293.0 445.1,293.5 442.0,292.6 433.5,288.9 432.5,288.6 423.5,284.9 420.5,284.0 417.7,286.5 416.5,286.9 415.5,287.6 396.0,294.1 390.0,295.6 385.0,296.4 382.5,297.1 381.5,297.0ZM526.0,317.7 525.0,317.7 523.5,317.3 521.0,317.2 519.5,316.8 518.0,316.7 516.5,316.3 514.5,316.2 513.0,315.8 509.5,315.7 508.0,315.3 501.5,315.3 500.0,315.7 496.0,315.8 494.0,316.2 490.0,316.2 489.4,316.0 489.4,315.5 491.5,314.4 493.5,314.1 494.5,313.8 496.5,313.7 498.0,313.3 503.0,313.2 504.5,312.8 505.5,312.8 507.0,313.2 511.5,313.3 513.0,313.7 515.0,313.8 516.0,314.1 518.0,314.4 525.0,316.4 526.2,317.0 526.3,317.5ZM553.5,405.5 551.5,405.7 537.5,405.7 536.0,405.3 533.5,405.2 530.0,404.7 529.0,404.4 524.5,403.6 522.0,402.9 520.0,402.6 518.5,401.9 517.0,401.6 516.5,400.9 514.5,400.6 511.5,399.1 510.0,397.9 509.0,397.6 506.8,396.0 504.0,393.0 500.0,395.6 497.0,397.1 495.5,397.6 494.0,397.7 493.4,397.5 493.3,397.0 493.8,396.0 496.7,393.0 497.5,391.8 499.5,389.7 503.0,384.8 504.5,383.2 509.5,376.3 511.5,374.2 512.0,373.3 519.5,365.8 523.0,363.4 526.5,361.9 529.0,361.3 534.0,361.3 538.0,362.4 542.5,364.4 551.0,369.9 573.3,387.0 586.7,396.0 587.6,397.0 588.0,398.0 587.6,399.0 587.0,399.2 585.5,399.5 583.0,399.2 580.0,398.1 574.5,395.5 573.8,396.0 573.0,397.2 571.0,399.2 568.5,401.1 565.0,402.4 564.0,403.1 562.5,403.4 560.5,404.1 558.5,404.4Z" fill="#97d2ba" fill-rule="evenodd"/>
<path d="M377.5,295.6 371.0,295.7 369.5,295.3 366.0,295.2 364.5,294.8 362.5,294.7 360.0,293.9 357.5,293.6 353.0,291.9 351.0,291.6 350.0,290.9 349.0,290.6 345.0,288.6 340.0,285.2 335.0,280.1 332.5,280.9 331.0,281.6 327.5,282.2 326.0,282.2 323.4,281.0 323.4,279.0 324.0,277.8 325.5,276.3 328.7,274.0 331.5,271.3 333.0,270.2 340.0,263.3 341.5,262.2 345.5,258.3 346.7,257.5 348.8,255.5 354.5,251.4 359.5,248.9 364.5,247.4 371.0,247.3 376.5,248.9 384.0,252.9 393.2,260.0 399.3,265.5 400.2,266.0 407.3,272.0 412.5,275.6 417.5,278.6 440.0,289.9 441.0,290.7 443.5,291.9 443.8,292.5 443.0,292.6 441.5,292.1 436.5,290.1 435.5,289.4 433.0,288.6 430.5,287.4 429.5,287.1 425.5,285.4 417.5,282.5 414.5,285.1 411.5,286.6 410.5,286.9 406.5,288.6 398.0,291.5 396.0,291.9 392.0,293.1 390.0,293.4 388.0,294.1 386.0,294.3 382.0,295.2 378.5,295.3ZM523.5,316.7 521.0,316.7 519.5,316.3 517.5,316.2 516.0,315.8 513.5,315.7 512.0,315.3 497.0,315.3 495.5,315.7 492.0,315.7 491.0,315.6 490.9,315.0 494.5,313.8 496.5,313.7 498.0,313.3 503.0,313.2 504.5,312.8 505.5,312.8 507.0,313.2 511.5,313.3 513.0,313.7 515.0,313.8 516.0,314.1 518.0,314.4 523.5,315.9 523.8,316.5ZM546.0,404.0 542.5,404.1 542.0,403.9 541.0,404.0 540.0,403.8 535.0,403.7 533.5,403.3 532.0,403.2 530.5,402.8 529.0,402.7 527.5,402.3 525.0,402.0 521.5,400.9 519.5,400.6 518.0,400.1 511.5,396.9 510.5,396.6 509.0,395.6 505.2,392.0 504.5,391.8 503.8,392.0 501.5,394.1 497.0,396.6 495.5,397.1 494.5,397.1 493.9,396.5 493.9,396.0 499.5,389.7 503.0,384.8 504.5,383.2 509.5,376.3 511.5,374.2 512.0,373.3 519.5,365.8 523.0,363.4 526.5,361.9 529.0,361.3 533.5,361.3 536.5,361.9 540.5,363.4 545.0,365.9 551.0,369.9 573.3,387.0 585.2,395.0 586.5,396.3 587.1,397.5 587.0,398.1 586.0,398.6 584.0,398.6 579.0,397.1 576.0,395.6 575.0,394.9 574.0,394.6 573.0,394.0 569.2,398.0 564.5,400.6 559.0,402.5 555.5,403.2 553.5,403.3 552.0,403.7 547.0,403.8Z" fill="#95d1b8" fill-rule="evenodd"/>
<path d="M377.5,293.6 369.0,293.7 367.5,293.3 365.0,293.2 363.5,292.8 361.5,292.6 357.5,291.4 356.5,291.5 352.5,290.1 351.5,289.4 348.5,288.6 345.0,286.4 342.5,285.1 342.0,284.4 339.5,282.7 337.7,280.5 336.0,278.9 335.5,278.9 331.5,280.6 329.5,281.1 325.5,281.2 324.8,281.0 323.9,280.0 323.9,278.5 324.5,277.3 325.5,276.3 328.7,274.0 331.5,271.3 333.0,270.2 340.0,263.3 341.5,262.2 345.5,258.3 346.7,257.5 348.8,255.5 354.5,251.4 359.5,248.9 364.5,247.4 371.0,247.3 376.5,248.9 384.0,252.9 393.2,260.0 399.3,265.5 400.2,266.0 407.3,272.0 412.5,275.6 417.5,278.6 440.0,289.9 443.1,292.0 441.0,291.6 436.0,289.4 430.0,287.1 427.5,285.9 418.5,282.6 416.0,281.4 414.5,281.1 412.5,283.2 410.5,284.6 400.5,288.6 397.5,289.4 396.0,290.1 386.0,292.6 384.0,292.8 382.5,293.2 378.5,293.3ZM521.0,316.0 520.5,315.7 516.5,315.7 515.0,315.3 512.0,315.2 510.5,314.8 497.5,314.8 496.0,315.2 494.0,315.2 493.0,315.1 492.9,314.5 494.5,313.9 496.5,313.7 498.0,313.3 503.0,313.2 504.5,312.8 505.5,312.8 507.0,313.2 511.5,313.3 513.0,313.7 515.0,313.8 516.0,314.1 518.0,314.4 520.0,314.9 521.0,315.4ZM548.0,402.1 541.0,402.2 539.5,401.8 538.0,402.1 537.0,401.8 534.0,401.7 532.5,401.3 530.0,401.1 527.5,400.4 526.5,400.5 522.5,399.4 520.5,399.1 517.5,398.1 516.5,397.4 514.0,396.6 509.8,394.0 507.0,391.7 506.0,390.4 505.5,390.3 505.0,390.4 504.5,391.1 500.5,394.1 498.0,395.6 496.5,396.1 495.0,396.2 494.4,396.0 494.4,395.5 499.5,389.7 503.0,384.8 504.5,383.2 509.5,376.3 511.5,374.2 512.0,373.3 519.5,365.8 523.0,363.4 526.5,361.9 529.0,361.3 534.0,361.3 538.0,362.4 542.5,364.4 551.0,369.9 573.3,387.0 583.7,394.0 585.6,395.5 586.2,397.0 586.1,397.5 585.5,397.7 582.0,397.6 576.0,394.9 575.0,394.6 574.0,393.9 571.5,392.8 571.0,392.9 570.2,394.0 567.5,396.6 565.0,398.1 564.0,398.4 561.5,399.6 560.0,399.9 556.0,401.2 553.0,401.3 551.5,401.7 549.0,401.8Z" fill="#92cfb6" fill-rule="evenodd"/>
<path d="M379.5,291.6 368.5,291.7 367.0,291.3 363.5,291.1 355.5,289.1 354.0,288.4 352.5,288.1 349.5,287.1 349.0,286.4 346.0,285.1 340.3,281.0 337.7,278.0 337.0,277.5 334.5,278.4 332.5,279.6 327.5,280.5 325.5,280.1 324.4,279.0 324.4,278.5 325.5,276.4 329.0,273.7 331.8,271.0 333.0,270.2 340.0,263.3 341.5,262.2 345.5,258.3 353.0,252.4 359.5,248.9 362.5,247.9 365.0,247.3 371.0,247.3 376.5,248.9 384.0,252.9 393.2,260.0 399.3,265.5 400.2,266.0 407.3,272.0 412.5,275.6 417.5,278.6 440.0,289.9 440.5,290.5 439.5,290.6 435.5,288.8 433.0,288.1 430.5,286.9 429.5,286.6 425.5,284.9 423.0,284.1 421.5,283.4 419.0,282.6 415.5,280.9 412.0,279.6 409.7,282.0 407.0,283.6 405.0,284.4 404.0,285.1 397.5,287.4 396.0,288.1 388.5,289.9 386.5,290.6 384.5,290.9 383.5,291.2 380.5,291.3ZM518.0,315.1 515.5,315.2 514.0,314.7 510.0,314.7 508.0,314.2 499.5,314.2 498.0,314.7 496.0,314.7 495.4,314.5 495.4,314.0 498.0,313.3 503.0,313.3 504.0,312.9 505.5,312.8 507.0,313.3 511.5,313.3 513.0,313.8 515.0,313.8 517.5,314.4 518.4,315.0ZM548.0,400.1 538.0,400.2 536.5,399.8 533.0,399.7 528.5,398.8 525.5,398.5 524.0,398.1 522.5,397.4 521.5,397.5 520.0,397.1 515.0,394.9 514.0,394.6 513.0,393.9 512.0,393.6 509.5,391.7 506.5,388.9 505.8,389.0 502.7,392.0 499.5,394.1 496.0,395.7 495.0,395.6 494.9,395.0 499.5,389.7 503.0,384.8 504.5,383.2 509.5,376.3 511.5,374.2 512.0,373.3 519.5,365.8 523.0,363.4 526.5,361.9 529.0,361.3 533.5,361.3 536.5,361.9 540.5,363.4 545.0,365.9 551.0,369.9 573.3,387.0 583.7,394.0 585.0,395.3 585.2,396.0 585.0,396.7 584.0,397.2 579.5,396.1 570.0,391.3 569.5,391.4 568.7,392.5 566.0,395.1 564.5,396.1 563.5,396.4 561.0,397.6 559.5,397.9 555.0,399.2 553.5,399.3 552.0,399.7 549.0,399.8Z" fill="#8fceb4" fill-rule="evenodd"/>
<path d="M439.5,290.1 437.5,289.6 426.0,284.9 423.5,284.1 422.0,283.4 418.5,282.1 410.0,278.2 409.5,278.1 409.0,279.2 407.7,280.5 405.0,282.1 401.0,284.1 399.5,284.4 397.0,285.6 392.5,287.1 388.5,288.1 386.5,288.4 384.5,289.1 381.5,289.3 380.0,289.7 368.5,289.7 367.0,289.5 366.0,289.6 365.0,289.3 363.5,289.2 360.0,288.4 358.0,288.1 355.0,286.9 351.0,285.6 350.0,284.9 349.0,284.6 347.0,283.4 346.0,283.1 343.5,281.6 338.0,276.0 333.0,278.6 329.0,279.7 327.5,279.7 325.5,279.1 325.3,277.5 325.5,276.8 327.5,274.8 328.7,274.0 331.5,271.3 333.0,270.2 340.0,263.3 341.5,262.2 345.5,258.3 346.7,257.5 348.8,255.5 354.5,251.4 359.5,248.9 364.5,247.4 371.0,247.3 376.5,248.9 384.0,252.9 393.2,260.0 402.3,268.0 411.0,274.6 417.5,278.6 438.0,288.9 439.1,289.5 439.7,290.0ZM513.0,314.0 507.0,314.2 506.0,313.8 502.6,313.5 503.5,313.4 504.0,312.9 505.5,312.8 507.0,313.3 511.5,313.3 512.5,313.9 513.4,314.0ZM501.0,314.1 498.5,314.2 497.9,314.0 497.9,313.5 499.5,313.3 502.4,313.5 501.5,313.6ZM515.5,314.6 513.6,314.0 515.0,313.9ZM549.0,398.1 536.0,398.2 534.5,397.8 532.0,397.7 527.0,397.0 522.5,396.0 520.0,394.9 518.0,394.6 517.0,393.9 513.5,392.6 512.0,391.4 509.8,390.0 507.0,387.5 502.7,391.5 499.5,393.6 497.5,394.6 496.5,394.7 495.6,394.5 497.5,391.8 499.5,389.7 503.0,384.8 504.5,383.2 509.5,376.3 511.5,374.2 512.3,373.0 519.5,365.8 523.0,363.4 526.5,361.9 529.0,361.3 534.0,361.3 538.0,362.4 542.5,364.4 551.0,369.9 573.3,387.0 582.2,393.0 584.1,394.5 584.5,395.5 584.2,396.0 583.5,396.2 582.0,396.2 579.5,395.6 573.5,392.6 572.5,391.9 568.5,389.8 567.9,390.0 567.2,391.0 565.2,393.0 561.5,395.1 560.5,395.4 559.0,396.1 555.0,397.1 553.0,397.4 552.0,397.7 550.0,397.8Z" fill="#8ccdb2" fill-rule="evenodd"/>
<path d="M437.5,289.1 437.0,289.1 435.5,288.2 433.0,287.6 431.5,286.8 418.0,281.6 408.0,276.9 407.3,277.0 405.5,279.1 402.5,281.1 395.5,284.1 394.0,284.4 389.0,286.1 387.0,286.4 384.0,287.2 381.5,287.3 380.0,287.7 376.0,287.9 374.5,288.1 371.5,288.1 371.0,287.9 369.5,288.1 368.5,287.8 366.0,287.7 364.5,287.3 362.5,287.2 360.0,286.4 357.0,286.0 354.5,285.1 347.0,281.6 344.0,279.6 340.8,276.5 339.5,274.9 338.5,274.9 337.5,275.4 335.0,277.1 332.5,278.1 330.0,278.7 326.5,278.6 325.9,278.0 325.8,277.5 326.4,276.0 327.5,274.8 329.0,273.7 331.8,271.0 333.0,270.2 340.0,263.3 341.5,262.2 345.5,258.3 353.0,252.4 359.5,248.9 362.5,247.9 365.0,247.3 371.0,247.3 376.5,248.9 384.0,252.9 393.2,260.0 402.3,268.0 411.0,274.6 417.5,278.6 435.0,287.4 437.1,288.5 437.7,289.0ZM542.5,396.5 540.5,396.3 538.5,396.5 537.5,396.3 533.5,396.2 532.0,395.8 527.0,395.2 522.5,394.1 521.0,393.4 518.0,392.6 515.5,391.6 510.3,388.5 508.0,386.0 503.2,390.5 501.0,391.9 499.5,393.1 497.5,394.1 496.1,394.0 497.5,391.8 499.5,389.7 509.5,376.3 511.5,374.2 512.3,373.0 519.5,365.8 523.0,363.4 526.5,361.9 529.0,361.3 533.5,361.3 536.5,361.9 540.5,363.4 545.0,365.9 551.2,370.0 573.3,387.0 582.2,393.0 583.6,394.5 583.5,395.2 582.5,395.7 578.5,394.6 576.0,393.4 575.0,393.1 567.0,388.4 566.5,388.4 565.7,389.5 563.5,391.6 558.5,394.1 557.0,394.4 553.0,395.7 550.5,395.8 549.0,396.2 545.5,396.5 543.5,396.3Z" fill="#89ccaf" fill-rule="evenodd"/>
<path d="M435.5,288.1 433.5,287.6 431.0,286.3 428.5,285.6 427.0,284.9 421.0,282.6 418.5,281.4 415.0,280.1 405.5,275.5 403.5,277.7 401.5,279.1 397.5,281.1 395.0,281.9 392.5,283.1 384.5,285.1 379.0,285.8 377.0,286.2 369.5,286.2 368.0,285.8 364.5,285.7 361.5,284.9 359.0,284.5 354.5,282.9 353.0,282.6 352.0,281.9 347.5,280.1 344.0,277.6 343.2,276.5 341.9,275.5 340.5,273.4 340.0,273.4 339.0,273.9 336.5,275.6 330.0,278.1 328.0,278.1 326.8,277.5 326.4,277.0 326.4,276.5 327.5,274.8 329.0,273.7 331.8,271.0 333.0,270.2 340.0,263.3 341.5,262.2 345.5,258.3 346.7,257.5 348.8,255.5 354.5,251.4 359.5,248.9 364.5,247.4 371.0,247.3 376.5,248.9 384.0,252.9 393.2,260.0 402.3,268.0 411.0,274.6 417.5,278.6 434.0,286.9 435.1,287.5 435.7,288.0ZM582.5,394.7 580.5,394.7 578.5,394.1 571.5,390.6 567.5,388.1 566.0,386.9 565.5,386.8 564.8,387.0 562.7,389.5 560.0,391.1 559.0,391.4 558.0,392.1 557.0,392.5 552.5,393.6 550.5,393.8 547.0,394.5 546.0,394.4 545.0,394.7 537.5,394.7 536.0,394.3 532.0,394.2 530.5,393.8 525.5,393.1 519.5,391.6 519.0,390.9 518.5,390.8 517.0,390.6 516.0,389.9 515.0,389.6 512.5,388.1 509.0,384.9 508.5,384.9 508.0,385.3 504.0,389.2 501.0,391.6 497.5,393.6 496.7,393.5 497.5,391.8 499.5,389.7 509.5,376.3 511.5,374.2 512.3,373.0 519.5,365.8 523.0,363.4 526.5,361.9 529.0,361.3 533.5,361.3 536.5,361.9 540.5,363.4 545.0,365.9 551.0,369.9 573.3,387.0 582.5,393.4 582.9,394.5Z" fill="#87caad" fill-rule="evenodd"/>
<path d="M433.5,287.1 433.0,287.1 431.5,286.2 430.5,286.1 429.0,285.3 426.5,284.6 425.0,283.9 419.0,281.6 406.5,275.7 404.5,274.4 403.5,274.1 400.5,277.1 397.0,279.1 396.0,279.4 395.0,280.1 387.5,282.6 385.5,282.9 382.0,283.7 380.0,283.8 378.5,284.2 367.0,284.2 365.5,283.8 360.5,283.0 355.5,281.4 353.5,281.1 352.5,280.4 350.5,279.6 345.5,276.6 342.8,274.0 341.7,272.5 341.0,272.3 337.0,274.6 336.0,274.9 335.0,275.6 331.0,277.1 328.0,277.2 327.3,277.0 327.0,276.5 327.5,274.8 329.0,273.7 331.8,271.0 333.0,270.2 340.0,263.3 341.5,262.2 345.5,258.3 346.7,257.5 348.8,255.5 354.5,251.4 359.5,248.9 364.5,247.4 371.0,247.3 376.5,248.9 384.0,252.9 393.2,260.0 402.3,268.0 411.0,274.6 417.5,278.6 431.0,285.4 433.1,286.5 433.7,287.0ZM582.0,394.1 581.0,394.2 578.5,393.6 576.0,392.4 575.0,392.1 574.0,391.4 570.5,389.6 564.0,385.4 563.5,385.4 562.7,386.5 560.5,388.6 554.5,391.1 553.0,391.4 551.0,392.1 547.0,392.5 546.0,392.4 545.0,392.7 534.0,392.7 532.5,392.3 530.5,392.2 529.5,391.9 528.5,392.0 526.0,391.5 525.0,390.9 524.0,391.0 519.0,389.6 518.5,388.9 516.0,388.1 513.5,386.6 510.0,383.4 509.5,383.4 509.0,383.8 504.0,388.7 501.0,391.1 498.5,392.6 497.3,392.5 497.5,391.8 499.5,389.7 509.5,376.3 511.5,374.2 512.3,373.0 519.8,365.5 523.0,363.4 526.5,361.9 529.0,361.3 534.0,361.3 538.0,362.4 542.5,364.4 551.0,369.9 573.3,387.0 580.7,392.0 582.1,393.5Z" fill="#84c9ab" fill-rule="evenodd"/>
<path d="M431.5,286.1 431.0,286.1 429.5,285.2 428.5,285.1 424.5,283.3 422.0,282.6 419.5,281.4 415.0,279.6 402.0,272.9 401.3,273.0 400.2,274.5 397.5,276.6 395.5,277.4 394.5,278.1 392.0,279.1 390.5,279.4 389.0,280.1 383.0,281.6 380.5,281.8 379.0,282.2 372.5,282.3 371.5,282.5 370.5,282.3 366.0,282.2 362.0,281.3 360.0,281.1 358.5,280.5 356.5,280.1 355.0,279.6 354.0,278.9 351.5,278.1 349.5,276.8 348.0,276.2 345.3,274.0 343.0,271.3 342.0,270.8 341.5,270.9 340.0,272.1 335.0,275.1 330.5,276.6 328.5,276.6 327.9,276.0 327.8,275.5 328.3,274.5 331.5,271.3 333.0,270.2 340.0,263.3 341.5,262.2 345.5,258.3 346.7,257.5 348.8,255.5 354.5,251.4 359.5,248.9 364.5,247.4 371.0,247.3 376.5,248.9 384.0,252.9 393.2,260.0 402.3,268.0 411.0,274.6 417.5,278.6 431.0,285.4 431.7,286.0ZM581.0,393.1 578.5,393.1 575.0,391.7 572.0,390.1 569.5,388.4 567.0,387.1 563.7,384.5 562.5,383.9 561.8,384.0 560.7,385.5 558.5,386.9 557.0,388.1 555.5,388.4 552.5,389.6 550.0,389.9 547.0,390.7 533.5,390.7 532.0,390.3 527.5,390.0 524.0,388.9 523.0,389.0 517.5,387.1 516.0,385.9 515.0,385.6 513.5,384.6 510.5,382.0 502.7,389.5 499.5,391.7 498.5,392.1 497.7,392.0 497.8,391.5 499.5,389.7 509.5,376.3 511.5,374.2 512.3,373.0 519.5,365.8 523.0,363.4 526.5,361.9 529.0,361.3 533.5,361.3 536.5,361.9 540.5,363.4 545.0,365.9 551.0,369.9 573.3,387.0 579.2,391.0 581.1,392.5Z" fill="#81c8a9" fill-rule="evenodd"/>
<path d="M429.5,285.1 427.5,284.6 426.0,283.8 425.0,283.6 423.5,282.8 420.0,281.6 417.5,280.4 416.5,280.1 407.5,275.6 406.5,274.9 405.5,274.6 400.5,271.4 400.0,271.4 399.5,271.8 398.5,273.1 396.5,274.6 393.0,276.6 390.5,277.4 387.5,278.6 383.5,279.6 378.0,280.3 377.0,280.6 375.0,280.5 374.0,280.7 369.5,280.7 368.0,280.3 366.0,280.2 361.5,279.5 355.0,277.6 351.5,276.1 347.5,273.6 344.3,270.5 343.5,269.4 343.0,269.4 338.5,272.6 333.5,275.1 331.5,275.7 329.0,275.7 328.4,275.5 328.3,275.0 328.8,274.0 331.5,271.3 333.0,270.2 340.0,263.3 341.5,262.2 345.5,258.3 346.7,257.5 348.8,255.5 354.5,251.4 359.5,248.9 364.5,247.4 371.0,247.3 376.5,248.9 384.0,252.9 393.2,260.0 402.3,268.0 411.0,274.6 417.5,278.6 429.0,284.4 429.7,285.0ZM580.0,392.7 578.5,392.6 571.0,389.1 564.0,384.6 562.5,383.4 560.5,382.5 559.5,383.6 556.0,386.1 552.0,387.6 547.5,388.7 544.5,388.8 543.5,389.0 542.5,388.8 540.0,389.2 536.5,389.0 535.0,389.2 533.5,388.8 531.5,388.7 530.0,388.3 526.5,388.0 520.0,386.1 514.0,383.1 513.5,382.3 511.5,380.5 507.3,384.5 506.5,385.6 500.7,390.5 498.5,391.6 498.3,391.0 512.0,373.3 519.8,365.5 523.0,363.4 526.5,361.9 529.0,361.3 534.0,361.3 538.0,362.4 542.5,364.4 551.0,369.9 573.3,387.0 579.2,391.0 580.2,392.0 580.4,392.5Z" fill="#7ec7a7" fill-rule="evenodd"/>
<path d="M428.5,284.6 428.0,284.6 426.5,283.7 425.5,283.6 424.0,282.8 420.5,281.6 418.0,280.4 417.0,280.1 406.0,274.6 398.5,269.9 398.0,269.9 395.7,272.5 392.5,274.6 391.5,274.9 389.0,276.1 387.5,276.4 385.5,277.1 381.5,278.1 379.0,278.3 377.5,278.7 368.5,278.7 367.0,278.3 364.0,278.2 359.0,277.1 356.0,276.1 351.5,274.1 348.0,271.7 344.5,267.9 344.0,267.9 337.5,272.6 336.5,272.9 334.5,274.1 331.5,275.1 330.0,275.2 329.0,274.7 328.9,274.0 331.5,271.3 333.0,270.2 340.0,263.3 341.5,262.2 345.5,258.3 346.7,257.5 348.8,255.5 354.5,251.4 359.5,248.9 364.5,247.4 371.0,247.3 376.5,248.9 384.0,252.9 393.2,260.0 402.3,268.0 411.0,274.6 417.5,278.6 428.0,283.9 428.7,284.5ZM579.5,392.1 578.5,392.1 575.5,391.1 573.5,390.1 566.0,385.6 559.5,380.9 558.5,380.9 557.0,382.7 555.0,384.1 550.0,386.1 545.0,387.0 544.0,386.9 543.0,387.2 533.0,387.2 528.5,386.3 527.5,386.5 524.0,385.6 521.0,384.4 519.5,384.1 518.5,383.4 516.8,383.0 512.5,379.1 512.0,379.3 509.8,381.5 507.0,384.7 505.5,385.8 503.0,388.2 500.5,390.1 499.2,390.5 499.9,389.0 504.5,383.2 509.5,376.3 511.5,374.2 512.3,373.0 519.8,365.5 523.0,363.4 526.5,361.9 529.0,361.3 534.0,361.3 538.0,362.4 542.5,364.4 551.0,369.9 573.3,387.0 579.2,391.0 579.6,391.5Z" fill="#7bc5a5" fill-rule="evenodd"/>
<path d="M426.5,283.6 426.0,283.6 424.5,282.7 423.5,282.6 416.5,279.7 407.5,275.1 406.5,274.4 405.5,274.1 400.5,271.1 397.5,268.9 396.5,268.6 394.0,271.1 389.5,273.6 388.5,273.9 386.0,275.1 381.5,275.9 378.0,276.7 366.5,276.7 362.5,275.8 360.5,275.6 357.5,274.4 356.0,274.1 353.5,273.1 351.0,271.6 349.0,270.2 345.5,266.6 344.0,267.4 339.0,271.1 334.0,273.6 330.5,274.5 329.5,274.1 329.4,273.5 345.5,258.3 346.7,257.5 348.8,255.5 354.5,251.4 359.5,248.9 364.5,247.4 371.0,247.3 376.5,248.9 384.0,252.9 393.2,260.0 399.3,265.5 400.2,266.0 402.3,268.0 407.5,272.1 412.5,275.6 417.5,278.7 426.0,282.9 426.7,283.5ZM578.5,391.2 577.5,391.2 575.5,390.6 570.5,388.1 562.0,382.6 558.5,379.9 557.5,379.4 557.0,379.4 555.5,381.2 553.5,382.6 547.5,384.6 545.0,384.8 543.5,385.2 531.0,385.2 529.5,384.8 528.0,384.7 527.0,384.4 525.0,384.1 523.5,383.4 519.5,382.1 516.5,380.6 513.5,377.9 513.0,377.9 512.5,378.3 505.7,385.5 504.0,386.8 501.7,389.0 500.5,389.6 499.8,389.5 500.0,388.8 504.5,383.2 509.5,376.3 511.5,374.2 512.3,373.0 519.8,365.5 523.0,363.4 526.5,361.9 529.0,361.3 534.0,361.3 538.0,362.4 542.5,364.4 551.0,369.9 557.2,374.5 558.8,376.0 563.7,379.5 565.3,381.0 577.7,390.0Z" fill="#78c4a3" fill-rule="evenodd"/>
<path d="M424.5,282.6 419.0,280.6 406.0,274.1 401.0,270.9 399.5,270.1 398.0,268.9 396.5,268.1 395.0,267.0 392.0,270.1 390.5,271.1 389.5,271.4 388.5,272.1 386.0,273.0 378.5,274.7 371.0,275.0 365.0,274.5 357.0,272.6 356.0,271.9 353.0,270.6 349.0,268.1 347.0,265.3 346.5,265.0 342.0,268.6 340.5,269.4 336.5,272.1 332.0,273.7 330.0,273.6 329.9,273.0 345.5,258.3 346.7,257.5 348.8,255.5 354.5,251.4 359.5,248.9 364.5,247.4 371.0,247.3 376.5,248.9 384.0,252.9 393.2,260.0 399.3,265.5 400.2,266.0 407.3,272.0 412.5,275.6 417.5,278.7 424.0,281.9 424.7,282.5ZM577.5,390.7 576.5,390.6 574.0,389.6 573.0,388.9 572.0,388.6 571.0,387.9 568.5,386.6 564.5,383.9 563.0,383.1 561.2,381.5 556.0,377.9 555.3,378.0 554.5,379.1 552.5,380.6 547.5,382.6 545.5,382.8 541.5,383.6 537.5,383.7 536.5,383.5 535.5,383.6 534.5,383.3 530.0,383.2 529.0,382.9 527.0,382.7 524.5,382.1 523.0,381.4 520.0,380.6 519.0,380.1 515.8,378.0 514.5,376.4 514.0,376.4 504.0,386.7 501.5,388.6 500.5,389.2 500.0,389.0 512.0,373.3 519.8,365.5 523.0,363.4 526.5,361.9 529.0,361.3 534.0,361.3 538.0,362.4 542.5,364.4 551.0,369.9 557.2,374.5 558.8,376.0 563.7,379.5 565.3,381.0 577.7,390.0 577.8,390.5Z" fill="#76c3a0" fill-rule="evenodd"/>
<path d="M423.5,282.1 423.0,282.1 420.5,280.7 419.5,280.6 417.0,279.3 416.0,279.1 406.5,274.1 405.5,273.4 403.0,272.1 401.5,270.9 400.0,270.1 395.5,267.1 393.5,265.5 390.7,268.5 386.5,270.6 382.0,272.1 380.0,272.4 379.0,272.7 377.0,272.8 374.5,273.2 370.5,273.2 369.0,272.8 365.0,272.7 357.0,270.6 356.0,269.9 353.0,268.6 351.5,267.6 348.8,265.0 348.0,263.9 347.5,263.8 346.8,264.0 342.2,268.0 339.0,270.1 332.5,273.1 331.0,273.1 330.8,272.5 331.5,271.3 333.0,270.2 340.0,263.3 341.5,262.2 345.5,258.3 346.7,257.5 348.8,255.5 354.5,251.4 359.5,248.9 364.5,247.4 371.0,247.3 376.5,248.9 384.0,252.9 393.2,260.0 399.3,265.5 400.2,266.0 407.3,272.0 412.5,275.6 416.5,277.9 417.5,278.7 423.0,281.4 423.7,282.0ZM577.0,390.1 576.0,390.1 569.0,386.6 562.0,382.1 560.2,380.5 558.5,379.6 555.0,376.9 554.0,376.5 551.5,378.6 547.0,380.6 545.0,380.9 544.0,381.2 542.5,381.3 541.0,381.7 532.0,381.7 530.5,381.3 528.0,381.0 526.0,380.4 525.0,380.5 521.0,379.1 517.5,377.1 515.0,375.0 513.3,376.5 512.2,378.0 507.8,382.5 507.0,383.6 506.0,384.3 502.7,387.5 501.0,388.6 500.7,388.5 501.4,387.0 504.5,383.2 509.5,376.3 511.5,374.2 512.3,373.0 519.8,365.5 523.0,363.4 526.5,361.9 529.0,361.3 534.0,361.3 538.0,362.4 542.5,364.4 551.0,369.9 557.2,374.5 558.8,376.0 563.7,379.5 565.3,381.0 573.5,387.1 575.7,388.5 576.8,389.5Z" fill="#73c29e" fill-rule="evenodd"/>
<path d="M420.5,280.6 420.0,280.6 417.5,279.2 416.5,279.1 406.0,273.6 394.5,266.1 392.5,264.4 392.0,264.3 391.4,264.5 389.7,266.5 388.0,267.6 383.5,269.6 376.0,271.2 367.5,271.2 366.0,270.8 364.0,270.6 362.0,269.9 357.0,268.6 355.0,267.6 351.8,265.5 350.0,263.7 349.5,262.8 349.0,262.4 348.5,262.4 343.5,266.6 335.5,271.6 332.0,272.7 331.4,272.5 331.3,272.0 331.8,271.0 333.0,270.2 340.0,263.3 341.5,262.2 345.5,258.3 346.7,257.5 348.8,255.5 354.5,251.4 359.5,248.9 364.5,247.4 371.0,247.3 376.5,248.9 384.0,252.9 393.2,260.0 399.3,265.5 400.2,266.0 407.3,272.0 412.5,275.7 416.5,277.9 417.5,278.8 420.1,280.0 420.7,280.5ZM576.0,389.6 574.5,389.1 570.5,387.1 565.5,384.1 552.5,374.9 552.0,374.9 550.0,377.1 549.0,377.4 546.5,378.6 542.5,379.6 530.5,379.7 529.0,379.3 527.0,379.1 525.0,378.6 523.5,377.9 522.0,377.6 521.0,376.9 520.0,376.6 516.0,373.5 505.5,384.7 502.5,387.1 501.5,387.3 501.4,387.0 512.0,373.3 519.8,365.5 523.0,363.4 526.5,361.9 529.0,361.3 534.0,361.3 538.0,362.4 542.5,364.4 551.0,369.9 557.2,374.5 558.8,376.0 563.7,379.5 565.3,381.0 573.5,387.2 575.7,388.5 576.2,389.0Z" fill="#70c09c" fill-rule="evenodd"/>
<path d="M418.5,279.6 418.0,279.6 410.0,275.6 409.0,274.9 403.0,271.6 401.5,270.4 397.0,267.6 390.5,262.9 389.8,263.0 388.0,265.1 387.0,265.7 383.0,267.6 381.5,267.9 380.0,268.6 377.5,268.8 376.0,269.2 367.0,269.2 362.0,268.1 356.5,266.1 352.3,263.5 350.7,261.5 350.0,261.0 341.5,267.6 336.5,270.6 334.0,271.6 333.0,271.7 332.1,271.5 332.8,270.5 339.8,263.5 341.5,262.2 345.5,258.3 346.7,257.5 348.8,255.5 354.5,251.4 359.5,248.9 364.5,247.4 371.0,247.3 376.5,248.9 384.0,252.9 393.2,260.0 399.3,265.5 400.2,266.0 407.3,272.0 412.5,275.7 416.5,277.9 418.7,279.5ZM575.0,388.6 573.0,388.1 572.0,387.7 567.5,384.9 565.0,383.6 563.5,382.4 556.3,377.5 551.0,373.4 550.3,373.5 548.0,375.6 544.0,377.1 542.0,377.3 540.5,377.7 530.5,377.7 529.0,377.3 527.0,377.1 522.0,375.6 521.0,375.1 517.0,372.0 515.8,373.0 514.7,374.5 512.0,377.3 511.5,378.2 510.4,379.0 509.7,380.0 504.0,385.7 502.0,387.1 501.5,387.0 512.0,373.3 519.8,365.5 523.0,363.4 526.5,361.9 529.0,361.3 534.0,361.3 536.5,361.9 540.5,363.4 545.0,365.9 551.0,369.9 557.2,374.5 565.3,381.0 574.2,387.5 575.2,388.5Z" fill="#6dbf9a" fill-rule="evenodd"/>
<path d="M416.5,278.6 408.5,274.6 407.5,273.9 405.0,272.6 399.5,268.9 398.0,268.1 394.5,265.4 392.3,264.0 390.7,262.5 388.5,261.1 385.5,264.1 382.5,265.6 381.0,265.9 379.0,266.6 377.0,266.9 376.0,267.2 367.0,267.2 365.5,266.8 363.5,266.6 357.5,264.6 354.8,263.0 351.5,259.6 349.8,260.5 345.2,264.5 341.5,266.9 340.0,268.1 335.5,270.6 333.5,271.2 332.6,271.0 333.3,270.0 339.8,263.5 341.5,262.2 345.5,258.3 346.7,257.5 348.8,255.5 354.5,251.4 359.5,248.9 364.5,247.4 371.0,247.3 376.5,248.9 384.0,252.9 393.2,260.0 399.3,265.5 400.2,266.0 407.3,272.0 412.5,275.7 414.0,276.4 415.0,277.3 416.5,277.9 416.8,278.5ZM574.0,388.1 568.0,385.1 565.5,383.4 564.0,382.6 559.3,379.5 557.5,377.9 556.0,377.1 554.2,375.5 549.0,371.9 548.3,372.0 546.2,374.0 545.0,374.6 540.5,375.7 538.0,376.0 535.5,375.9 535.0,376.1 533.5,375.9 532.5,376.1 531.5,375.8 529.0,375.6 523.5,374.1 520.5,372.6 518.5,370.6 518.0,370.8 515.3,373.5 514.5,374.7 513.4,375.5 512.7,376.5 508.3,381.0 507.5,382.1 506.5,382.8 503.5,385.7 502.7,386.0 503.0,384.8 504.5,383.2 509.5,376.3 511.5,374.2 512.0,373.3 519.8,365.5 523.0,363.4 526.5,361.9 529.0,361.3 534.0,361.3 538.0,362.4 542.5,364.4 551.0,369.9 557.2,374.5 558.8,376.0 563.7,379.5 565.3,381.0 572.2,386.0 573.5,387.3 574.1,387.5 574.3,388.0Z" fill="#6abe98" fill-rule="evenodd"/>
<path d="M415.0,277.6 413.5,277.1 412.5,276.2 411.5,276.1 410.5,275.3 407.0,273.6 397.0,267.1 393.5,264.4 387.0,259.9 386.5,259.9 385.7,261.0 384.0,262.6 380.5,264.1 375.5,265.2 368.0,265.2 366.5,264.8 364.0,264.6 360.5,263.4 359.0,263.1 356.5,261.4 354.8,260.5 353.0,258.4 352.0,258.4 349.7,260.5 346.8,262.5 345.2,264.0 340.0,267.6 335.5,270.1 334.0,270.6 333.2,270.5 333.8,269.5 339.8,263.5 341.5,262.2 345.5,258.3 346.7,257.5 348.8,255.5 354.5,251.4 359.5,248.9 364.5,247.4 371.0,247.3 376.5,248.9 384.0,252.9 393.2,260.0 399.3,265.5 400.2,266.0 407.3,272.0 409.5,273.4 412.5,275.8 414.0,276.4 415.2,277.5ZM572.5,387.1 569.5,385.6 568.5,384.9 567.5,384.6 558.5,378.6 555.0,375.9 547.0,370.4 546.3,370.5 545.5,371.6 544.0,372.6 541.0,373.6 538.5,373.8 537.0,374.2 533.0,374.2 531.5,373.8 528.0,373.5 525.0,372.6 521.0,370.6 520.0,369.4 519.5,369.3 518.5,369.8 517.7,371.0 505.5,383.7 503.5,385.2 503.0,385.3 502.9,385.0 512.3,373.0 519.8,365.5 523.0,363.4 526.5,361.9 529.0,361.3 534.0,361.3 538.0,362.4 542.5,364.4 551.0,369.9 557.2,374.5 558.8,376.0 563.7,379.5 565.3,381.0 572.2,386.0 572.8,387.0Z" fill="#68bd96" fill-rule="evenodd"/>
<path d="M414.0,277.1 406.5,273.1 401.0,269.4 399.5,268.6 385.0,258.1 382.5,260.6 380.5,261.6 377.5,262.6 375.5,262.9 374.5,263.2 368.5,263.2 367.0,262.8 364.5,262.6 360.0,261.1 356.5,259.1 354.7,257.0 354.0,256.9 351.5,258.4 350.7,259.5 339.5,267.6 335.5,269.6 334.0,270.1 333.8,269.5 340.0,263.3 341.5,262.2 345.5,258.3 346.7,257.5 348.8,255.5 354.5,251.4 359.5,248.9 364.5,247.4 371.0,247.3 376.5,248.9 384.0,252.9 393.2,260.0 399.3,265.5 400.2,266.0 407.3,272.0 409.7,273.5 412.5,275.8 414.1,276.5 414.3,277.0ZM572.0,386.6 569.0,385.1 564.0,382.1 558.0,378.1 556.2,376.5 552.5,374.1 547.5,370.4 545.0,368.9 544.3,369.0 542.5,370.6 540.0,371.6 537.0,371.8 535.5,372.2 534.5,372.0 533.5,372.1 532.5,371.8 529.5,371.7 525.5,370.6 523.0,369.6 521.0,367.5 517.0,371.3 516.1,372.5 513.5,374.8 512.7,376.0 505.5,383.2 503.5,385.1 503.0,385.0 504.5,383.3 509.5,376.3 511.5,374.2 512.3,373.0 519.8,365.5 523.0,363.4 526.5,361.9 529.0,361.3 534.0,361.3 536.5,361.9 540.5,363.4 545.0,365.9 551.0,369.9 557.2,374.5 558.8,376.0 570.2,384.5 571.5,385.8 572.1,386.0 572.3,386.5Z" fill="#65bb94" fill-rule="evenodd"/>
<path d="M411.5,275.6 408.0,273.6 407.0,272.8 404.5,271.6 397.0,266.6 395.5,265.4 391.8,263.0 390.2,261.5 384.2,257.0 383.5,256.8 382.8,257.0 380.5,259.1 378.0,260.1 375.5,260.7 373.5,260.8 372.0,261.2 369.0,261.2 367.5,260.8 366.0,260.7 365.0,260.4 363.0,260.1 361.5,259.4 360.5,259.1 357.5,257.1 356.0,255.1 352.3,257.5 347.7,261.5 345.5,263.1 344.0,263.9 343.5,264.6 342.0,265.6 337.0,268.6 334.5,269.6 334.3,269.0 340.0,263.3 341.5,262.2 345.5,258.3 346.7,257.5 348.8,255.5 354.5,251.4 359.5,248.9 364.5,247.4 371.0,247.3 376.5,248.9 384.0,252.9 393.2,260.0 399.3,265.5 400.2,266.0 407.5,272.2 409.7,273.5 411.0,274.8 411.6,275.0 411.8,275.5ZM570.5,385.6 563.5,381.6 562.0,380.4 559.0,378.6 555.5,375.9 552.0,373.6 550.0,371.9 544.0,367.9 542.5,367.1 541.5,368.1 538.0,369.6 530.0,369.7 526.0,368.6 524.0,367.6 523.0,366.4 522.5,366.4 520.8,367.5 511.8,376.5 510.0,378.7 508.5,379.8 508.0,380.7 506.5,382.2 505.2,383.0 505.0,383.5 504.8,383.0 504.9,382.5 506.5,380.3 512.3,373.0 519.8,365.5 523.0,363.4 526.5,361.9 529.0,361.3 534.0,361.3 536.5,361.9 540.5,363.4 545.0,365.9 551.2,370.0 557.2,374.5 558.8,376.0 563.7,379.5 565.3,381.0 570.2,384.5 570.8,385.5Z" fill="#62ba91" fill-rule="evenodd"/>
<path d="M410.0,274.6 404.0,271.1 398.0,267.1 381.5,254.9 381.0,254.9 380.2,256.0 378.5,257.1 375.0,258.6 367.0,258.7 363.0,257.6 360.0,256.1 358.0,253.9 357.5,253.9 354.8,255.5 343.0,264.6 337.0,268.2 336.0,268.6 335.0,268.5 340.0,263.3 341.5,262.2 345.5,258.3 346.7,257.5 348.8,255.5 354.5,251.4 359.5,248.9 364.5,247.4 371.0,247.3 376.5,248.9 384.0,252.9 393.2,260.0 399.3,265.5 400.2,266.0 407.5,272.2 409.7,273.5 410.3,274.5ZM570.0,385.1 565.5,382.6 551.5,373.1 549.5,371.4 541.0,365.8 540.0,365.5 538.5,366.6 537.0,367.1 532.5,367.7 531.5,367.4 529.5,367.2 527.0,366.6 525.0,364.9 523.5,365.4 519.0,368.8 507.5,380.7 505.5,382.7 505.0,382.8 504.9,382.5 512.3,373.0 519.8,365.5 523.0,363.4 526.5,361.9 529.0,361.3 534.0,361.3 536.5,361.9 540.5,363.4 545.0,365.9 551.0,369.9 557.2,374.5 558.8,376.0 568.2,383.0 569.5,384.3 570.1,384.5 570.3,385.0Z" fill="#5fb98f" fill-rule="evenodd"/>
<path d="M409.5,274.1 407.5,272.7 406.0,272.1 399.0,267.6 395.5,264.9 387.8,259.5 386.0,257.9 384.5,257.1 381.0,254.4 379.0,253.4 378.3,253.5 377.5,254.6 376.5,255.2 374.0,256.1 367.0,256.2 362.5,254.6 360.2,252.5 359.5,252.4 354.5,255.4 342.5,264.6 337.0,267.6 336.0,268.1 335.8,267.5 340.0,263.3 341.5,262.2 345.5,258.3 346.7,257.5 348.8,255.5 354.5,251.4 359.5,248.9 364.5,247.4 371.0,247.3 376.5,248.9 384.0,252.9 393.2,260.0 395.5,262.2 396.7,263.0 402.3,268.0 405.7,270.5 407.5,272.3 409.6,273.5 409.8,274.0ZM568.5,384.1 565.0,382.1 557.5,377.1 549.0,370.9 543.0,366.9 539.5,365.1 538.5,364.4 536.5,363.8 534.0,364.7 531.5,364.7 529.0,364.1 527.5,363.3 524.0,364.9 520.3,367.5 512.3,375.5 510.2,378.0 508.9,379.0 507.5,380.7 507.0,381.1 506.3,381.0 506.5,380.3 512.3,373.0 520.0,365.4 523.0,363.4 526.5,361.9 529.0,361.3 534.0,361.3 536.5,361.9 540.5,363.4 545.0,365.9 551.2,370.0 557.2,374.5 558.8,376.0 563.7,379.5 565.3,381.0 568.2,383.0 568.8,384.0ZM505.5,382.7 505.0,382.8 504.9,382.5 506.0,381.7 506.1,382.0Z" fill="#5cb88d" fill-rule="evenodd"/>
<path d="M408.0,273.1 401.5,269.1 400.0,267.9 392.8,263.0 391.0,261.4 387.3,259.0 385.5,257.4 379.5,253.4 375.5,251.5 374.0,252.6 372.5,253.1 369.0,253.6 368.5,253.4 366.5,253.1 365.5,252.7 364.3,252.0 363.5,250.9 362.0,250.9 358.0,252.9 353.5,255.9 347.7,260.5 345.3,262.0 343.5,263.6 337.5,267.1 336.5,267.6 336.3,267.0 340.0,263.3 341.5,262.2 345.5,258.3 346.7,257.5 348.8,255.5 354.5,251.4 359.5,248.9 364.5,247.4 371.0,247.3 376.5,248.9 384.0,252.9 393.2,260.0 399.3,265.5 400.2,266.0 405.0,270.2 405.7,270.5 407.5,272.3 408.1,272.5 408.3,273.0ZM568.0,383.6 564.5,381.6 558.5,377.6 557.0,376.4 552.0,373.1 548.5,370.4 544.0,367.4 537.5,363.9 534.0,362.8 529.0,362.8 524.5,364.4 520.8,367.0 518.5,369.2 517.0,370.3 516.1,371.5 515.0,372.3 514.2,373.5 508.5,379.2 507.0,380.7 506.5,380.8 506.4,380.5 512.3,373.0 520.0,365.4 523.0,363.4 526.5,361.9 529.0,361.3 534.0,361.3 536.5,361.9 540.5,363.4 545.0,365.9 551.2,370.0 557.2,374.5 558.8,376.0 563.7,379.5 567.5,382.8 568.1,383.0 568.3,383.5Z" fill="#59b68b" fill-rule="evenodd"/>
<path d="M406.0,271.6 397.5,266.1 390.5,260.9 388.3,259.5 386.5,257.9 380.5,253.9 378.0,252.4 377.0,252.1 376.0,251.4 371.0,249.8 366.0,249.8 363.5,250.4 359.5,251.9 350.5,257.9 346.7,261.0 345.0,261.9 344.5,262.6 343.0,263.4 339.0,266.1 337.0,267.1 336.8,266.5 345.5,258.3 346.7,257.5 348.8,255.5 354.5,251.4 359.5,248.9 364.5,247.4 371.0,247.3 376.5,248.9 384.0,252.9 393.2,260.0 399.3,265.5 400.2,266.0 404.7,270.0 405.7,270.5 406.2,271.0 406.3,271.5ZM566.5,382.6 565.5,381.7 564.0,381.1 558.0,377.1 556.5,375.9 551.3,372.5 548.0,369.9 546.5,369.1 545.0,367.9 536.5,363.4 534.0,362.8 528.0,362.8 525.5,363.8 522.0,365.9 518.2,369.0 512.7,374.5 511.7,376.0 507.0,380.7 506.5,380.8 506.4,380.5 512.3,373.0 520.0,365.4 523.0,363.4 526.5,361.9 529.0,361.3 534.0,361.3 536.5,361.9 540.5,363.4 545.0,365.9 551.2,370.0 557.2,374.5 558.8,376.0 563.7,379.5 565.5,381.3 566.7,382.0 566.8,382.5Z" fill="#57b589" fill-rule="evenodd"/>
<path d="M406.0,271.6 397.0,265.6 395.2,264.0 393.5,263.1 391.7,261.5 382.5,255.1 381.0,253.9 375.0,250.9 371.0,249.8 365.0,249.8 361.5,250.9 357.5,252.9 351.5,256.9 346.0,261.1 340.0,265.1 337.7,266.0 337.8,265.5 339.8,263.5 341.5,262.2 345.5,258.3 346.7,257.5 348.8,255.5 354.5,251.4 359.5,248.9 364.5,247.4 371.0,247.3 376.5,248.9 384.0,252.9 393.2,260.0 399.3,265.5 403.2,268.5 405.0,270.3 405.6,270.5 406.2,271.0 406.3,271.5ZM564.5,381.1 557.5,376.6 547.5,369.4 546.0,368.6 542.0,365.9 539.0,364.6 538.0,363.9 535.0,362.8 532.0,362.7 531.0,362.4 526.5,363.4 522.0,365.9 519.5,367.8 508.5,378.7 508.0,378.8 507.9,378.5 512.5,372.8 519.5,365.8 523.0,363.4 525.0,362.4 529.0,361.3 534.0,361.3 536.5,361.9 540.5,363.4 545.0,365.9 551.2,370.0 563.7,379.5 564.7,380.5 564.8,381.0Z" fill="#54b487" fill-rule="evenodd"/>
<path d="M404.0,270.1 396.5,265.1 394.7,263.5 392.3,262.0 387.0,257.9 379.5,252.9 378.5,252.6 376.5,251.4 372.5,249.9 369.5,249.7 368.0,249.3 367.0,249.6 365.0,249.8 362.5,250.4 358.0,252.4 354.0,255.1 352.5,255.9 348.7,259.0 346.5,260.4 345.0,261.6 343.5,262.4 342.0,263.6 339.5,265.1 338.2,265.5 338.3,265.0 339.8,263.5 341.5,262.2 345.5,258.3 346.7,257.5 348.8,255.5 354.5,251.4 359.5,248.9 364.5,247.4 371.0,247.3 376.5,248.9 384.0,252.9 393.2,260.0 402.0,267.8 403.2,268.5 404.2,269.5 404.3,270.0ZM564.0,380.6 563.0,379.7 561.5,379.1 558.5,377.1 557.0,375.8 543.0,366.3 538.0,363.9 535.0,362.8 533.0,362.6 532.0,362.2 527.5,362.8 525.0,363.8 522.5,365.3 520.0,367.3 516.2,371.0 515.3,371.5 514.5,372.7 513.5,373.4 512.7,374.5 508.5,378.7 508.0,378.8 507.9,378.5 512.5,372.8 519.5,365.8 523.0,363.4 525.0,362.4 529.0,361.3 534.0,361.3 536.5,361.9 540.5,363.4 545.0,365.9 551.0,369.9 557.2,374.5 558.8,376.0 564.0,379.8 564.3,380.5Z" fill="#51b384" fill-rule="evenodd"/>
<path d="M403.5,269.6 402.5,268.7 397.5,265.6 394.0,262.9 391.8,261.5 390.0,259.9 380.5,253.4 374.5,250.4 370.0,249.3 367.0,249.3 362.0,250.4 358.0,252.3 353.0,255.4 346.0,260.6 340.0,264.6 338.7,265.0 339.8,263.5 341.5,262.3 345.5,258.3 346.7,257.5 348.8,255.5 354.5,251.4 359.5,248.9 364.5,247.4 371.0,247.3 376.5,248.9 384.0,252.9 393.5,260.3 399.0,265.3 400.5,266.3 402.5,268.3 403.5,268.8 403.8,269.5ZM563.5,380.1 558.0,376.6 550.0,370.8 547.0,369.1 545.5,367.8 543.0,366.3 537.0,363.3 532.5,362.2 530.0,362.2 527.5,362.8 525.0,363.8 521.5,365.8 518.7,368.5 517.5,369.2 511.7,375.0 511.0,376.1 509.7,377.0 509.5,377.6 508.5,378.7 508.0,378.8 507.9,378.5 512.5,372.8 519.5,365.8 523.0,363.4 525.0,362.4 528.5,361.4 534.0,361.3 536.5,361.9 540.5,363.4 545.0,365.9 551.0,369.9 557.2,374.5 559.0,376.2 561.7,378.0 563.0,379.3 563.6,379.5 563.8,380.0Z" fill="#4eb182" fill-rule="evenodd"/>
<path d="M401.5,268.1 400.0,266.8 398.5,266.1 397.0,264.8 395.0,263.6 386.0,256.9 380.0,252.9 376.0,250.9 370.5,249.3 366.0,249.3 363.5,249.9 359.5,251.4 352.0,255.9 348.5,258.6 347.0,259.4 342.0,263.1 339.5,264.6 339.2,264.5 339.3,264.0 340.3,263.0 341.5,262.3 345.5,258.3 346.7,257.5 348.8,255.5 354.5,251.4 359.5,248.9 364.5,247.4 371.0,247.3 376.5,248.9 384.0,252.9 393.2,260.0 399.3,265.5 400.2,266.0 401.7,267.5 401.8,268.0ZM562.0,379.1 549.5,370.6 548.0,369.3 546.5,368.6 541.5,365.3 538.5,363.8 533.0,362.2 529.5,362.2 527.0,362.8 522.0,365.3 519.0,367.7 510.0,376.7 509.5,376.8 509.4,376.5 511.5,374.3 512.3,373.0 519.5,365.8 523.0,363.4 525.0,362.4 528.5,361.4 534.0,361.3 536.5,361.9 540.5,363.4 545.0,365.9 551.0,369.9 557.2,374.5 558.7,376.0 562.0,378.3 562.3,379.0Z" fill="#4bb080" fill-rule="evenodd"/>
<path d="M401.0,267.6 381.0,253.4 375.0,250.4 371.0,249.3 364.5,249.4 358.0,251.9 349.5,257.4 347.7,259.0 344.5,261.1 341.0,263.2 340.0,264.1 339.7,264.0 340.0,263.3 341.0,262.8 345.5,258.3 346.7,257.5 348.8,255.5 354.5,251.4 359.5,248.9 364.5,247.4 371.0,247.3 376.5,248.9 384.0,252.9 393.2,260.0 399.0,265.3 400.2,266.0 401.2,267.0 401.3,267.5ZM560.0,377.6 559.0,376.7 556.8,375.5 555.5,374.3 552.5,372.6 551.0,371.3 542.5,365.8 536.0,362.8 534.0,362.6 533.0,362.2 528.5,362.3 525.5,363.3 522.0,365.3 519.5,367.2 514.5,372.2 513.5,372.9 512.7,374.0 510.0,376.7 509.5,376.8 509.4,376.5 511.5,374.3 512.3,373.0 519.5,365.8 523.0,363.4 525.0,362.4 529.0,361.3 534.0,361.3 536.5,361.9 540.5,363.4 545.0,365.9 551.0,369.9 556.2,374.0 557.2,374.5 559.0,376.3 560.2,377.0 560.3,377.5Z" fill="#49af7e" fill-rule="evenodd"/>
<path d="M398.5,265.6 395.5,263.6 385.0,255.9 379.5,252.4 376.5,250.9 371.5,249.3 365.0,249.3 362.5,249.9 361.0,250.6 360.0,250.9 356.0,252.9 352.0,255.6 350.5,256.4 347.2,259.0 343.2,261.5 342.1,262.5 341.7,262.5 341.8,262.0 345.5,258.3 346.7,257.5 348.8,255.5 354.5,251.4 359.5,248.9 364.5,247.4 371.0,247.3 376.5,248.9 384.0,252.9 397.0,263.3 398.7,265.0 398.8,265.5ZM400.5,267.1 399.7,266.0 400.0,265.9 400.7,266.5 400.8,267.0ZM558.0,376.1 543.5,366.3 537.5,363.3 533.5,362.2 528.5,362.3 528.0,362.6 526.5,362.8 523.5,364.3 519.8,367.0 517.7,369.0 516.5,369.7 512.5,373.7 512.0,373.8 511.9,373.5 519.5,365.8 523.0,363.4 525.0,362.4 529.0,361.3 534.0,361.3 536.5,361.9 540.5,363.4 545.0,365.9 551.0,369.9 557.2,374.5 558.2,375.5 558.3,376.0ZM510.5,376.1 510.2,376.0 510.3,375.5 511.5,374.7 511.5,375.1Z" fill="#46ae7c" fill-rule="evenodd"/>
</g>
<text class="cj" x="530" y="288.4" fill-opacity="0.9">终点</text>
<g id="pillars">
<g><polygon points="450.2,158.1 461.2,153.9 474.0,156.6 475.8,163.4 475.8,307.0 474.5,303.5 473.5,302.0 471.0,301.5 470.5,301.0 469.0,301.0 468.5,300.5 466.0,300.0 465.5,299.5 464.5,299.5 464.0,299.0 463.0,299.0 462.5,298.5 461.0,298.5 460.5,298.0 457.0,298.0 456.5,297.5 454.5,297.5 454.0,297.0 453.0,297.0 452.5,296.5 451.5,296.5 451.0,296.0 450.2,296.0" class="pf"/><polygon points="450.2,158.1 452.0,165.0 464.8,167.6 475.8,163.4 475.8,307.0 473.5,307.0 473.0,306.5 469.5,306.5 469.0,306.0 467.5,306.0 467.0,305.5 465.5,305.5 463.0,304.0 462.5,304.0 461.5,303.0 460.0,302.5 456.0,299.5 454.5,299.0 453.5,298.0 453.0,298.0 451.5,296.5 450.2,296.0" class="pf"/><path d="M474.0,156.6V302.5" class="pe2"/><path d="M461.2,153.9V298.0" class="pe2"/><path d="M450.2,158.1V296.0" class="pe3"/><path d="M452.0,165.0V297.5" class="pe"/><path d="M464.8,167.6V305.0" class="pe"/><path d="M475.8,163.4V307.0" class="pe3"/><polygon points="474.0,156.6 461.2,153.9 450.2,158.1 452.0,165.0 464.8,167.6 475.8,163.4" class="pt"/></g>
<g><polygon points="541.6,176.3 559.9,169.3 581.2,173.7 584.2,185.1 584.2,318.5 581.5,309.0 581.0,308.0 580.5,308.0 580.0,307.5 578.0,307.5 577.5,307.0 575.5,307.0 575.0,306.5 573.0,306.5 572.5,306.0 570.5,306.0 570.0,305.5 568.5,305.5 568.0,305.0 566.0,305.0 565.5,304.5 563.5,304.5 563.0,304.0 561.0,304.0 560.5,303.5 559.5,303.5 559.0,304.0 558.0,304.0 557.5,304.5 557.0,304.5 556.5,305.0 555.5,305.0 555.0,305.5 554.0,305.5 553.5,306.0 552.5,306.0 552.0,306.5 551.0,306.5 550.5,307.0 549.5,307.0 549.0,307.5 548.0,307.5 547.5,308.0 546.5,308.0 546.0,308.5 545.0,308.5 544.5,309.0 543.0,309.0 542.5,309.5 541.6,309.5" class="pf"/><polygon points="541.6,176.3 544.6,187.7 565.9,192.1 584.2,185.1 584.2,318.5 583.0,318.5 582.5,319.0 581.0,319.0 580.5,319.5 579.0,319.5 578.5,320.0 576.5,320.0 576.0,320.5 574.0,320.5 573.5,321.0 571.5,321.0 571.0,321.5 568.0,321.5 567.5,322.0 565.0,322.0 564.5,321.5 562.5,321.5 562.0,321.0 559.5,321.0 559.0,320.5 557.0,320.5 556.5,320.0 554.5,320.0 554.0,319.5 552.0,319.5 551.5,319.0 549.5,319.0 549.0,318.5 547.0,318.5 546.5,318.0 545.0,318.0 544.5,317.5 543.0,314.0 541.6,309.5" class="pf"/><path d="M581.2,173.7V308.0" class="pe2"/><path d="M559.9,169.3V303.5" class="pe2"/><path d="M541.6,176.3V309.5" class="pe3"/><path d="M544.6,187.7V318.0" class="pe"/><path d="M565.9,192.1V322.0" class="pe"/><path d="M584.2,185.1V318.5" class="pe3"/><polygon points="581.2,173.7 559.9,169.3 541.6,176.3 544.6,187.7 565.9,192.1 584.2,185.1" class="pt"/></g>
<g><polygon points="345.9,242.1 356.9,237.9 369.7,240.6 371.5,247.5 371.5,373.0 369.7,362.0 356.9,374.0 345.9,379.0" class="pf"/><polygon points="345.9,242.1 347.7,249.0 360.5,251.7 371.5,247.5 371.5,373.0 360.5,386.0 347.7,382.0 345.9,379.0" class="pf"/><path d="M369.7,240.6V362.0" class="pe2"/><path d="M356.9,237.9V374.0" class="pe2"/><path d="M345.9,242.1V379.0" class="pe3"/><path d="M347.7,249.0V382.0" class="pe"/><path d="M360.5,251.7V386.0" class="pe"/><path d="M371.5,247.5V373.0" class="pe3"/><polygon points="369.7,240.6 356.9,237.9 345.9,242.1 347.7,249.0 360.5,251.7 371.5,247.5" class="pt"/></g>
<g><polygon points="541.5,243.8 567.1,234.0 596.9,240.2 601.1,256.2 601.1,384.0 598.5,371.5 597.0,362.5 595.0,361.0 592.5,360.5 590.0,359.0 589.0,359.0 587.5,358.0 586.5,358.0 584.0,356.5 583.0,356.5 580.5,355.0 579.5,355.0 576.0,353.0 575.0,353.0 573.5,352.0 572.5,352.0 571.0,351.0 570.5,351.0 570.0,350.5 569.0,350.5 567.5,349.5 567.0,349.5 566.0,350.5 565.5,350.5 564.5,351.5 564.0,351.5 560.5,354.5 560.0,354.5 559.0,355.5 558.5,355.5 555.0,358.5 554.5,358.5 553.5,359.5 553.0,359.5 551.5,361.0 551.0,361.0 550.0,362.0 549.5,362.0 547.0,364.0 546.5,364.0 545.5,365.0 545.0,365.0 544.5,365.5 543.5,365.5 542.5,364.5 542.0,364.5 541.5,364.0" class="pf"/><polygon points="541.5,243.8 545.7,259.8 575.5,266.0 601.1,256.2 601.1,384.0 600.5,384.5 599.5,384.5 599.0,385.0 598.0,385.0 597.5,385.5 596.5,385.5 596.0,386.0 595.0,386.0 594.5,386.5 593.5,386.5 593.0,387.0 592.0,387.0 591.5,387.5 590.5,387.5 590.0,388.0 588.5,388.0 588.0,388.5 586.5,388.5 586.0,389.0 584.0,389.0 583.5,389.5 581.0,389.5 580.5,390.0 577.0,390.0 575.5,388.5 575.0,388.5 574.0,387.5 573.5,387.5 570.0,384.5 569.5,384.5 568.0,383.0 567.5,383.0 566.0,381.5 565.5,381.5 563.5,379.5 563.0,379.5 559.5,376.5 559.0,376.5 557.0,374.5 556.5,374.5 553.0,371.5 552.5,371.5 551.0,370.0 550.5,370.0 546.5,367.0 546.0,367.0 545.0,366.0 543.5,365.5 542.5,364.5 542.0,364.5 541.5,364.0" class="pf"/><path d="M596.9,240.2V362.0" class="pe2"/><path d="M567.1,234.0V349.5" class="pe2"/><path d="M541.5,243.8V364.0" class="pe3"/><path d="M545.7,259.8V366.5" class="pe"/><path d="M575.5,266.0V388.5" class="pe"/><path d="M601.1,256.2V384.0" class="pe3"/><polygon points="596.9,240.2 567.1,234.0 541.5,243.8 545.7,259.8 575.5,266.0 601.1,256.2" class="pt"/></g>
<g><polygon points="453.0,257.0 467.6,251.4 484.6,254.9 487.0,264.0 487.0,393.0 484.5,384.0 482.5,384.0 482.0,383.5 479.5,383.5 479.0,383.0 477.5,383.0 477.0,382.5 475.0,382.5 474.5,382.0 472.5,382.0 472.0,381.5 470.0,381.5 469.5,381.0 467.0,381.0 465.5,382.0 463.0,382.5 461.5,383.5 459.0,384.0 458.5,384.5 456.5,384.5 456.0,385.0 453.5,385.0 453.0,384.5" class="pf"/><polygon points="453.0,257.0 455.4,266.1 472.4,269.6 487.0,264.0 487.0,393.0 486.0,393.0 484.5,394.0 482.0,394.5 481.5,395.0 480.5,395.0 480.0,395.5 479.0,395.5 478.5,396.0 477.0,396.0 476.5,396.5 475.0,396.5 474.5,397.0 471.5,397.0 470.0,396.0 469.0,396.0 468.5,395.5 468.0,395.5 467.0,394.5 465.5,394.0 463.0,392.0 462.5,392.0 461.5,391.0 461.0,391.0 459.0,389.0 458.5,389.0 456.5,387.0 456.0,387.0 454.5,385.5 454.0,385.5 453.0,384.5" class="pf"/><path d="M484.6,254.9V384.0" class="pe2"/><path d="M467.6,251.4V381.0" class="pe2"/><path d="M453.0,257.0V384.5" class="pe3"/><path d="M455.4,266.1V386.5" class="pe"/><path d="M472.4,269.6V397.0" class="pe"/><path d="M487.0,264.0V393.0" class="pe3"/><polygon points="484.6,254.9 467.6,251.4 453.0,257.0 455.4,266.1 472.4,269.6 487.0,264.0" class="pt"/></g>
<g><polygon points="654.1,249.3 672.4,242.3 693.7,246.7 696.7,258.1 696.7,398.0 694.0,387.5 693.5,386.5 693.0,386.5 692.5,386.0 690.5,386.0 690.0,385.5 688.5,385.5 688.0,385.0 686.5,385.0 686.0,384.5 684.5,384.5 684.0,384.0 682.5,384.0 682.0,383.5 680.0,383.5 679.5,383.0 678.5,383.0 678.0,382.5 676.5,382.5 676.0,382.0 674.5,382.0 674.0,381.5 673.0,381.5 672.5,381.0 672.0,381.5 671.0,381.5 669.5,382.5 668.5,382.5 667.0,383.5 666.0,383.5 664.5,384.5 663.5,384.5 662.0,385.5 661.0,385.5 659.5,386.5 658.5,386.5 657.0,387.5 656.0,387.5 655.5,388.0 654.1,388.5" class="pf"/><polygon points="654.1,249.3 657.1,260.7 678.4,265.1 696.7,258.1 696.7,398.0 696.0,398.5 695.0,398.5 694.5,399.0 693.5,399.0 692.0,400.0 689.5,400.5 688.0,401.5 687.0,401.5 685.5,402.5 683.0,403.0 681.5,404.0 679.0,404.5 678.5,405.0 678.0,405.0 677.5,404.5 675.5,404.5 675.0,404.0 673.5,404.0 673.0,403.5 671.0,403.5 670.5,403.0 668.5,403.0 668.0,402.5 666.5,402.5 666.0,402.0 664.0,402.0 663.5,401.5 662.0,401.5 661.5,401.0 659.5,401.0 659.0,400.5 657.5,400.5 657.0,400.0 654.1,388.5" class="pf"/><path d="M693.7,246.7V386.5" class="pe2"/><path d="M672.4,242.3V381.0" class="pe2"/><path d="M654.1,249.3V388.5" class="pe3"/><path d="M657.1,260.7V400.5" class="pe"/><path d="M678.4,265.1V405.0" class="pe"/><path d="M696.7,258.1V398.0" class="pe3"/><polygon points="693.7,246.7 672.4,242.3 654.1,249.3 657.1,260.7 678.4,265.1 696.7,258.1" class="pt"/></g>
<g><polygon points="388.0,269.3 399.0,265.1 411.8,267.8 413.6,274.7 413.9,387.3 412.0,376.2 399.2,392.7 388.1,407.0" class="pf"/><polygon points="388.0,269.3 389.8,276.2 402.6,278.9 413.6,274.7 413.9,387.3 402.9,403.0 390.1,415.8 388.1,407.0" class="pf"/><path d="M411.8,267.8V376.5" class="pe2"/><path d="M399.0,265.1V393.0" class="pe2"/><path d="M388.0,269.3V407.0" class="pe3"/><path d="M389.8,276.2V414.6" class="pe"/><path d="M402.6,278.9V403.3" class="pe"/><path d="M413.6,274.7V387.8" class="pe3"/><polygon points="411.8,267.8 399.0,265.1 388.0,269.3 389.8,276.2 402.6,278.9 413.6,274.7" class="pt"/></g>
<g><polygon points="587.7,288.9 606.0,281.9 627.3,286.3 630.3,297.7 630.3,434.0 628.0,424.5 627.0,422.0 626.5,421.5 621.5,419.5 620.5,418.5 620.0,418.5 619.5,418.0 618.5,418.0 617.5,417.0 615.0,416.0 614.0,415.0 612.5,414.5 610.0,412.5 608.5,412.0 606.0,410.0 604.5,410.0 604.0,409.5 603.0,409.5 602.5,409.0 601.5,409.0 600.0,408.0 599.0,408.0 598.5,407.5 597.5,407.5 597.0,407.0 596.0,407.0 593.5,405.5 592.5,405.5 591.0,404.5 590.0,404.5 589.5,404.0 588.0,403.5 587.7,403.0" class="pf"/><polygon points="587.7,288.9 590.7,300.3 612.0,304.7 630.3,297.7 630.3,434.0 629.0,434.0 628.5,434.5 626.0,434.5 625.5,435.0 623.0,435.0 622.5,435.5 620.0,435.5 619.5,436.0 616.5,436.0 616.0,436.5 613.0,436.5 612.5,437.0 612.0,437.0 610.5,436.0 610.0,436.0 608.5,434.5 607.0,434.0 605.5,432.5 605.0,432.5 604.0,431.5 603.5,431.5 600.5,429.0 600.0,429.0 595.0,424.5 594.5,424.5 591.0,421.0 590.5,419.5 587.7,403.0" class="pf"/><path d="M627.3,286.3V422.0" class="pe2"/><path d="M606.0,281.9V410.0" class="pe2"/><path d="M587.7,288.9V403.0" class="pe3"/><path d="M590.7,300.3V421.0" class="pe"/><path d="M612.0,304.7V437.0" class="pe"/><path d="M630.3,297.7V434.0" class="pe3"/><polygon points="627.3,286.3 606.0,281.9 587.7,288.9 590.7,300.3 612.0,304.7 630.3,297.7" class="pt"/></g>
<g><polygon points="325.6,329.4 347.6,321.0 373.1,326.3 376.8,340.0 376.7,477.5 373.0,464.0 372.5,464.0 372.0,463.5 369.5,463.5 369.0,463.0 367.0,463.0 366.5,462.5 364.5,462.5 364.0,462.0 362.0,462.0 361.5,461.5 360.0,461.5 359.5,461.0 357.5,461.0 357.0,460.5 355.0,460.5 354.5,460.0 352.5,460.0 352.0,459.5 350.0,459.5 349.5,459.0 346.5,459.0 345.0,460.0 342.5,460.5 341.0,461.5 340.0,461.5 339.5,462.0 339.0,462.0 338.5,462.5 337.5,462.5 336.0,463.5 333.5,464.0 332.0,465.0 331.0,465.0 330.5,465.5 329.5,465.5 329.0,466.0 328.5,466.0 328.0,466.5 327.0,466.5 326.5,467.0 325.7,467.0" class="pf"/><polygon points="325.6,329.4 329.3,343.1 354.8,348.4 376.8,340.0 376.7,478.0 376.0,478.0 375.5,478.5 374.5,478.5 374.0,479.0 373.0,479.0 371.5,480.0 370.5,480.0 370.0,480.5 369.0,480.5 366.5,482.0 364.0,482.5 362.5,483.5 361.5,483.5 361.0,484.0 360.0,484.0 358.5,485.0 357.5,485.0 357.0,485.5 356.5,485.5 356.0,486.0 353.0,486.0 352.5,485.5 350.5,485.5 350.0,485.0 348.0,485.0 347.5,484.5 345.5,484.5 345.0,484.0 343.0,484.0 342.5,483.5 340.5,483.5 340.0,483.0 338.5,483.0 338.0,482.5 336.0,482.5 335.5,482.0 333.5,482.0 333.0,481.5 331.0,481.5 330.5,481.0 329.5,481.0 329.0,480.0 325.7,467.5" class="pf"/><path d="M373.1,326.3V464.0" class="pe2"/><path d="M347.6,321.0V459.0" class="pe2"/><path d="M325.6,329.4V467.0" class="pe3"/><path d="M329.3,343.1V481.0" class="pe"/><path d="M354.8,348.4V486.0" class="pe"/><path d="M376.8,340.0V478.0" class="pe3"/><polygon points="373.1,326.3 347.6,321.0 325.6,329.4 329.3,343.1 354.8,348.4 376.8,340.0" class="pt"/></g>
<g><polygon points="473.7,348.2 492.0,341.2 513.3,345.6 516.3,357.0 516.3,493.5 513.5,481.0 513.0,480.0 512.5,480.0 512.0,479.5 510.5,479.5 510.0,479.0 508.0,479.0 507.5,478.5 506.0,478.5 505.5,478.0 503.5,478.0 503.0,477.5 501.0,477.5 500.5,477.0 498.0,477.0 497.5,476.5 495.5,476.5 495.0,476.0 492.5,476.0 492.0,475.5 489.5,477.0 489.0,477.0 488.0,478.0 487.5,478.0 487.0,478.5 486.5,478.5 486.0,479.0 485.5,479.0 485.0,479.5 484.5,479.5 484.0,480.0 483.5,480.0 483.0,480.5 482.5,480.5 482.0,481.0 481.5,481.0 481.0,481.5 480.5,481.5 480.0,482.0 479.5,482.0 479.0,482.5 478.5,482.5 478.0,483.0 477.5,483.0 477.0,483.5 476.5,483.5 476.0,484.0 475.5,484.0 473.7,485.0" class="pf"/><polygon points="473.7,348.2 476.7,359.6 498.0,364.0 516.3,357.0 516.3,494.0 515.5,494.0 512.0,496.0 511.0,496.0 505.5,499.0 504.5,499.0 501.0,501.0 500.0,501.0 499.5,501.5 499.0,501.5 498.5,502.0 496.5,502.0 496.0,501.5 494.0,501.5 493.5,501.0 491.5,501.0 491.0,500.5 489.0,500.5 488.5,500.0 486.5,500.0 486.0,499.5 484.5,499.5 484.0,499.0 482.0,499.0 481.5,498.5 479.5,498.5 479.0,498.0 477.0,498.0 476.5,497.0 473.7,485.0" class="pf"/><path d="M513.3,345.6V480.0" class="pe2"/><path d="M492.0,341.2V475.5" class="pe2"/><path d="M473.7,348.2V485.0" class="pe3"/><path d="M476.7,359.6V498.0" class="pe"/><path d="M498.0,364.0V502.0" class="pe"/><path d="M516.3,357.0V493.5" class="pe3"/><polygon points="513.3,345.6 492.0,341.2 473.7,348.2 476.7,359.6 498.0,364.0 516.3,357.0" class="pt"/></g>
</g>
<rect x="402.2" y="485.4" width="10.4" height="10.4" fill="#000"/>
<circle cx="523.0" cy="279.9" r="6.2" fill="#000"/>
<polyline class="ln" points="407.2,490.4 405.3,478.6 404.6,466.2 410.2,455.3 417.5,437.4 424.5,418.2 429.0,408.0 430.0,390.0 429.4,373.0 431.9,355.0 431.0,330.0 429.8,312.5 425.5,309.5 499.7,287.1 523.0,279.9" stroke="#00ffff" stroke-dasharray="15.5 4.5 7.7 4.3"/>
<polyline class="ln" points="407.2,490.4 409.8,467.6 412.5,456.6 419.4,437.4 426.6,420.5 429.4,410.0 425.3,397.6 419.8,378.4 417.7,367.4 417.0,355.0 413.5,344.0 411.5,338.0 426.4,324.2 414.0,340.5 432.5,333.8 497.0,295.4 523.0,279.9" stroke="#0000ff" stroke-dasharray="15.5 4.5 7.7 4.3"/>
<polyline class="ln" points="407.2,490.4 413.9,458.0 418.0,451.2 424.9,440.2 430.4,430.6 435.2,422.3 439.0,411.3 444.5,389.4 454.1,374.3 462.3,364.7 478.8,341.4 486.0,319.4 497.0,300.4 506.6,279.9 520.4,265.5 540.9,245.6 528.6,265.5 523.0,279.9" stroke="#ff0000" stroke-dasharray="15.5 4.5 7.7 4.3"/>
<polyline class="ln" points="407.2,490.4 409.0,466.0 409.8,444.3 410.5,430.6 429.4,412.7 436.2,404.5 451.3,386.6 461.3,357.8 474.7,342.1 491.5,324.9 505.2,309.8 506.6,300.2 506.8,264.0 490.2,242.1 506.5,260.5 523.0,279.9" stroke="#00ff00" stroke-dasharray="15.5 4.5 7.7 4.3"/>
<polyline class="ln" points="410.5,487.5 417.3,478.6" stroke="#ff00ff"/>
<polyline class="ln" points="427.6,464.2 436.5,453.2" stroke="#ff00ff"/>
<polyline class="ln" points="444.8,437.4 450.9,424.4" stroke="#ff00ff"/>
<polyline class="ln" points="443.8,407.2 445.8,396.2" stroke="#ff00ff"/>
<polyline class="ln" points="447.2,375.7 448.6,362.0" stroke="#ff00ff"/>
<polyline class="ln" points="438.3,350.3 423.9,347.5" stroke="#ff00ff"/>
<polyline class="ln" points="431.5,349.0 431.8,346.0" stroke="#ff00ff"/>
<polyline class="ln" points="422.2,333.1 426.4,319.4" stroke="#ff00ff"/>
<polyline class="ln" points="432.5,302.9 443.5,291.9" stroke="#ff00ff"/>
<polyline class="ln" points="453.8,278.2 462.7,270.0" stroke="#ff00ff"/>
<polyline class="ln" points="477.1,258.6 491.6,254.5" stroke="#ff00ff"/>
<polyline class="ln" points="508.0,249.7 517.6,247.6 519.0,253.0" stroke="#ff00ff"/>
<polyline class="ln" points="520.4,270.3 523.1,278.5" stroke="#ff00ff"/>
<text class="cj" x="415" y="500.6">起点</text>
<path class="ax" d="M114.5,376.4L114.5,235.8"/>
<path class="ax" stroke-dasharray="1 7" d="M395.2,559.5L479.3,527.3"/>
<path class="ax" stroke-dasharray="1.2 2" d="M479.3,527.3L541.5,503.6"/>
<path class="ax" d="M541.5,503.6L696.9,444.2"/>
<path class="ax" stroke-dasharray="1.2 1.8" d="M696.9,444.2L760.9,419.7"/>
<path class="ax" stroke-dasharray="2.4 1.5" d="M395.2,559.5L263.2,473.4"/>
<path class="ax" stroke-dasharray="1.1 2.6" d="M263.2,473.4L114.3,376.4"/>
<path class="ax" d="M468.3,531.5l8.3,5.4M541.5,503.6l8.3,5.4M614.6,475.6l8.3,5.4M687.8,447.7l8.3,5.4M760.9,419.7l8.3,5.4M339.0,522.9l-9.3,3.8M282.8,486.3l-9.3,3.8M226.7,449.6l-9.3,3.8M170.5,413.0l-9.3,3.8M114.3,376.4l-9.3,3.8M114.5,376.4l-8.3,-5.0M114.5,295.9l-8.3,-5.0"/>
<text class="tk" x="484.0" y="561.8" text-anchor="start" >200</text>
<text class="tk" x="556.6" y="532.9" text-anchor="start" >400</text>
<text class="tk" x="629.1" y="505.2" text-anchor="start" >600</text>
<text class="tk" x="702.6" y="477.6" text-anchor="start" >800</text>
<text class="tk" x="776.5" y="450.2" text-anchor="start" >1000</text>
<text class="tk" x="287.5" y="550.5" text-anchor="start" >200</text>
<text class="tk" x="231.4" y="514.0" text-anchor="start" >400</text>
<text class="tk" x="175.4" y="476.9" text-anchor="start" >600</text>
<text class="tk" x="119.3" y="440.4" text-anchor="start" >800</text>
<text class="tk" x="52.7" y="403.9" text-anchor="start" >1000</text>
<text class="tk" x="98.2" y="374.2" text-anchor="end" >0</text>
<text class="tk" x="98.2" y="294.6" text-anchor="end" >200</text>
<text class="lb" x="562.0" y="616.6" text-anchor="start" >x/m</text>
<text class="lb" x="238.3" y="641.5" text-anchor="start" >y/m</text>
<text class="lb" transform="translate(51,323.5) rotate(-90)">z/m</text>
<text x="438.3" y="87.7" text-anchor="middle" font-size="22.5px" fill="#000">PIO</text>
<rect x="17.5" y="17.5" width="128" height="128.5" fill="#fff" stroke="#262626" stroke-width="1"/>
<path d="M23.4,32.6H83.4" stroke="#0000ff" stroke-width="4" stroke-dasharray="15.5 4.5 7.7 4.3" fill="none"/>
<text class="lg" x="91.9" y="38.6">UAV1</text>
<path d="M23.4,57.1H83.4" stroke="#ff0000" stroke-width="4" stroke-dasharray="15.5 4.5 7.7 4.3" fill="none"/>
<text class="lg" x="91.9" y="63.1">UAV2</text>
<path d="M23.4,81.8H83.4" stroke="#00ffff" stroke-width="4" stroke-dasharray="15.5 4.5 7.7 4.3" fill="none"/>
<text class="lg" x="91.9" y="87.8">UAV3</text>
<path d="M23.4,106.2H83.4" stroke="#ff00ff" stroke-width="4" stroke-dasharray="15.5 16.5" fill="none"/>
<text class="lg" x="91.9" y="112.2">UAV4</text>
<path d="M23.4,130.8H83.4" stroke="#00ff00" stroke-width="4" stroke-dasharray="15.5 4.5 7.7 4.3" fill="none"/>
<text class="lg" x="91.9" y="136.8">UAV5</text>
</svg></body></html>
